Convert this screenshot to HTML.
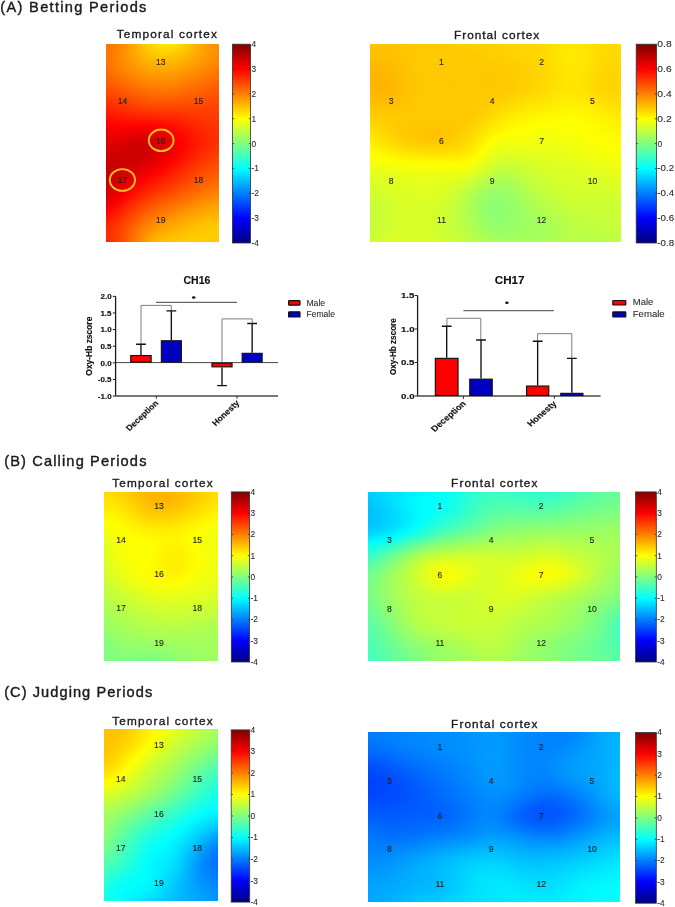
<!DOCTYPE html><html><head><meta charset="utf-8"><style>
*{margin:0;padding:0;box-sizing:border-box}
html,body{width:675px;height:907px;background:#fff;overflow:hidden}
body{position:relative;font-family:"Liberation Sans",sans-serif}
.hm{position:absolute;overflow:hidden}
.hm i{display:block;width:100%}
svg#ov{position:absolute;left:0;top:0;will-change:transform}
</style></head><body><div class="hm" style="left:106px;top:44px;width:113px;height:197.5px"><i style="height:2px;background:linear-gradient(90deg,#ff7300,#ff7600,#ff7d00,#ff8600,#ff9200,#ffa000,#ffae00,#ffbc00,#ffca00,#ffd500,#ffde00,#ffe300,#ffe600,#ffe600,#ffe100,#ffda00,#ffd000,#ffc400,#ffb800,#ffac00,#ffa100,#ff9800,#ff9300,#ff9200)"></i><i style="height:2px;background:linear-gradient(90deg,#ff7400,#ff7800,#ff7f00,#ff8800,#ff9400,#ffa100,#ffae00,#ffbb00,#ffc700,#ffd100,#ffd900,#ffde00,#ffe000,#ffdf00,#ffdc00,#ffd500,#ffcc00,#ffc100,#ffb600,#ffab00,#ffa100,#ff9900,#ff9300,#ff9100)"></i><i style="height:2px;background:linear-gradient(90deg,#ff7500,#ff7900,#ff8000,#ff8a00,#ff9500,#ffa100,#ffad00,#ffb900,#ffc400,#ffcd00,#ffd400,#ffd800,#ffda00,#ffd900,#ffd600,#ffd000,#ffc700,#ffbe00,#ffb400,#ffaa00,#ffa000,#ff9900,#ff9300,#ff9000)"></i><i style="height:2px;background:linear-gradient(90deg,#ff7500,#ff7a00,#ff8100,#ff8b00,#ff9500,#ffa000,#ffac00,#ffb700,#ffc100,#ffc900,#ffcf00,#ffd300,#ffd500,#ffd400,#ffd000,#ffcb00,#ffc300,#ffbb00,#ffb200,#ffa800,#ffa000,#ff9800,#ff9200,#ff8f00)"></i><i style="height:2px;background:linear-gradient(90deg,#ff7500,#ff7a00,#ff8200,#ff8b00,#ff9500,#ffa000,#ffaa00,#ffb400,#ffbd00,#ffc500,#ffca00,#ffce00,#ffcf00,#ffce00,#ffcb00,#ffc600,#ffbf00,#ffb700,#ffaf00,#ffa700,#ff9e00,#ff9700,#ff9100,#ff8d00)"></i><i style="height:2px;background:linear-gradient(90deg,#ff7500,#ff7b00,#ff8200,#ff8b00,#ff9500,#ff9f00,#ffa900,#ffb200,#ffba00,#ffc100,#ffc600,#ffc900,#ffca00,#ffc900,#ffc600,#ffc100,#ffbb00,#ffb400,#ffac00,#ffa500,#ff9d00,#ff9600,#ff9000,#ff8b00)"></i><i style="height:2px;background:linear-gradient(90deg,#ff7400,#ff7a00,#ff8200,#ff8b00,#ff9400,#ff9d00,#ffa700,#ffaf00,#ffb700,#ffbd00,#ffc100,#ffc400,#ffc500,#ffc400,#ffc100,#ffbd00,#ffb700,#ffb000,#ffa900,#ffa200,#ff9b00,#ff9400,#ff8e00,#ff8900)"></i><i style="height:2px;background:linear-gradient(90deg,#ff7400,#ff7a00,#ff8200,#ff8a00,#ff9300,#ff9c00,#ffa400,#ffac00,#ffb300,#ffb900,#ffbd00,#ffbf00,#ffc000,#ffbe00,#ffbc00,#ffb800,#ffb300,#ffad00,#ffa600,#ffa000,#ff9900,#ff9200,#ff8c00,#ff8700)"></i><i style="height:2px;background:linear-gradient(90deg,#ff7300,#ff7900,#ff8100,#ff8900,#ff9100,#ff9a00,#ffa200,#ffa900,#ffb000,#ffb500,#ffb900,#ffba00,#ffbb00,#ffba00,#ffb700,#ffb300,#ffaf00,#ffa900,#ffa300,#ff9d00,#ff9600,#ff9000,#ff8a00,#ff8400)"></i><i style="height:2px;background:linear-gradient(90deg,#ff7100,#ff7800,#ff7f00,#ff8700,#ff8f00,#ff9700,#ff9f00,#ffa600,#ffac00,#ffb100,#ffb400,#ffb600,#ffb600,#ffb500,#ffb200,#ffaf00,#ffaa00,#ffa500,#ffa000,#ff9a00,#ff9300,#ff8d00,#ff8700,#ff8200)"></i><i style="height:2px;background:linear-gradient(90deg,#ff7000,#ff7700,#ff7e00,#ff8500,#ff8d00,#ff9500,#ff9c00,#ffa300,#ffa800,#ffad00,#ffb000,#ffb100,#ffb100,#ffb000,#ffae00,#ffaa00,#ffa600,#ffa100,#ff9c00,#ff9600,#ff9000,#ff8a00,#ff8500,#ff7f00)"></i><i style="height:2px;background:linear-gradient(90deg,#ff6e00,#ff7500,#ff7c00,#ff8300,#ff8b00,#ff9200,#ff9900,#ff9f00,#ffa500,#ffa900,#ffab00,#ffad00,#ffad00,#ffab00,#ffa900,#ffa600,#ffa200,#ff9d00,#ff9800,#ff9300,#ff8d00,#ff8700,#ff8200,#ff7c00)"></i><i style="height:2px;background:linear-gradient(90deg,#ff6d00,#ff7300,#ff7a00,#ff8100,#ff8800,#ff8f00,#ff9600,#ff9c00,#ffa100,#ffa500,#ffa700,#ffa800,#ffa800,#ffa700,#ffa500,#ffa200,#ff9e00,#ff9900,#ff9400,#ff8f00,#ff8a00,#ff8400,#ff7f00,#ff7900)"></i><i style="height:2px;background:linear-gradient(90deg,#ff6b00,#ff7100,#ff7700,#ff7e00,#ff8500,#ff8c00,#ff9200,#ff9800,#ff9d00,#ffa000,#ffa300,#ffa400,#ffa300,#ffa200,#ffa000,#ff9d00,#ff9900,#ff9500,#ff9000,#ff8b00,#ff8600,#ff8100,#ff7b00,#ff7600)"></i><i style="height:2px;background:linear-gradient(90deg,#ff6800,#ff6e00,#ff7400,#ff7b00,#ff8200,#ff8800,#ff8e00,#ff9400,#ff9800,#ff9c00,#ff9e00,#ff9f00,#ff9f00,#ff9e00,#ff9c00,#ff9900,#ff9500,#ff9100,#ff8c00,#ff8800,#ff8200,#ff7d00,#ff7800,#ff7300)"></i><i style="height:2px;background:linear-gradient(90deg,#ff6600,#ff6b00,#ff7100,#ff7800,#ff7e00,#ff8400,#ff8a00,#ff9000,#ff9400,#ff9800,#ff9a00,#ff9b00,#ff9a00,#ff9900,#ff9700,#ff9400,#ff9100,#ff8d00,#ff8800,#ff8400,#ff7f00,#ff7a00,#ff7500,#ff7000)"></i><i style="height:2px;background:linear-gradient(90deg,#ff6300,#ff6800,#ff6e00,#ff7400,#ff7a00,#ff8000,#ff8600,#ff8c00,#ff9000,#ff9300,#ff9500,#ff9600,#ff9600,#ff9500,#ff9300,#ff9000,#ff8c00,#ff8800,#ff8400,#ff7f00,#ff7b00,#ff7600,#ff7100,#ff6d00)"></i><i style="height:2px;background:linear-gradient(90deg,#ff6000,#ff6500,#ff6b00,#ff7000,#ff7600,#ff7c00,#ff8200,#ff8700,#ff8b00,#ff8f00,#ff9100,#ff9200,#ff9100,#ff9000,#ff8e00,#ff8b00,#ff8800,#ff8400,#ff8000,#ff7b00,#ff7700,#ff7200,#ff6e00,#ff6900)"></i><i style="height:2px;background:linear-gradient(90deg,#ff5d00,#ff6200,#ff6700,#ff6d00,#ff7200,#ff7800,#ff7e00,#ff8300,#ff8700,#ff8a00,#ff8c00,#ff8d00,#ff8d00,#ff8c00,#ff8a00,#ff8700,#ff8400,#ff8000,#ff7c00,#ff7700,#ff7300,#ff6e00,#ff6a00,#ff6600)"></i><i style="height:2px;background:linear-gradient(90deg,#ff5a00,#ff5e00,#ff6300,#ff6900,#ff6e00,#ff7400,#ff7900,#ff7e00,#ff8200,#ff8600,#ff8800,#ff8800,#ff8800,#ff8700,#ff8500,#ff8200,#ff7f00,#ff7b00,#ff7700,#ff7300,#ff6f00,#ff6a00,#ff6600,#ff6300)"></i><i style="height:2px;background:linear-gradient(90deg,#ff5700,#ff5a00,#ff5f00,#ff6400,#ff6a00,#ff6f00,#ff7500,#ff7900,#ff7e00,#ff8100,#ff8300,#ff8400,#ff8400,#ff8200,#ff8000,#ff7e00,#ff7b00,#ff7700,#ff7300,#ff6f00,#ff6b00,#ff6700,#ff6300,#ff6000)"></i><i style="height:2px;background:linear-gradient(90deg,#ff5300,#ff5700,#ff5b00,#ff6000,#ff6500,#ff6b00,#ff7000,#ff7500,#ff7900,#ff7c00,#ff7e00,#ff7f00,#ff7f00,#ff7e00,#ff7c00,#ff7900,#ff7600,#ff7200,#ff6f00,#ff6b00,#ff6700,#ff6300,#ff5f00,#ff5c00)"></i><i style="height:2px;background:linear-gradient(90deg,#ff4f00,#ff5300,#ff5700,#ff5c00,#ff6100,#ff6600,#ff6b00,#ff7000,#ff7400,#ff7700,#ff7900,#ff7a00,#ff7a00,#ff7900,#ff7700,#ff7400,#ff7100,#ff6e00,#ff6a00,#ff6700,#ff6300,#ff5f00,#ff5c00,#ff5900)"></i><i style="height:2px;background:linear-gradient(90deg,#ff4b00,#ff4e00,#ff5200,#ff5700,#ff5c00,#ff6100,#ff6600,#ff6b00,#ff6f00,#ff7200,#ff7400,#ff7500,#ff7500,#ff7400,#ff7200,#ff7000,#ff6d00,#ff6a00,#ff6600,#ff6300,#ff5f00,#ff5c00,#ff5900,#ff5600)"></i><i style="height:2px;background:linear-gradient(90deg,#ff4700,#ff4a00,#ff4e00,#ff5300,#ff5700,#ff5c00,#ff6100,#ff6600,#ff6a00,#ff6d00,#ff6f00,#ff7000,#ff7000,#ff6f00,#ff6d00,#ff6b00,#ff6800,#ff6500,#ff6200,#ff5f00,#ff5b00,#ff5800,#ff5600,#ff5400)"></i><i style="height:2px;background:linear-gradient(90deg,#ff4300,#ff4600,#ff4a00,#ff4e00,#ff5300,#ff5800,#ff5c00,#ff6100,#ff6500,#ff6800,#ff6a00,#ff6a00,#ff6a00,#ff6900,#ff6800,#ff6600,#ff6300,#ff6100,#ff5e00,#ff5b00,#ff5800,#ff5500,#ff5300,#ff5100)"></i><i style="height:2px;background:linear-gradient(90deg,#ff3e00,#ff4100,#ff4500,#ff4900,#ff4e00,#ff5300,#ff5700,#ff5c00,#ff5f00,#ff6200,#ff6400,#ff6500,#ff6500,#ff6400,#ff6300,#ff6100,#ff5f00,#ff5c00,#ff5a00,#ff5700,#ff5500,#ff5200,#ff5000,#ff4e00)"></i><i style="height:2px;background:linear-gradient(90deg,#ff3a00,#ff3d00,#ff4000,#ff4500,#ff4900,#ff4e00,#ff5200,#ff5600,#ff5a00,#ff5d00,#ff5e00,#ff5f00,#ff5f00,#ff5e00,#ff5d00,#ff5c00,#ff5a00,#ff5800,#ff5600,#ff5300,#ff5100,#ff4f00,#ff4d00,#ff4c00)"></i><i style="height:2px;background:linear-gradient(90deg,#ff3500,#ff3800,#ff3c00,#ff4000,#ff4400,#ff4900,#ff4d00,#ff5100,#ff5500,#ff5700,#ff5900,#ff5900,#ff5900,#ff5900,#ff5800,#ff5600,#ff5500,#ff5300,#ff5200,#ff5000,#ff4e00,#ff4d00,#ff4b00,#ff4900)"></i><i style="height:2px;background:linear-gradient(90deg,#ff3100,#ff3300,#ff3700,#ff3b00,#ff3f00,#ff4400,#ff4800,#ff4c00,#ff4f00,#ff5100,#ff5300,#ff5300,#ff5300,#ff5300,#ff5200,#ff5100,#ff5000,#ff4f00,#ff4e00,#ff4c00,#ff4b00,#ff4a00,#ff4900,#ff4700)"></i><i style="height:2px;background:linear-gradient(90deg,#ff2c00,#ff2f00,#ff3200,#ff3600,#ff3a00,#ff3f00,#ff4200,#ff4600,#ff4900,#ff4b00,#ff4d00,#ff4d00,#ff4d00,#ff4d00,#ff4c00,#ff4c00,#ff4b00,#ff4b00,#ff4a00,#ff4900,#ff4800,#ff4700,#ff4600,#ff4500)"></i><i style="height:2px;background:linear-gradient(90deg,#ff2700,#ff2a00,#ff2e00,#ff3100,#ff3500,#ff3900,#ff3d00,#ff4000,#ff4300,#ff4500,#ff4600,#ff4700,#ff4700,#ff4700,#ff4700,#ff4700,#ff4600,#ff4600,#ff4600,#ff4600,#ff4500,#ff4500,#ff4400,#ff4300)"></i><i style="height:2px;background:linear-gradient(90deg,#ff2200,#ff2500,#ff2900,#ff2d00,#ff3000,#ff3400,#ff3700,#ff3a00,#ff3d00,#ff3f00,#ff4000,#ff4100,#ff4100,#ff4100,#ff4100,#ff4100,#ff4200,#ff4200,#ff4200,#ff4300,#ff4300,#ff4200,#ff4200,#ff4100)"></i><i style="height:2px;background:linear-gradient(90deg,#ff1d00,#ff2100,#ff2400,#ff2800,#ff2b00,#ff2f00,#ff3200,#ff3400,#ff3700,#ff3800,#ff3900,#ff3a00,#ff3a00,#ff3b00,#ff3b00,#ff3c00,#ff3d00,#ff3e00,#ff3f00,#ff3f00,#ff4000,#ff4000,#ff4000,#ff3f00)"></i><i style="height:2px;background:linear-gradient(90deg,#ff1900,#ff1c00,#ff1f00,#ff2300,#ff2600,#ff2900,#ff2c00,#ff2e00,#ff3000,#ff3200,#ff3300,#ff3300,#ff3400,#ff3500,#ff3500,#ff3600,#ff3800,#ff3900,#ff3b00,#ff3c00,#ff3d00,#ff3e00,#ff3e00,#ff3e00)"></i><i style="height:2px;background:linear-gradient(90deg,#ff1400,#ff1800,#ff1b00,#ff1e00,#ff2100,#ff2300,#ff2600,#ff2800,#ff2900,#ff2b00,#ff2c00,#ff2d00,#ff2d00,#ff2e00,#ff3000,#ff3100,#ff3300,#ff3500,#ff3700,#ff3900,#ff3b00,#ff3c00,#ff3c00,#ff3c00)"></i><i style="height:2px;background:linear-gradient(90deg,#ff1000,#ff1300,#ff1600,#ff1900,#ff1b00,#ff1d00,#ff1f00,#ff2100,#ff2200,#ff2400,#ff2500,#ff2600,#ff2700,#ff2800,#ff2a00,#ff2c00,#ff2e00,#ff3100,#ff3400,#ff3600,#ff3800,#ff3a00,#ff3a00,#ff3a00)"></i><i style="height:2px;background:linear-gradient(90deg,#ff0b00,#ff0f00,#ff1100,#ff1400,#ff1600,#ff1800,#ff1900,#ff1a00,#ff1b00,#ff1c00,#ff1d00,#ff1e00,#ff2000,#ff2200,#ff2400,#ff2700,#ff2a00,#ff2d00,#ff3000,#ff3300,#ff3500,#ff3700,#ff3900,#ff3900)"></i><i style="height:2px;background:linear-gradient(90deg,#ff0700,#ff0a00,#ff0d00,#ff0f00,#ff1000,#ff1100,#ff1200,#ff1300,#ff1400,#ff1500,#ff1600,#ff1700,#ff1900,#ff1b00,#ff1e00,#ff2200,#ff2500,#ff2900,#ff2d00,#ff3000,#ff3300,#ff3500,#ff3700,#ff3700)"></i><i style="height:2px;background:linear-gradient(90deg,#ff0300,#ff0600,#ff0800,#ff0a00,#ff0b00,#ff0b00,#ff0c00,#ff0c00,#ff0c00,#ff0d00,#ff0e00,#ff1000,#ff1200,#ff1500,#ff1900,#ff1c00,#ff2100,#ff2500,#ff2900,#ff2d00,#ff3000,#ff3300,#ff3500,#ff3600)"></i><i style="height:2px;background:linear-gradient(90deg,#fe0000,#ff0200,#ff0400,#ff0500,#ff0500,#ff0500,#ff0500,#ff0500,#ff0500,#ff0500,#ff0700,#ff0900,#ff0c00,#ff0f00,#ff1300,#ff1800,#ff1c00,#ff2100,#ff2600,#ff2a00,#ff2e00,#ff3100,#ff3300,#ff3500)"></i><i style="height:2px;background:linear-gradient(90deg,#fa0000,#fd0000,#fe0000,#ff0000,#ff0000,#fe0000,#fd0000,#fd0000,#fc0000,#fd0000,#fe0000,#ff0200,#ff0500,#ff0900,#ff0e00,#ff1300,#ff1800,#ff1e00,#ff2300,#ff2800,#ff2c00,#ff2f00,#ff3200,#ff3300)"></i><i style="height:2px;background:linear-gradient(90deg,#f60000,#f90000,#fa0000,#fa0000,#f90000,#f80000,#f70000,#f60000,#f50000,#f60000,#f70000,#fa0000,#fe0000,#ff0400,#ff0900,#ff0f00,#ff1500,#ff1a00,#ff2000,#ff2500,#ff2a00,#ff2e00,#ff3100,#ff3300)"></i><i style="height:2px;background:linear-gradient(90deg,#f20000,#f50000,#f60000,#f50000,#f40000,#f20000,#f10000,#ef0000,#ee0000,#ef0000,#f10000,#f40000,#f80000,#fe0000,#ff0500,#ff0b00,#ff1100,#ff1700,#ff1d00,#ff2300,#ff2800,#ff2c00,#ff3000,#ff3200)"></i><i style="height:2px;background:linear-gradient(90deg,#ef0000,#f10000,#f20000,#f10000,#ef0000,#ed0000,#eb0000,#e90000,#e80000,#e80000,#ea0000,#ee0000,#f30000,#f90000,#ff0100,#ff0700,#ff0e00,#ff1500,#ff1b00,#ff2100,#ff2600,#ff2b00,#ff2f00,#ff3100)"></i><i style="height:2px;background:linear-gradient(90deg,#eb0000,#ee0000,#ee0000,#ed0000,#ea0000,#e80000,#e50000,#e30000,#e20000,#e20000,#e50000,#e90000,#ee0000,#f50000,#fc0000,#ff0400,#ff0b00,#ff1200,#ff1900,#ff1f00,#ff2500,#ff2a00,#ff2e00,#ff3100)"></i><i style="height:2px;background:linear-gradient(90deg,#e80000,#ea0000,#ea0000,#e80000,#e60000,#e30000,#e00000,#dd0000,#dc0000,#dd0000,#e00000,#e40000,#ea0000,#f10000,#f90000,#ff0200,#ff0900,#ff1100,#ff1800,#ff1e00,#ff2400,#ff2900,#ff2e00,#ff3100)"></i><i style="height:2px;background:linear-gradient(90deg,#e50000,#e70000,#e60000,#e40000,#e20000,#de0000,#db0000,#d90000,#d80000,#d80000,#db0000,#e00000,#e70000,#ee0000,#f60000,#ff0000,#ff0800,#ff0f00,#ff1700,#ff1e00,#ff2400,#ff2900,#ff2e00,#ff3100)"></i><i style="height:2px;background:linear-gradient(90deg,#e20000,#e30000,#e30000,#e10000,#de0000,#da0000,#d70000,#d50000,#d40000,#d40000,#d80000,#dd0000,#e40000,#ec0000,#f50000,#fd0000,#ff0700,#ff0f00,#ff1600,#ff1d00,#ff2400,#ff2900,#ff2e00,#ff3200)"></i><i style="height:2px;background:linear-gradient(90deg,#df0000,#e00000,#e00000,#dd0000,#da0000,#d70000,#d40000,#d10000,#d00000,#d20000,#d50000,#db0000,#e20000,#eb0000,#f40000,#fd0000,#ff0600,#ff0e00,#ff1600,#ff1d00,#ff2400,#ff2a00,#ff2f00,#ff3300)"></i><i style="height:2px;background:linear-gradient(90deg,#dc0000,#dd0000,#dc0000,#da0000,#d70000,#d40000,#d10000,#cf0000,#ce0000,#d00000,#d40000,#da0000,#e20000,#ea0000,#f40000,#fd0000,#ff0600,#ff0f00,#ff1700,#ff1e00,#ff2500,#ff2b00,#ff3000,#ff3400)"></i><i style="height:2px;background:linear-gradient(90deg,#da0000,#da0000,#d90000,#d70000,#d40000,#d10000,#cf0000,#cd0000,#cd0000,#cf0000,#d30000,#da0000,#e20000,#eb0000,#f40000,#fd0000,#ff0700,#ff1000,#ff1800,#ff1f00,#ff2600,#ff2c00,#ff3100,#ff3600)"></i><i style="height:2px;background:linear-gradient(90deg,#d70000,#d80000,#d70000,#d50000,#d20000,#d00000,#ce0000,#cc0000,#cd0000,#cf0000,#d40000,#da0000,#e30000,#ec0000,#f50000,#fe0000,#ff0900,#ff1100,#ff1900,#ff2100,#ff2800,#ff2e00,#ff3300,#ff3800)"></i><i style="height:2px;background:linear-gradient(90deg,#d50000,#d50000,#d40000,#d30000,#d00000,#ce0000,#cd0000,#cc0000,#cd0000,#d00000,#d50000,#dc0000,#e40000,#ed0000,#f70000,#ff0100,#ff0a00,#ff1300,#ff1b00,#ff2300,#ff2a00,#ff3000,#ff3500,#ff3a00)"></i><i style="height:2px;background:linear-gradient(90deg,#d20000,#d30000,#d20000,#d10000,#cf0000,#ce0000,#cd0000,#cd0000,#ce0000,#d10000,#d70000,#de0000,#e60000,#f00000,#f90000,#ff0400,#ff0d00,#ff1500,#ff1e00,#ff2500,#ff2c00,#ff3300,#ff3800,#ff3c00)"></i><i style="height:2px;background:linear-gradient(90deg,#d00000,#d10000,#d00000,#cf0000,#ce0000,#cd0000,#cd0000,#ce0000,#d00000,#d30000,#d90000,#e00000,#e90000,#f20000,#fc0000,#ff0600,#ff0f00,#ff1800,#ff2000,#ff2800,#ff2f00,#ff3500,#ff3b00,#ff3f00)"></i><i style="height:2px;background:linear-gradient(90deg,#ce0000,#cf0000,#ce0000,#ce0000,#cd0000,#cd0000,#ce0000,#cf0000,#d20000,#d60000,#dc0000,#e40000,#ec0000,#f60000,#ff0000,#ff0900,#ff1300,#ff1b00,#ff2300,#ff2b00,#ff3200,#ff3800,#ff3e00,#ff4200)"></i><i style="height:2px;background:linear-gradient(90deg,#cc0000,#cd0000,#cd0000,#cd0000,#cd0000,#ce0000,#cf0000,#d10000,#d50000,#d90000,#e00000,#e70000,#f00000,#f90000,#ff0400,#ff0d00,#ff1600,#ff1e00,#ff2700,#ff2e00,#ff3500,#ff3b00,#ff4100,#ff4500)"></i><i style="height:2px;background:linear-gradient(90deg,#ca0000,#cb0000,#cc0000,#cc0000,#cd0000,#cf0000,#d10000,#d40000,#d80000,#dd0000,#e30000,#eb0000,#f40000,#fd0000,#ff0700,#ff1100,#ff1900,#ff2200,#ff2a00,#ff3200,#ff3800,#ff3f00,#ff4400,#ff4800)"></i><i style="height:2px;background:linear-gradient(90deg,#c90000,#ca0000,#cb0000,#cc0000,#ce0000,#d00000,#d30000,#d70000,#db0000,#e10000,#e80000,#f00000,#f80000,#ff0200,#ff0b00,#ff1400,#ff1d00,#ff2600,#ff2e00,#ff3500,#ff3c00,#ff4200,#ff4700,#ff4b00)"></i><i style="height:2px;background:linear-gradient(90deg,#c70000,#c90000,#ca0000,#cc0000,#cf0000,#d20000,#d50000,#da0000,#df0000,#e50000,#ec0000,#f40000,#fd0000,#ff0700,#ff1000,#ff1800,#ff2100,#ff2900,#ff3100,#ff3900,#ff3f00,#ff4500,#ff4a00,#ff4f00)"></i><i style="height:2px;background:linear-gradient(90deg,#c60000,#c80000,#ca0000,#cd0000,#d00000,#d40000,#d80000,#dd0000,#e30000,#ea0000,#f10000,#f90000,#ff0200,#ff0b00,#ff1400,#ff1d00,#ff2500,#ff2d00,#ff3500,#ff3c00,#ff4300,#ff4900,#ff4e00,#ff5200)"></i><i style="height:2px;background:linear-gradient(90deg,#c50000,#c70000,#ca0000,#ce0000,#d20000,#d60000,#db0000,#e10000,#e70000,#ee0000,#f60000,#fe0000,#ff0700,#ff0f00,#ff1800,#ff2100,#ff2900,#ff3100,#ff3900,#ff4000,#ff4700,#ff4c00,#ff5100,#ff5500)"></i><i style="height:2px;background:linear-gradient(90deg,#c40000,#c70000,#cb0000,#cf0000,#d40000,#d90000,#df0000,#e50000,#ec0000,#f30000,#fb0000,#ff0300,#ff0c00,#ff1400,#ff1c00,#ff2500,#ff2d00,#ff3500,#ff3d00,#ff4400,#ff4a00,#ff5000,#ff5500,#ff5800)"></i><i style="height:2px;background:linear-gradient(90deg,#c30000,#c70000,#cb0000,#d00000,#d60000,#dc0000,#e20000,#e90000,#f00000,#f80000,#ff0000,#ff0800,#ff1000,#ff1800,#ff2100,#ff2900,#ff3100,#ff3900,#ff4100,#ff4800,#ff4e00,#ff5400,#ff5800,#ff5c00)"></i><i style="height:2px;background:linear-gradient(90deg,#c30000,#c70000,#cc0000,#d20000,#d80000,#df0000,#e60000,#ed0000,#f50000,#fd0000,#ff0500,#ff0d00,#ff1500,#ff1d00,#ff2500,#ff2d00,#ff3500,#ff3d00,#ff4400,#ff4b00,#ff5200,#ff5700,#ff5c00,#ff5f00)"></i><i style="height:2px;background:linear-gradient(90deg,#c20000,#c80000,#ce0000,#d40000,#db0000,#e30000,#ea0000,#f20000,#fa0000,#ff0300,#ff0a00,#ff1200,#ff1a00,#ff2200,#ff2900,#ff3100,#ff3900,#ff4100,#ff4800,#ff4f00,#ff5500,#ff5b00,#ff5f00,#ff6200)"></i><i style="height:2px;background:linear-gradient(90deg,#c20000,#c90000,#cf0000,#d70000,#de0000,#e60000,#ee0000,#f70000,#ff0000,#ff0800,#ff1000,#ff1700,#ff1f00,#ff2600,#ff2e00,#ff3600,#ff3d00,#ff4500,#ff4c00,#ff5300,#ff5900,#ff5f00,#ff6300,#ff6600)"></i><i style="height:2px;background:linear-gradient(90deg,#c30000,#ca0000,#d10000,#d90000,#e20000,#ea0000,#f30000,#fb0000,#ff0500,#ff0d00,#ff1500,#ff1c00,#ff2400,#ff2b00,#ff3200,#ff3a00,#ff4200,#ff4900,#ff5000,#ff5700,#ff5d00,#ff6200,#ff6600,#ff6900)"></i><i style="height:2px;background:linear-gradient(90deg,#c40000,#cb0000,#d40000,#dc0000,#e50000,#ee0000,#f70000,#ff0100,#ff0a00,#ff1200,#ff1a00,#ff2100,#ff2900,#ff3000,#ff3700,#ff3f00,#ff4600,#ff4e00,#ff5500,#ff5b00,#ff6100,#ff6600,#ff6a00,#ff6d00)"></i><i style="height:2px;background:linear-gradient(90deg,#c50000,#cd0000,#d70000,#e00000,#e90000,#f30000,#fc0000,#ff0600,#ff0f00,#ff1800,#ff1f00,#ff2700,#ff2e00,#ff3500,#ff3c00,#ff4300,#ff4b00,#ff5200,#ff5900,#ff5f00,#ff6500,#ff6a00,#ff6e00,#ff7100)"></i><i style="height:2px;background:linear-gradient(90deg,#c60000,#d00000,#da0000,#e40000,#ee0000,#f70000,#ff0200,#ff0c00,#ff1500,#ff1d00,#ff2500,#ff2c00,#ff3300,#ff3a00,#ff4100,#ff4800,#ff4f00,#ff5600,#ff5d00,#ff6400,#ff6a00,#ff6e00,#ff7200,#ff7500)"></i><i style="height:2px;background:linear-gradient(90deg,#c90000,#d30000,#dd0000,#e70000,#f20000,#fc0000,#ff0700,#ff1100,#ff1a00,#ff2200,#ff2a00,#ff3100,#ff3800,#ff3f00,#ff4600,#ff4d00,#ff5400,#ff5b00,#ff6200,#ff6800,#ff6e00,#ff7300,#ff7600,#ff7900)"></i><i style="height:2px;background:linear-gradient(90deg,#cb0000,#d60000,#e10000,#ec0000,#f60000,#ff0200,#ff0c00,#ff1600,#ff1f00,#ff2800,#ff3000,#ff3700,#ff3d00,#ff4400,#ff4b00,#ff5200,#ff5900,#ff6000,#ff6700,#ff6d00,#ff7300,#ff7700,#ff7b00,#ff7d00)"></i><i style="height:2px;background:linear-gradient(90deg,#cf0000,#da0000,#e50000,#f00000,#fb0000,#ff0700,#ff1200,#ff1c00,#ff2500,#ff2e00,#ff3500,#ff3c00,#ff4300,#ff4900,#ff5000,#ff5700,#ff5e00,#ff6500,#ff6c00,#ff7200,#ff7700,#ff7c00,#ff7f00,#ff8100)"></i><i style="height:2px;background:linear-gradient(90deg,#d20000,#de0000,#e90000,#f50000,#ff0100,#ff0c00,#ff1700,#ff2100,#ff2b00,#ff3300,#ff3b00,#ff4200,#ff4900,#ff4f00,#ff5500,#ff5c00,#ff6300,#ff6a00,#ff7100,#ff7700,#ff7c00,#ff8100,#ff8400,#ff8600)"></i><i style="height:2px;background:linear-gradient(90deg,#d70000,#e20000,#ee0000,#fa0000,#ff0600,#ff1200,#ff1c00,#ff2700,#ff3000,#ff3900,#ff4100,#ff4800,#ff4e00,#ff5500,#ff5b00,#ff6200,#ff6900,#ff6f00,#ff7600,#ff7c00,#ff8100,#ff8500,#ff8900,#ff8b00)"></i><i style="height:2px;background:linear-gradient(90deg,#db0000,#e70000,#f30000,#ff0000,#ff0c00,#ff1700,#ff2200,#ff2c00,#ff3600,#ff3f00,#ff4700,#ff4d00,#ff5400,#ff5a00,#ff6100,#ff6700,#ff6e00,#ff7500,#ff7b00,#ff8100,#ff8600,#ff8a00,#ff8e00,#ff8f00)"></i><i style="height:2px;background:linear-gradient(90deg,#e00000,#ec0000,#f80000,#ff0500,#ff1100,#ff1c00,#ff2700,#ff3200,#ff3c00,#ff4400,#ff4c00,#ff5300,#ff5a00,#ff6000,#ff6600,#ff6d00,#ff7400,#ff7a00,#ff8100,#ff8600,#ff8b00,#ff9000,#ff9300,#ff9400)"></i><i style="height:2px;background:linear-gradient(90deg,#e60000,#f10000,#fd0000,#ff0a00,#ff1600,#ff2200,#ff2d00,#ff3700,#ff4100,#ff4a00,#ff5200,#ff5900,#ff6000,#ff6600,#ff6c00,#ff7300,#ff7900,#ff8000,#ff8600,#ff8c00,#ff9100,#ff9500,#ff9800,#ff9900)"></i><i style="height:2px;background:linear-gradient(90deg,#eb0000,#f70000,#ff0400,#ff1000,#ff1b00,#ff2700,#ff3200,#ff3d00,#ff4700,#ff5000,#ff5800,#ff5f00,#ff6500,#ff6c00,#ff7200,#ff7800,#ff7f00,#ff8500,#ff8b00,#ff9100,#ff9600,#ff9a00,#ff9d00,#ff9e00)"></i><i style="height:2px;background:linear-gradient(90deg,#f10000,#fc0000,#ff0900,#ff1500,#ff2100,#ff2c00,#ff3800,#ff4300,#ff4d00,#ff5600,#ff5e00,#ff6500,#ff6b00,#ff7200,#ff7800,#ff7e00,#ff8500,#ff8b00,#ff9100,#ff9600,#ff9b00,#ff9f00,#ffa200,#ffa300)"></i><i style="height:2px;background:linear-gradient(90deg,#f70000,#ff0300,#ff0e00,#ff1a00,#ff2600,#ff3200,#ff3d00,#ff4800,#ff5200,#ff5b00,#ff6300,#ff6b00,#ff7100,#ff7700,#ff7e00,#ff8400,#ff8a00,#ff9000,#ff9600,#ff9b00,#ffa000,#ffa400,#ffa600,#ffa800)"></i><i style="height:2px;background:linear-gradient(90deg,#fc0000,#ff0800,#ff1400,#ff1f00,#ff2b00,#ff3700,#ff4200,#ff4d00,#ff5800,#ff6100,#ff6900,#ff7000,#ff7700,#ff7d00,#ff8300,#ff8a00,#ff9000,#ff9600,#ff9b00,#ffa000,#ffa500,#ffa900,#ffab00,#ffad00)"></i><i style="height:2px;background:linear-gradient(90deg,#ff0300,#ff0e00,#ff1900,#ff2400,#ff3000,#ff3c00,#ff4800,#ff5300,#ff5d00,#ff6700,#ff6f00,#ff7600,#ff7d00,#ff8300,#ff8900,#ff8f00,#ff9500,#ff9b00,#ffa100,#ffa500,#ffaa00,#ffad00,#ffb000,#ffb100)"></i><i style="height:2px;background:linear-gradient(90deg,#ff0900,#ff1300,#ff1e00,#ff2900,#ff3500,#ff4100,#ff4d00,#ff5800,#ff6300,#ff6c00,#ff7500,#ff7c00,#ff8300,#ff8900,#ff8f00,#ff9500,#ff9b00,#ffa000,#ffa600,#ffaa00,#ffae00,#ffb200,#ffb400,#ffb500)"></i><i style="height:2px;background:linear-gradient(90deg,#ff0e00,#ff1800,#ff2200,#ff2e00,#ff3a00,#ff4600,#ff5200,#ff5d00,#ff6800,#ff7200,#ff7a00,#ff8200,#ff8800,#ff8e00,#ff9400,#ff9a00,#ffa000,#ffa500,#ffaa00,#ffaf00,#ffb300,#ffb600,#ffb800,#ffb900)"></i><i style="height:2px;background:linear-gradient(90deg,#ff1300,#ff1c00,#ff2700,#ff3200,#ff3e00,#ff4a00,#ff5600,#ff6200,#ff6d00,#ff7700,#ff8000,#ff8700,#ff8e00,#ff9400,#ff9a00,#ff9f00,#ffa500,#ffaa00,#ffaf00,#ffb300,#ffb700,#ffba00,#ffbc00,#ffbd00)"></i><i style="height:2px;background:linear-gradient(90deg,#ff1800,#ff2100,#ff2b00,#ff3600,#ff4200,#ff4f00,#ff5b00,#ff6700,#ff7200,#ff7c00,#ff8500,#ff8d00,#ff9300,#ff9900,#ff9f00,#ffa400,#ffaa00,#ffaf00,#ffb300,#ffb800,#ffbb00,#ffbe00,#ffbf00,#ffc000)"></i><i style="height:2px;background:linear-gradient(90deg,#ff1d00,#ff2500,#ff2f00,#ff3a00,#ff4600,#ff5300,#ff5f00,#ff6c00,#ff7700,#ff8100,#ff8a00,#ff9200,#ff9800,#ff9e00,#ffa400,#ffa900,#ffae00,#ffb300,#ffb800,#ffbb00,#ffbf00,#ffc100,#ffc300,#ffc300)"></i><i style="height:2px;background:linear-gradient(90deg,#ff2000,#ff2800,#ff3200,#ff3d00,#ff4a00,#ff5700,#ff6300,#ff7000,#ff7c00,#ff8700,#ff9000,#ff9700,#ff9e00,#ffa300,#ffa900,#ffae00,#ffb300,#ffb700,#ffbb00,#ffbf00,#ffc200,#ffc400,#ffc500,#ffc600)"></i><i style="height:2px;background:linear-gradient(90deg,#ff2400,#ff2b00,#ff3500,#ff4000,#ff4d00,#ff5a00,#ff6700,#ff7400,#ff8100,#ff8b00,#ff9500,#ff9c00,#ffa300,#ffa800,#ffad00,#ffb200,#ffb700,#ffbb00,#ffbf00,#ffc200,#ffc500,#ffc700,#ffc800,#ffc800)"></i><i style="height:2px;background:linear-gradient(90deg,#ff2700,#ff2e00,#ff3800,#ff4300,#ff5000,#ff5d00,#ff6b00,#ff7800,#ff8500,#ff9000,#ff9a00,#ffa100,#ffa700,#ffad00,#ffb200,#ffb600,#ffbb00,#ffbf00,#ffc200,#ffc500,#ffc700,#ffc900,#ffca00,#ffca00)"></i><i style="height:2px;background:linear-gradient(90deg,#ff2900,#ff3000,#ff3900,#ff4500,#ff5200,#ff6000,#ff6e00,#ff7c00,#ff8900,#ff9500,#ff9e00,#ffa600,#ffac00,#ffb100,#ffb600,#ffba00,#ffbe00,#ffc200,#ffc500,#ffc700,#ffc900,#ffcb00,#ffcb00,#ffcb00)"></i><i style="height:2px;background:linear-gradient(90deg,#ff2a00,#ff3100,#ff3b00,#ff4600,#ff5400,#ff6300,#ff7100,#ff8000,#ff8d00,#ff9900,#ffa300,#ffaa00,#ffb000,#ffb500,#ffba00,#ffbe00,#ffc100,#ffc400,#ffc700,#ffc900,#ffcb00,#ffcc00,#ffcc00,#ffcb00)"></i><i style="height:2px;background:linear-gradient(90deg,#ff2b00,#ff3100,#ff3b00,#ff4700,#ff5500,#ff6500,#ff7400,#ff8300,#ff9100,#ff9e00,#ffa700,#ffaf00,#ffb500,#ffb900,#ffbd00,#ffc100,#ffc400,#ffc700,#ffc900,#ffcb00,#ffcc00,#ffcc00,#ffcc00,#ffcb00)"></i><i style="height:2px;background:linear-gradient(90deg,#ff2b00,#ff3100,#ff3b00,#ff4800,#ff5600,#ff6600,#ff7600,#ff8600,#ff9500,#ffa200,#ffac00,#ffb300,#ffb900,#ffbd00,#ffc000,#ffc300,#ffc600,#ffc900,#ffcb00,#ffcc00,#ffcd00,#ffcd00,#ffcc00,#ffca00)"></i><i style="height:2px;background:linear-gradient(90deg,#ff2900,#ff3000,#ff3a00,#ff4700,#ff5700,#ff6700,#ff7800,#ff8900,#ff9800,#ffa500,#ffb000,#ffb700,#ffbc00,#ffc000,#ffc300,#ffc600,#ffc800,#ffca00,#ffcb00,#ffcc00,#ffcd00,#ffcc00,#ffcb00,#ffc900)"></i><i style="height:1.5px;background:linear-gradient(90deg,#ff2800,#ff2e00,#ff3800,#ff4600,#ff5600,#ff6800,#ff7a00,#ff8b00,#ff9b00,#ffa900,#ffb300,#ffba00,#ffbf00,#ffc300,#ffc500,#ffc700,#ffc900,#ffcb00,#ffcc00,#ffcc00,#ffcc00,#ffcb00,#ffc900,#ffc700)"></i></div>
<div class="hm" style="left:370px;top:44px;width:250.6px;height:197.5px"><i style="height:2px;background:linear-gradient(90deg,#ffc500,#ffc400,#ffc400,#ffc400,#ffc500,#ffc500,#ffc600,#ffc700,#ffc800,#ffc900,#ffc900,#ffca00,#ffcb00,#ffcb00,#ffcb00,#ffcc00,#ffcc00,#ffcd00,#ffcd00,#ffce00,#ffce00,#ffcf00,#ffcf00,#ffd000,#ffd000,#ffd100,#ffd200,#ffd200,#ffd300,#ffd400,#ffd500,#ffd600,#ffd700,#ffd800,#ffd900,#ffdb00,#ffde00,#ffe000,#ffe300,#ffe500,#ffe600,#ffe600,#ffe500,#ffe300,#ffe100,#ffde00,#ffdc00,#ffda00,#ffd900,#ffda00,#ffdb00)"></i><i style="height:2px;background:linear-gradient(90deg,#ffc400,#ffc300,#ffc300,#ffc400,#ffc400,#ffc500,#ffc600,#ffc700,#ffc800,#ffc900,#ffc900,#ffca00,#ffca00,#ffcb00,#ffcb00,#ffcb00,#ffcc00,#ffcc00,#ffcc00,#ffcd00,#ffcd00,#ffce00,#ffce00,#ffcf00,#ffd000,#ffd000,#ffd100,#ffd200,#ffd300,#ffd400,#ffd500,#ffd600,#ffd600,#ffd800,#ffd900,#ffdb00,#ffde00,#ffe100,#ffe400,#ffe600,#ffe700,#ffe700,#ffe600,#ffe400,#ffe100,#ffdf00,#ffdc00,#ffda00,#ffd900,#ffda00,#ffdc00)"></i><i style="height:2px;background:linear-gradient(90deg,#ffc300,#ffc200,#ffc200,#ffc300,#ffc300,#ffc400,#ffc500,#ffc600,#ffc700,#ffc800,#ffc900,#ffca00,#ffca00,#ffcb00,#ffcb00,#ffcb00,#ffcb00,#ffcb00,#ffcc00,#ffcc00,#ffcc00,#ffcd00,#ffce00,#ffce00,#ffcf00,#ffd000,#ffd100,#ffd200,#ffd300,#ffd400,#ffd500,#ffd500,#ffd600,#ffd700,#ffd900,#ffdb00,#ffde00,#ffe100,#ffe400,#ffe700,#ffe800,#ffe800,#ffe700,#ffe500,#ffe200,#ffdf00,#ffdc00,#ffda00,#ffd900,#ffda00,#ffdc00)"></i><i style="height:2px;background:linear-gradient(90deg,#ffc200,#ffc100,#ffc100,#ffc200,#ffc200,#ffc400,#ffc500,#ffc600,#ffc700,#ffc800,#ffc900,#ffca00,#ffca00,#ffca00,#ffca00,#ffcb00,#ffcb00,#ffcb00,#ffcb00,#ffcb00,#ffcc00,#ffcc00,#ffcd00,#ffce00,#ffce00,#ffcf00,#ffd000,#ffd100,#ffd200,#ffd300,#ffd400,#ffd500,#ffd600,#ffd700,#ffd900,#ffdb00,#ffde00,#ffe100,#ffe500,#ffe700,#ffe900,#ffe900,#ffe700,#ffe500,#ffe200,#ffdf00,#ffdc00,#ffda00,#ffd900,#ffd900,#ffdc00)"></i><i style="height:2px;background:linear-gradient(90deg,#ffc100,#ffc000,#ffc000,#ffc100,#ffc200,#ffc300,#ffc400,#ffc600,#ffc700,#ffc800,#ffc900,#ffca00,#ffca00,#ffca00,#ffca00,#ffca00,#ffca00,#ffca00,#ffca00,#ffcb00,#ffcb00,#ffcc00,#ffcc00,#ffcd00,#ffce00,#ffcf00,#ffd000,#ffd100,#ffd200,#ffd300,#ffd400,#ffd500,#ffd500,#ffd700,#ffd800,#ffdb00,#ffde00,#ffe100,#ffe500,#ffe800,#ffe900,#ffe900,#ffe800,#ffe500,#ffe200,#ffdf00,#ffdc00,#ffda00,#ffd900,#ffd900,#ffdb00)"></i><i style="height:2px;background:linear-gradient(90deg,#ffc000,#ffbf00,#ffbf00,#ffc000,#ffc100,#ffc200,#ffc400,#ffc500,#ffc700,#ffc800,#ffc900,#ffca00,#ffca00,#ffca00,#ffca00,#ffca00,#ffca00,#ffca00,#ffca00,#ffca00,#ffcb00,#ffcb00,#ffcc00,#ffcc00,#ffcd00,#ffce00,#ffcf00,#ffd000,#ffd100,#ffd200,#ffd300,#ffd400,#ffd500,#ffd600,#ffd800,#ffda00,#ffde00,#ffe100,#ffe500,#ffe800,#ffea00,#ffe900,#ffe800,#ffe500,#ffe200,#ffdf00,#ffdc00,#ffda00,#ffd800,#ffd900,#ffdb00)"></i><i style="height:2px;background:linear-gradient(90deg,#ffbf00,#ffbe00,#ffbe00,#ffbf00,#ffc000,#ffc100,#ffc300,#ffc500,#ffc600,#ffc800,#ffc900,#ffca00,#ffca00,#ffca00,#ffca00,#ffca00,#ffc900,#ffc900,#ffca00,#ffca00,#ffca00,#ffca00,#ffcb00,#ffcc00,#ffcc00,#ffcd00,#ffce00,#ffcf00,#ffd000,#ffd200,#ffd300,#ffd300,#ffd400,#ffd600,#ffd700,#ffda00,#ffdd00,#ffe100,#ffe500,#ffe800,#ffea00,#ffea00,#ffe800,#ffe500,#ffe200,#ffdf00,#ffdc00,#ffd900,#ffd800,#ffd800,#ffdb00)"></i><i style="height:2px;background:linear-gradient(90deg,#ffbd00,#ffbd00,#ffbd00,#ffbe00,#ffbf00,#ffc000,#ffc200,#ffc400,#ffc600,#ffc800,#ffc900,#ffc900,#ffca00,#ffca00,#ffc900,#ffc900,#ffc900,#ffc900,#ffc900,#ffc900,#ffca00,#ffca00,#ffca00,#ffcb00,#ffcc00,#ffcd00,#ffce00,#ffcf00,#ffd000,#ffd100,#ffd200,#ffd300,#ffd400,#ffd500,#ffd700,#ffda00,#ffdd00,#ffe100,#ffe500,#ffe800,#ffea00,#ffe900,#ffe800,#ffe500,#ffe200,#ffde00,#ffdb00,#ffd900,#ffd700,#ffd800,#ffdb00)"></i><i style="height:2px;background:linear-gradient(90deg,#ffbc00,#ffbc00,#ffbc00,#ffbd00,#ffbe00,#ffc000,#ffc200,#ffc400,#ffc600,#ffc700,#ffc900,#ffc900,#ffca00,#ffc900,#ffc900,#ffc900,#ffc900,#ffc900,#ffc900,#ffc900,#ffc900,#ffca00,#ffca00,#ffca00,#ffcb00,#ffcc00,#ffcd00,#ffce00,#ffcf00,#ffd000,#ffd100,#ffd200,#ffd300,#ffd500,#ffd700,#ffd900,#ffdd00,#ffe100,#ffe500,#ffe800,#ffe900,#ffe900,#ffe800,#ffe500,#ffe100,#ffde00,#ffdb00,#ffd800,#ffd700,#ffd700,#ffda00)"></i><i style="height:2px;background:linear-gradient(90deg,#ffbb00,#ffba00,#ffbb00,#ffbb00,#ffbd00,#ffbf00,#ffc100,#ffc300,#ffc500,#ffc700,#ffc900,#ffc900,#ffc900,#ffc900,#ffc900,#ffc900,#ffc900,#ffc800,#ffc900,#ffc900,#ffc900,#ffc900,#ffc900,#ffca00,#ffca00,#ffcb00,#ffcc00,#ffcd00,#ffce00,#ffcf00,#ffd000,#ffd200,#ffd300,#ffd400,#ffd600,#ffd900,#ffdd00,#ffe100,#ffe500,#ffe800,#ffe900,#ffe900,#ffe700,#ffe400,#ffe100,#ffdd00,#ffda00,#ffd800,#ffd600,#ffd700,#ffda00)"></i><i style="height:2px;background:linear-gradient(90deg,#ffba00,#ffb900,#ffba00,#ffbb00,#ffbc00,#ffbe00,#ffc100,#ffc300,#ffc500,#ffc700,#ffc800,#ffc900,#ffc900,#ffc900,#ffc900,#ffc900,#ffc800,#ffc800,#ffc800,#ffc800,#ffc900,#ffc900,#ffc900,#ffc900,#ffca00,#ffcb00,#ffcb00,#ffcc00,#ffcd00,#ffcf00,#ffd000,#ffd100,#ffd200,#ffd400,#ffd600,#ffd900,#ffdd00,#ffe100,#ffe400,#ffe700,#ffe900,#ffe900,#ffe700,#ffe400,#ffe000,#ffdd00,#ffd900,#ffd700,#ffd600,#ffd600,#ffd900)"></i><i style="height:2px;background:linear-gradient(90deg,#ffb900,#ffb800,#ffb900,#ffba00,#ffbb00,#ffbd00,#ffc000,#ffc200,#ffc500,#ffc700,#ffc800,#ffc900,#ffc900,#ffc900,#ffc900,#ffc800,#ffc800,#ffc800,#ffc800,#ffc800,#ffc800,#ffc800,#ffc900,#ffc900,#ffc900,#ffca00,#ffcb00,#ffcc00,#ffcd00,#ffce00,#ffcf00,#ffd000,#ffd200,#ffd400,#ffd600,#ffd900,#ffdc00,#ffe000,#ffe400,#ffe700,#ffe800,#ffe800,#ffe600,#ffe300,#ffe000,#ffdc00,#ffd900,#ffd600,#ffd500,#ffd600,#ffd900)"></i><i style="height:2px;background:linear-gradient(90deg,#ffb900,#ffb700,#ffb800,#ffb900,#ffba00,#ffbd00,#ffbf00,#ffc200,#ffc500,#ffc700,#ffc800,#ffc900,#ffc900,#ffc900,#ffc900,#ffc800,#ffc800,#ffc800,#ffc800,#ffc800,#ffc800,#ffc800,#ffc800,#ffc900,#ffc900,#ffc900,#ffca00,#ffcb00,#ffcc00,#ffcd00,#ffce00,#ffd000,#ffd100,#ffd300,#ffd600,#ffd900,#ffdc00,#ffe000,#ffe400,#ffe700,#ffe800,#ffe800,#ffe600,#ffe300,#ffdf00,#ffdb00,#ffd800,#ffd600,#ffd500,#ffd500,#ffd800)"></i><i style="height:2px;background:linear-gradient(90deg,#ffb800,#ffb700,#ffb700,#ffb800,#ffba00,#ffbc00,#ffbf00,#ffc200,#ffc400,#ffc700,#ffc800,#ffc900,#ffc900,#ffc900,#ffc800,#ffc800,#ffc800,#ffc800,#ffc800,#ffc800,#ffc800,#ffc800,#ffc800,#ffc800,#ffc800,#ffc900,#ffc900,#ffca00,#ffcb00,#ffcd00,#ffce00,#ffcf00,#ffd100,#ffd300,#ffd500,#ffd900,#ffdc00,#ffe000,#ffe400,#ffe600,#ffe800,#ffe700,#ffe500,#ffe200,#ffdf00,#ffdb00,#ffd800,#ffd500,#ffd400,#ffd500,#ffd800)"></i><i style="height:2px;background:linear-gradient(90deg,#ffb700,#ffb600,#ffb600,#ffb700,#ffb900,#ffbc00,#ffbe00,#ffc100,#ffc400,#ffc600,#ffc800,#ffc900,#ffc900,#ffc900,#ffc800,#ffc800,#ffc800,#ffc800,#ffc800,#ffc800,#ffc800,#ffc800,#ffc800,#ffc800,#ffc800,#ffc800,#ffc900,#ffca00,#ffcb00,#ffcc00,#ffcd00,#ffcf00,#ffd100,#ffd300,#ffd500,#ffd800,#ffdc00,#ffe000,#ffe300,#ffe600,#ffe700,#ffe700,#ffe500,#ffe200,#ffde00,#ffda00,#ffd700,#ffd500,#ffd400,#ffd400,#ffd700)"></i><i style="height:2px;background:linear-gradient(90deg,#ffb700,#ffb500,#ffb500,#ffb600,#ffb900,#ffbb00,#ffbe00,#ffc100,#ffc400,#ffc600,#ffc800,#ffc900,#ffc900,#ffc900,#ffc800,#ffc800,#ffc800,#ffc800,#ffc800,#ffc800,#ffc800,#ffc800,#ffc800,#ffc800,#ffc800,#ffc800,#ffc900,#ffc900,#ffca00,#ffcc00,#ffcd00,#ffcf00,#ffd100,#ffd300,#ffd500,#ffd900,#ffdc00,#ffe000,#ffe300,#ffe600,#ffe700,#ffe600,#ffe400,#ffe100,#ffde00,#ffda00,#ffd700,#ffd400,#ffd300,#ffd400,#ffd700)"></i><i style="height:2px;background:linear-gradient(90deg,#ffb600,#ffb500,#ffb500,#ffb600,#ffb800,#ffbb00,#ffbe00,#ffc100,#ffc400,#ffc600,#ffc800,#ffc900,#ffc900,#ffc900,#ffc800,#ffc800,#ffc800,#ffc800,#ffc800,#ffc800,#ffc800,#ffc800,#ffc800,#ffc700,#ffc700,#ffc800,#ffc800,#ffc900,#ffca00,#ffcb00,#ffcd00,#ffcf00,#ffd100,#ffd300,#ffd600,#ffd900,#ffdc00,#ffe000,#ffe300,#ffe500,#ffe600,#ffe600,#ffe400,#ffe100,#ffdd00,#ffda00,#ffd700,#ffd400,#ffd300,#ffd400,#ffd700)"></i><i style="height:2px;background:linear-gradient(90deg,#ffb600,#ffb400,#ffb400,#ffb600,#ffb800,#ffba00,#ffbd00,#ffc100,#ffc400,#ffc600,#ffc800,#ffc900,#ffc900,#ffc900,#ffc800,#ffc800,#ffc700,#ffc700,#ffc800,#ffc800,#ffc800,#ffc800,#ffc700,#ffc700,#ffc700,#ffc700,#ffc800,#ffc900,#ffca00,#ffcb00,#ffcd00,#ffcf00,#ffd100,#ffd300,#ffd600,#ffd900,#ffdc00,#ffe000,#ffe300,#ffe500,#ffe600,#ffe500,#ffe300,#ffe000,#ffdd00,#ffd900,#ffd600,#ffd400,#ffd300,#ffd400,#ffd600)"></i><i style="height:2px;background:linear-gradient(90deg,#ffb600,#ffb400,#ffb400,#ffb500,#ffb700,#ffba00,#ffbd00,#ffc000,#ffc400,#ffc600,#ffc800,#ffc900,#ffc900,#ffc900,#ffc800,#ffc800,#ffc700,#ffc700,#ffc800,#ffc800,#ffc800,#ffc800,#ffc700,#ffc700,#ffc700,#ffc700,#ffc800,#ffc900,#ffca00,#ffcb00,#ffcd00,#ffcf00,#ffd100,#ffd300,#ffd600,#ffd900,#ffdd00,#ffe000,#ffe300,#ffe500,#ffe600,#ffe500,#ffe300,#ffe000,#ffdd00,#ffd900,#ffd600,#ffd400,#ffd300,#ffd400,#ffd600)"></i><i style="height:2px;background:linear-gradient(90deg,#ffb600,#ffb400,#ffb400,#ffb500,#ffb700,#ffba00,#ffbd00,#ffc000,#ffc300,#ffc600,#ffc800,#ffc900,#ffc900,#ffc900,#ffc800,#ffc800,#ffc700,#ffc800,#ffc800,#ffc800,#ffc800,#ffc800,#ffc700,#ffc700,#ffc700,#ffc700,#ffc800,#ffc900,#ffca00,#ffcb00,#ffcd00,#ffcf00,#ffd100,#ffd400,#ffd700,#ffda00,#ffdd00,#ffe000,#ffe300,#ffe500,#ffe600,#ffe500,#ffe300,#ffe000,#ffdd00,#ffd900,#ffd600,#ffd400,#ffd300,#ffd400,#ffd600)"></i><i style="height:2px;background:linear-gradient(90deg,#ffb600,#ffb400,#ffb400,#ffb500,#ffb700,#ffba00,#ffbd00,#ffc000,#ffc300,#ffc600,#ffc800,#ffc900,#ffc900,#ffc900,#ffc800,#ffc800,#ffc800,#ffc800,#ffc800,#ffc800,#ffc800,#ffc800,#ffc700,#ffc700,#ffc700,#ffc700,#ffc800,#ffc900,#ffca00,#ffcc00,#ffce00,#ffd000,#ffd200,#ffd500,#ffd700,#ffdb00,#ffde00,#ffe100,#ffe300,#ffe500,#ffe600,#ffe500,#ffe300,#ffe000,#ffdd00,#ffda00,#ffd700,#ffd500,#ffd300,#ffd400,#ffd600)"></i><i style="height:2px;background:linear-gradient(90deg,#ffb600,#ffb400,#ffb400,#ffb500,#ffb700,#ffba00,#ffbd00,#ffc100,#ffc400,#ffc600,#ffc800,#ffc900,#ffc900,#ffc900,#ffc800,#ffc800,#ffc800,#ffc800,#ffc800,#ffc800,#ffc800,#ffc800,#ffc800,#ffc700,#ffc700,#ffc800,#ffc800,#ffc900,#ffcb00,#ffcc00,#ffce00,#ffd100,#ffd300,#ffd600,#ffd800,#ffdb00,#ffde00,#ffe100,#ffe400,#ffe600,#ffe600,#ffe500,#ffe300,#ffe000,#ffdd00,#ffda00,#ffd700,#ffd500,#ffd400,#ffd400,#ffd700)"></i><i style="height:2px;background:linear-gradient(90deg,#ffb700,#ffb500,#ffb500,#ffb600,#ffb800,#ffba00,#ffbe00,#ffc100,#ffc400,#ffc600,#ffc800,#ffc900,#ffc900,#ffc900,#ffc800,#ffc800,#ffc800,#ffc800,#ffc800,#ffc800,#ffc800,#ffc800,#ffc800,#ffc800,#ffc800,#ffc800,#ffc900,#ffca00,#ffcb00,#ffcd00,#ffcf00,#ffd200,#ffd400,#ffd700,#ffd900,#ffdc00,#ffdf00,#ffe200,#ffe400,#ffe600,#ffe600,#ffe600,#ffe400,#ffe100,#ffde00,#ffdb00,#ffd800,#ffd600,#ffd500,#ffd500,#ffd700)"></i><i style="height:2px;background:linear-gradient(90deg,#ffb700,#ffb600,#ffb500,#ffb600,#ffb800,#ffbb00,#ffbe00,#ffc100,#ffc400,#ffc600,#ffc800,#ffc900,#ffc900,#ffc900,#ffc800,#ffc800,#ffc800,#ffc800,#ffc800,#ffc800,#ffc800,#ffc800,#ffc800,#ffc800,#ffc800,#ffc900,#ffca00,#ffcb00,#ffcc00,#ffce00,#ffd100,#ffd300,#ffd500,#ffd800,#ffdb00,#ffdd00,#ffe000,#ffe300,#ffe500,#ffe700,#ffe700,#ffe600,#ffe400,#ffe200,#ffdf00,#ffdb00,#ffd900,#ffd700,#ffd500,#ffd600,#ffd800)"></i><i style="height:2px;background:linear-gradient(90deg,#ffb800,#ffb700,#ffb600,#ffb700,#ffb900,#ffbc00,#ffbe00,#ffc100,#ffc400,#ffc700,#ffc800,#ffc900,#ffc900,#ffc900,#ffc900,#ffc800,#ffc800,#ffc800,#ffc800,#ffc800,#ffc800,#ffc800,#ffc800,#ffc800,#ffc900,#ffc900,#ffca00,#ffcc00,#ffce00,#ffd000,#ffd200,#ffd400,#ffd700,#ffd900,#ffdc00,#ffdf00,#ffe200,#ffe400,#ffe600,#ffe800,#ffe800,#ffe700,#ffe500,#ffe300,#ffe000,#ffdd00,#ffda00,#ffd800,#ffd700,#ffd700,#ffd800)"></i><i style="height:2px;background:linear-gradient(90deg,#ffba00,#ffb800,#ffb700,#ffb800,#ffba00,#ffbc00,#ffbf00,#ffc200,#ffc400,#ffc700,#ffc800,#ffc900,#ffc900,#ffc900,#ffc900,#ffc800,#ffc800,#ffc800,#ffc800,#ffc800,#ffc800,#ffc800,#ffc800,#ffc900,#ffc900,#ffca00,#ffcb00,#ffcd00,#ffcf00,#ffd100,#ffd400,#ffd600,#ffd900,#ffdb00,#ffde00,#ffe000,#ffe300,#ffe500,#ffe700,#ffe900,#ffe900,#ffe800,#ffe600,#ffe400,#ffe100,#ffde00,#ffdb00,#ffd900,#ffd800,#ffd800,#ffd900)"></i><i style="height:2px;background:linear-gradient(90deg,#ffbb00,#ffb900,#ffb900,#ffba00,#ffbb00,#ffbd00,#ffc000,#ffc200,#ffc500,#ffc700,#ffc900,#ffc900,#ffca00,#ffc900,#ffc900,#ffc800,#ffc800,#ffc800,#ffc800,#ffc800,#ffc800,#ffc900,#ffc900,#ffc900,#ffca00,#ffcb00,#ffcd00,#ffcf00,#ffd100,#ffd300,#ffd600,#ffd800,#ffdb00,#ffdd00,#ffdf00,#ffe200,#ffe400,#ffe700,#ffe900,#ffea00,#ffea00,#ffe900,#ffe800,#ffe500,#ffe200,#ffe000,#ffdd00,#ffdb00,#ffd900,#ffd900,#ffda00)"></i><i style="height:2px;background:linear-gradient(90deg,#ffbd00,#ffbb00,#ffba00,#ffbb00,#ffbc00,#ffbe00,#ffc100,#ffc300,#ffc500,#ffc700,#ffc900,#ffca00,#ffca00,#ffca00,#ffc900,#ffc900,#ffc800,#ffc800,#ffc800,#ffc800,#ffc800,#ffc900,#ffc900,#ffca00,#ffcb00,#ffcc00,#ffce00,#ffd100,#ffd300,#ffd600,#ffd800,#ffdb00,#ffdd00,#ffdf00,#ffe200,#ffe400,#ffe600,#ffe800,#ffea00,#ffeb00,#ffec00,#ffeb00,#ffe900,#ffe700,#ffe400,#ffe100,#ffdf00,#ffdd00,#ffdb00,#ffdb00,#ffdc00)"></i><i style="height:2px;background:linear-gradient(90deg,#ffbe00,#ffbd00,#ffbc00,#ffbc00,#ffbe00,#ffbf00,#ffc100,#ffc400,#ffc600,#ffc800,#ffc900,#ffca00,#ffca00,#ffca00,#ffc900,#ffc900,#ffc900,#ffc800,#ffc800,#ffc800,#ffc900,#ffc900,#ffca00,#ffcb00,#ffcc00,#ffce00,#ffd000,#ffd200,#ffd500,#ffd800,#ffdb00,#ffdd00,#ffdf00,#ffe200,#ffe400,#ffe600,#ffe800,#ffea00,#ffec00,#ffed00,#ffed00,#ffed00,#ffeb00,#ffe900,#ffe600,#ffe300,#ffe100,#ffdf00,#ffdd00,#ffdd00,#ffdd00)"></i><i style="height:2px;background:linear-gradient(90deg,#ffc000,#ffbf00,#ffbe00,#ffbe00,#ffbf00,#ffc100,#ffc200,#ffc400,#ffc600,#ffc800,#ffc900,#ffca00,#ffca00,#ffca00,#ffc900,#ffc900,#ffc900,#ffc800,#ffc800,#ffc800,#ffc900,#ffc900,#ffca00,#ffcb00,#ffcd00,#ffcf00,#ffd200,#ffd500,#ffd800,#ffdb00,#ffdd00,#ffe000,#ffe200,#ffe400,#ffe600,#ffe800,#ffea00,#ffec00,#ffee00,#ffef00,#ffef00,#ffee00,#ffed00,#ffeb00,#ffe800,#ffe500,#ffe300,#ffe100,#ffdf00,#ffde00,#ffdf00)"></i><i style="height:2px;background:linear-gradient(90deg,#ffc200,#ffc100,#ffc000,#ffc000,#ffc100,#ffc200,#ffc300,#ffc500,#ffc700,#ffc800,#ffc900,#ffca00,#ffca00,#ffca00,#ffca00,#ffc900,#ffc900,#ffc900,#ffc800,#ffc900,#ffc900,#ffca00,#ffcb00,#ffcc00,#ffce00,#ffd100,#ffd400,#ffd700,#ffda00,#ffdd00,#ffe000,#ffe300,#ffe500,#ffe600,#ffe800,#ffea00,#ffec00,#ffee00,#fff000,#fff100,#fff100,#fff000,#ffef00,#ffed00,#ffea00,#ffe800,#ffe500,#ffe300,#ffe100,#ffe000,#ffe000)"></i><i style="height:2px;background:linear-gradient(90deg,#ffc500,#ffc300,#ffc200,#ffc200,#ffc200,#ffc300,#ffc400,#ffc600,#ffc700,#ffc800,#ffc900,#ffca00,#ffca00,#ffca00,#ffca00,#ffc900,#ffc900,#ffc900,#ffc900,#ffc900,#ffc900,#ffca00,#ffcc00,#ffce00,#ffd000,#ffd300,#ffd600,#ffd900,#ffdd00,#ffe000,#ffe300,#ffe500,#ffe700,#ffe900,#ffeb00,#ffec00,#ffee00,#fff000,#fff100,#fff300,#fff300,#fff200,#fff100,#ffef00,#ffec00,#ffea00,#ffe700,#ffe500,#ffe300,#ffe200,#ffe200)"></i><i style="height:2px;background:linear-gradient(90deg,#ffc700,#ffc500,#ffc400,#ffc400,#ffc400,#ffc400,#ffc500,#ffc600,#ffc800,#ffc900,#ffc900,#ffca00,#ffca00,#ffca00,#ffca00,#ffc900,#ffc900,#ffc900,#ffc900,#ffc900,#ffca00,#ffcb00,#ffcd00,#ffcf00,#ffd100,#ffd500,#ffd800,#ffdc00,#ffdf00,#ffe300,#ffe600,#ffe800,#ffea00,#ffec00,#ffed00,#ffef00,#fff000,#fff200,#fff300,#fff400,#fff500,#fff400,#fff300,#fff100,#ffef00,#ffec00,#ffea00,#ffe700,#ffe600,#ffe400,#ffe400)"></i><i style="height:2px;background:linear-gradient(90deg,#ffc900,#ffc700,#ffc600,#ffc500,#ffc500,#ffc600,#ffc600,#ffc700,#ffc800,#ffc900,#ffc900,#ffca00,#ffca00,#ffca00,#ffc900,#ffc900,#ffc900,#ffc900,#ffc900,#ffc900,#ffca00,#ffcb00,#ffce00,#ffd000,#ffd300,#ffd700,#ffda00,#ffde00,#ffe200,#ffe600,#ffe900,#ffeb00,#ffed00,#ffee00,#fff000,#fff100,#fff200,#fff400,#fff500,#fff600,#fff700,#fff600,#fff500,#fff300,#fff100,#ffee00,#ffec00,#ffea00,#ffe800,#ffe600,#ffe600)"></i><i style="height:2px;background:linear-gradient(90deg,#ffcc00,#ffca00,#ffc800,#ffc700,#ffc700,#ffc700,#ffc700,#ffc800,#ffc800,#ffc900,#ffc900,#ffc900,#ffc900,#ffc900,#ffc900,#ffc900,#ffc900,#ffc900,#ffc900,#ffc900,#ffca00,#ffcc00,#ffcf00,#ffd200,#ffd500,#ffd900,#ffdd00,#ffe100,#ffe500,#ffe900,#ffec00,#ffee00,#ffef00,#fff100,#fff200,#fff300,#fff500,#fff600,#fff700,#fff800,#fff800,#fff800,#fff700,#fff500,#fff300,#fff000,#ffee00,#ffec00,#ffea00,#ffe800,#ffe700)"></i><i style="height:2px;background:linear-gradient(90deg,#ffce00,#ffcc00,#ffca00,#ffc900,#ffc800,#ffc800,#ffc800,#ffc800,#ffc800,#ffc900,#ffc900,#ffc900,#ffc900,#ffc900,#ffc900,#ffc900,#ffc900,#ffc900,#ffc900,#ffca00,#ffcb00,#ffcd00,#ffd000,#ffd300,#ffd700,#ffdb00,#ffe000,#ffe400,#ffe800,#ffeb00,#ffee00,#fff000,#fff200,#fff300,#fff400,#fff500,#fff700,#fff800,#fff900,#fffa00,#fffa00,#fffa00,#fff800,#fff700,#fff500,#fff200,#fff000,#ffee00,#ffec00,#ffea00,#ffe900)"></i><i style="height:2px;background:linear-gradient(90deg,#ffd100,#ffce00,#ffcc00,#ffcb00,#ffca00,#ffc900,#ffc900,#ffc800,#ffc800,#ffc800,#ffc800,#ffc800,#ffc900,#ffc900,#ffc800,#ffc800,#ffc800,#ffc800,#ffc900,#ffca00,#ffcc00,#ffce00,#ffd100,#ffd500,#ffd900,#ffde00,#ffe200,#ffe600,#ffea00,#ffee00,#fff100,#fff300,#fff500,#fff600,#fff700,#fff700,#fff900,#fffa00,#fffb00,#fffc00,#fffc00,#fffb00,#fffa00,#fff800,#fff600,#fff400,#fff200,#fff000,#ffee00,#ffec00,#ffeb00)"></i><i style="height:2px;background:linear-gradient(90deg,#ffd300,#ffd000,#ffce00,#ffcc00,#ffcb00,#ffca00,#ffc900,#ffc900,#ffc800,#ffc800,#ffc800,#ffc800,#ffc800,#ffc800,#ffc800,#ffc800,#ffc800,#ffc800,#ffc900,#ffca00,#ffcc00,#ffcf00,#ffd300,#ffd700,#ffdc00,#ffe000,#ffe500,#ffe900,#ffed00,#fff100,#fff300,#fff500,#fff700,#fff800,#fff900,#fffa00,#fffb00,#fffc00,#fffc00,#fffd00,#fffd00,#fffd00,#fffb00,#fffa00,#fff800,#fff600,#fff400,#fff100,#ffef00,#ffee00,#ffed00)"></i><i style="height:2px;background:linear-gradient(90deg,#ffd600,#ffd300,#ffd000,#ffce00,#ffcc00,#ffcb00,#ffc900,#ffc900,#ffc800,#ffc800,#ffc700,#ffc700,#ffc700,#ffc700,#ffc700,#ffc700,#ffc800,#ffc800,#ffc900,#ffcb00,#ffcd00,#ffd100,#ffd500,#ffd900,#ffde00,#ffe300,#ffe800,#ffec00,#fff000,#fff300,#fff600,#fff800,#fff900,#fffa00,#fffb00,#fffc00,#fffc00,#fffd00,#fffe00,#fffe00,#fffe00,#fffe00,#fffd00,#fffb00,#fff900,#fff700,#fff500,#fff300,#fff100,#fff000,#ffee00)"></i><i style="height:2px;background:linear-gradient(90deg,#ffd800,#ffd500,#ffd200,#ffcf00,#ffcd00,#ffcb00,#ffca00,#ffc900,#ffc800,#ffc700,#ffc700,#ffc600,#ffc600,#ffc600,#ffc600,#ffc700,#ffc700,#ffc800,#ffc900,#ffcb00,#ffce00,#ffd200,#ffd700,#ffdc00,#ffe100,#ffe600,#ffeb00,#ffef00,#fff200,#fff500,#fff800,#fffa00,#fffb00,#fffc00,#fffd00,#fffd00,#fffe00,#ffff00,#ffff00,#feff01,#feff01,#ffff00,#fffe00,#fffc00,#fffa00,#fff800,#fff600,#fff400,#fff300,#fff100,#fff000)"></i><i style="height:2px;background:linear-gradient(90deg,#ffdb00,#ffd700,#ffd300,#ffd000,#ffce00,#ffcc00,#ffca00,#ffc900,#ffc700,#ffc700,#ffc600,#ffc600,#ffc500,#ffc500,#ffc600,#ffc600,#ffc700,#ffc800,#ffca00,#ffcc00,#ffcf00,#ffd400,#ffd900,#ffde00,#ffe400,#ffe900,#ffed00,#fff100,#fff500,#fff800,#fffa00,#fffc00,#fffd00,#fffe00,#ffff00,#ffff00,#feff01,#feff01,#fdff02,#fdff02,#fdff02,#feff01,#ffff00,#fffd00,#fffb00,#fff900,#fff700,#fff600,#fff400,#fff300,#fff100)"></i><i style="height:2px;background:linear-gradient(90deg,#ffdd00,#ffd900,#ffd500,#ffd200,#ffcf00,#ffcc00,#ffca00,#ffc900,#ffc700,#ffc600,#ffc500,#ffc500,#ffc500,#ffc500,#ffc500,#ffc600,#ffc700,#ffc800,#ffca00,#ffcd00,#ffd100,#ffd500,#ffdb00,#ffe100,#ffe700,#ffec00,#fff000,#fff400,#fff700,#fffa00,#fffc00,#fffd00,#ffff00,#feff01,#feff01,#fdff02,#fdff02,#fcff03,#fcff03,#fcff03,#fdff02,#fdff02,#ffff00,#fffe00,#fffc00,#fffa00,#fff900,#fff700,#fff500,#fff400,#fff300)"></i><i style="height:2px;background:linear-gradient(90deg,#ffe000,#ffdb00,#ffd700,#ffd300,#ffd000,#ffcd00,#ffcb00,#ffc900,#ffc700,#ffc600,#ffc500,#ffc400,#ffc400,#ffc400,#ffc500,#ffc500,#ffc600,#ffc800,#ffca00,#ffce00,#ffd200,#ffd700,#ffdd00,#ffe300,#ffea00,#ffef00,#fff300,#fff700,#fffa00,#fffc00,#fffe00,#ffff00,#feff01,#fdff02,#fcff03,#fbff04,#fbff04,#fbff04,#fbff04,#fbff04,#fcff03,#fdff02,#feff01,#ffff00,#fffd00,#fffb00,#fffa00,#fff800,#fff600,#fff500,#fff400)"></i><i style="height:2px;background:linear-gradient(90deg,#ffe200,#ffdd00,#ffd900,#ffd500,#ffd100,#ffce00,#ffcb00,#ffc900,#ffc700,#ffc600,#ffc500,#ffc400,#ffc400,#ffc400,#ffc400,#ffc500,#ffc600,#ffc800,#ffcb00,#ffcf00,#ffd300,#ffd900,#ffe000,#ffe600,#ffed00,#fff200,#fff600,#fffa00,#fffc00,#fffe00,#feff01,#fdff02,#fcff03,#fbff04,#faff05,#faff05,#f9ff06,#f9ff06,#faff05,#faff05,#fbff04,#fcff03,#fdff02,#ffff00,#fffe00,#fffc00,#fffa00,#fff900,#fff800,#fff600,#fff600)"></i><i style="height:2px;background:linear-gradient(90deg,#ffe500,#ffe000,#ffdb00,#ffd600,#ffd200,#ffcf00,#ffcc00,#ffca00,#ffc800,#ffc600,#ffc500,#ffc400,#ffc400,#ffc400,#ffc400,#ffc500,#ffc700,#ffc900,#ffcc00,#ffd000,#ffd500,#ffdb00,#ffe200,#ffe900,#fff000,#fff500,#fffa00,#fffd00,#ffff00,#feff01,#fdff02,#fbff04,#faff05,#f9ff06,#f9ff06,#f8ff07,#f8ff07,#f8ff07,#f8ff07,#f9ff06,#faff05,#fbff04,#fcff03,#feff01,#fffe00,#fffd00,#fffb00,#fffa00,#fff900,#fff800,#fff700)"></i><i style="height:2px;background:linear-gradient(90deg,#ffe800,#ffe200,#ffdd00,#ffd800,#ffd400,#ffd000,#ffcd00,#ffcb00,#ffc900,#ffc700,#ffc500,#ffc500,#ffc400,#ffc400,#ffc500,#ffc600,#ffc700,#ffca00,#ffcd00,#ffd100,#ffd700,#ffdd00,#ffe500,#ffec00,#fff300,#fff900,#fffd00,#ffff00,#fdff02,#fcff03,#fbff04,#faff05,#f9ff06,#f8ff07,#f7ff08,#f6ff09,#f6ff09,#f6ff09,#f7ff08,#f8ff07,#f9ff06,#faff05,#fcff03,#fdff02,#ffff00,#fffe00,#fffc00,#fffb00,#fffa00,#fff900,#fff800)"></i><i style="height:2px;background:linear-gradient(90deg,#ffea00,#ffe400,#ffdf00,#ffda00,#ffd600,#ffd200,#ffcf00,#ffcc00,#ffca00,#ffc800,#ffc600,#ffc500,#ffc500,#ffc500,#ffc500,#ffc700,#ffc800,#ffcb00,#ffce00,#ffd300,#ffd900,#ffe000,#ffe700,#ffef00,#fff600,#fffc00,#feff01,#fcff03,#faff05,#f9ff06,#f9ff06,#f8ff07,#f7ff08,#f6ff09,#f5ff0a,#f5ff0a,#f5ff0a,#f5ff0a,#f6ff09,#f7ff08,#f8ff07,#f9ff06,#fbff04,#fcff03,#feff01,#ffff00,#fffd00,#fffc00,#fffb00,#fffa00,#fff900)"></i><i style="height:2px;background:linear-gradient(90deg,#ffed00,#ffe700,#ffe100,#ffdc00,#ffd800,#ffd400,#ffd000,#ffce00,#ffcb00,#ffc900,#ffc800,#ffc700,#ffc600,#ffc600,#ffc700,#ffc800,#ffca00,#ffcd00,#ffd000,#ffd500,#ffdb00,#ffe200,#ffea00,#fff200,#fff900,#ffff00,#fbff04,#f9ff06,#f7ff08,#f7ff08,#f7ff08,#f6ff09,#f5ff0a,#f4ff0b,#f3ff0c,#f3ff0c,#f3ff0c,#f4ff0b,#f4ff0b,#f6ff09,#f7ff08,#f8ff07,#faff05,#fcff03,#fdff02,#feff01,#fffe00,#fffd00,#fffc00,#fffb00,#fffa00)"></i><i style="height:2px;background:linear-gradient(90deg,#ffef00,#ffe900,#ffe400,#ffdf00,#ffda00,#ffd600,#ffd300,#ffd000,#ffcd00,#ffcb00,#ffca00,#ffc900,#ffc800,#ffc800,#ffc900,#ffca00,#ffcc00,#ffce00,#ffd200,#ffd700,#ffdd00,#ffe500,#ffed00,#fff500,#fffd00,#fcff03,#f8ff07,#f6ff09,#f5ff0a,#f4ff0b,#f4ff0b,#f4ff0b,#f3ff0c,#f2ff0d,#f2ff0d,#f1ff0e,#f1ff0e,#f2ff0d,#f3ff0c,#f4ff0b,#f6ff09,#f7ff08,#f9ff06,#faff05,#fcff03,#fdff02,#ffff00,#fffe00,#fffd00,#fffc00,#fffc00)"></i><i style="height:2px;background:linear-gradient(90deg,#fff200,#ffec00,#ffe600,#ffe100,#ffdd00,#ffd900,#ffd500,#ffd200,#ffd000,#ffce00,#ffcc00,#ffcb00,#ffcb00,#ffcb00,#ffcb00,#ffcc00,#ffce00,#ffd100,#ffd400,#ffd900,#ffe000,#ffe700,#fff000,#fff800,#feff01,#f8ff07,#f4ff0b,#f3ff0c,#f2ff0d,#f2ff0d,#f2ff0d,#f2ff0d,#f1ff0e,#f0ff0f,#f0ff0f,#efff10,#f0ff0f,#f1ff0e,#f2ff0d,#f3ff0c,#f5ff0a,#f6ff09,#f8ff07,#f9ff06,#fbff04,#fcff03,#feff01,#ffff00,#fffe00,#fffd00,#fffd00)"></i><i style="height:2px;background:linear-gradient(90deg,#fff500,#ffef00,#ffe900,#ffe400,#ffe000,#ffdc00,#ffd900,#ffd600,#ffd300,#ffd100,#ffcf00,#ffce00,#ffce00,#ffce00,#ffce00,#ffd000,#ffd100,#ffd400,#ffd700,#ffdc00,#ffe200,#ffea00,#fff300,#fffb00,#fbff04,#f5ff0a,#f1ff0e,#efff10,#efff10,#efff10,#efff10,#efff10,#efff10,#eeff11,#eeff11,#eeff11,#eeff11,#efff10,#f0ff0f,#f1ff0e,#f3ff0c,#f5ff0a,#f6ff09,#f8ff07,#f9ff06,#fbff04,#fcff03,#fdff02,#ffff00,#ffff00,#fffe00)"></i><i style="height:2px;background:linear-gradient(90deg,#fff700,#fff200,#ffec00,#ffe800,#ffe300,#ffe000,#ffdc00,#ffd900,#ffd700,#ffd500,#ffd300,#ffd200,#ffd200,#ffd200,#ffd200,#ffd300,#ffd500,#ffd700,#ffda00,#ffdf00,#ffe500,#ffed00,#fff600,#fffe00,#f8ff07,#f2ff0d,#eeff11,#ecff13,#ecff13,#ecff13,#edff12,#edff12,#ecff13,#ecff13,#ecff13,#ecff13,#ecff13,#edff12,#eeff11,#f0ff0f,#f1ff0e,#f3ff0c,#f5ff0a,#f6ff09,#f8ff07,#f9ff06,#fbff04,#fcff03,#fdff02,#feff01,#ffff00)"></i><i style="height:2px;background:linear-gradient(90deg,#fffa00,#fff500,#fff000,#ffeb00,#ffe700,#ffe300,#ffe000,#ffdd00,#ffdb00,#ffd900,#ffd800,#ffd700,#ffd600,#ffd600,#ffd700,#ffd700,#ffd900,#ffdb00,#ffde00,#ffe200,#ffe800,#fff000,#fff900,#fdff02,#f4ff0b,#eeff11,#eaff15,#e9ff16,#e9ff16,#e9ff16,#eaff15,#eaff15,#eaff15,#eaff15,#eaff15,#eaff15,#eaff15,#ebff14,#edff12,#eeff11,#f0ff0f,#f1ff0e,#f3ff0c,#f4ff0b,#f6ff09,#f8ff07,#f9ff06,#faff05,#fcff03,#fdff02,#feff01)"></i><i style="height:2px;background:linear-gradient(90deg,#fffd00,#fff800,#fff300,#ffef00,#ffeb00,#ffe800,#ffe500,#ffe200,#ffdf00,#ffde00,#ffdc00,#ffdb00,#ffdb00,#ffdb00,#ffdb00,#ffdc00,#ffdd00,#ffdf00,#ffe100,#ffe500,#ffeb00,#fff300,#fffc00,#f9ff06,#f1ff0e,#ebff14,#e7ff18,#e5ff1a,#e5ff1a,#e6ff19,#e7ff18,#e7ff18,#e8ff17,#e8ff17,#e8ff17,#e8ff17,#e9ff16,#eaff15,#ebff14,#ecff13,#eeff11,#efff10,#f1ff0e,#f3ff0c,#f4ff0b,#f6ff09,#f7ff08,#f9ff06,#faff05,#fcff03,#fdff02)"></i><i style="height:2px;background:linear-gradient(90deg,#ffff00,#fffb00,#fff700,#fff300,#ffef00,#ffec00,#ffe900,#ffe600,#ffe400,#ffe200,#ffe100,#ffe000,#ffe000,#ffe000,#ffe000,#ffe100,#ffe200,#ffe300,#ffe500,#ffe900,#ffee00,#fff600,#ffff00,#f6ff09,#eeff11,#e7ff18,#e4ff1b,#e2ff1d,#e2ff1d,#e3ff1c,#e4ff1b,#e4ff1b,#e5ff1a,#e5ff1a,#e6ff19,#e6ff19,#e7ff18,#e8ff17,#e9ff16,#eaff15,#ecff13,#eeff11,#efff10,#f1ff0e,#f2ff0d,#f4ff0b,#f6ff09,#f7ff08,#f9ff06,#faff05,#fcff03)"></i><i style="height:2px;background:linear-gradient(90deg,#fcff03,#fffe00,#fffb00,#fff700,#fff400,#fff100,#ffee00,#ffeb00,#ffe900,#ffe800,#ffe600,#ffe600,#ffe500,#ffe500,#ffe600,#ffe600,#ffe600,#ffe700,#ffe900,#ffed00,#fff200,#fff900,#fcff03,#f3ff0c,#eaff15,#e4ff1b,#e0ff1f,#deff21,#deff21,#dfff20,#e1ff1e,#e2ff1d,#e2ff1d,#e3ff1c,#e3ff1c,#e4ff1b,#e5ff1a,#e6ff19,#e7ff18,#e9ff16,#eaff15,#ecff13,#edff12,#efff10,#f0ff0f,#f2ff0d,#f4ff0b,#f5ff0a,#f7ff08,#f9ff06,#fbff04)"></i><i style="height:2px;background:linear-gradient(90deg,#f9ff06,#fdff02,#fffe00,#fffb00,#fff800,#fff500,#fff300,#fff000,#ffee00,#ffed00,#ffec00,#ffeb00,#ffeb00,#ffeb00,#ffeb00,#ffeb00,#ffeb00,#ffec00,#ffee00,#fff100,#fff600,#fffd00,#f8ff07,#efff10,#e7ff18,#e0ff1f,#dcff23,#dbff24,#dbff24,#dcff23,#ddff22,#dfff20,#e0ff1f,#e0ff1f,#e1ff1e,#e2ff1d,#e3ff1c,#e4ff1b,#e5ff1a,#e7ff18,#e8ff17,#eaff15,#ebff14,#edff12,#eeff11,#f0ff0f,#f2ff0d,#f4ff0b,#f5ff0a,#f8ff07,#faff05)"></i><i style="height:2px;background:linear-gradient(90deg,#f7ff08,#f9ff06,#fcff03,#ffff00,#fffc00,#fffa00,#fff700,#fff500,#fff300,#fff200,#fff100,#fff000,#fff000,#fff000,#fff000,#fff100,#fff000,#fff100,#fff200,#fff500,#fff900,#fdff02,#f5ff0a,#ecff13,#e3ff1c,#ddff22,#d9ff26,#d7ff28,#d7ff28,#d8ff27,#daff25,#dbff24,#ddff22,#deff21,#dfff20,#e0ff1f,#e1ff1e,#e2ff1d,#e4ff1b,#e5ff1a,#e6ff19,#e8ff17,#e9ff16,#ebff14,#ecff13,#eeff11,#f0ff0f,#f2ff0d,#f4ff0b,#f6ff09,#f8ff07)"></i><i style="height:2px;background:linear-gradient(90deg,#f4ff0b,#f6ff09,#f9ff06,#fbff04,#fdff02,#fffe00,#fffc00,#fffa00,#fff800,#fff700,#fff600,#fff600,#fff600,#fff600,#fff600,#fff600,#fff500,#fff600,#fff600,#fff900,#fffe00,#f9ff06,#f1ff0e,#e8ff17,#dfff20,#d9ff26,#d5ff2a,#d4ff2b,#d4ff2b,#d5ff2a,#d7ff28,#d8ff27,#daff25,#dcff23,#ddff22,#deff21,#e0ff1f,#e1ff1e,#e2ff1d,#e3ff1c,#e4ff1b,#e6ff19,#e7ff18,#e9ff16,#eaff15,#ecff13,#eeff11,#f0ff0f,#f2ff0d,#f4ff0b,#f7ff08)"></i><i style="height:2px;background:linear-gradient(90deg,#f1ff0e,#f3ff0c,#f5ff0a,#f7ff08,#f9ff06,#fbff04,#fdff02,#ffff00,#fffd00,#fffc00,#fffb00,#fffb00,#fffb00,#fffb00,#fffb00,#fffb00,#fffa00,#fffa00,#fffb00,#fffd00,#fcff03,#f5ff0a,#edff12,#e4ff1b,#dcff23,#d5ff2a,#d1ff2e,#d0ff2f,#d0ff2f,#d1ff2e,#d3ff2c,#d5ff2a,#d7ff28,#d9ff26,#dbff24,#ddff22,#deff21,#dfff20,#e0ff1f,#e1ff1e,#e3ff1c,#e4ff1b,#e5ff1a,#e7ff18,#e8ff17,#eaff15,#ecff13,#eeff11,#f0ff0f,#f3ff0c,#f6ff09)"></i><i style="height:2px;background:linear-gradient(90deg,#efff10,#f0ff0f,#f2ff0d,#f3ff0c,#f5ff0a,#f7ff08,#f9ff06,#fbff04,#fcff03,#fdff02,#feff01,#feff01,#feff01,#feff01,#feff01,#feff01,#ffff00,#ffff00,#feff01,#fcff03,#f8ff07,#f1ff0e,#e9ff16,#e0ff1f,#d8ff27,#d1ff2e,#cdff32,#ccff33,#ccff33,#ceff31,#d0ff2f,#d2ff2d,#d5ff2a,#d7ff28,#d9ff26,#dbff24,#dcff23,#deff21,#dfff20,#e0ff1f,#e1ff1e,#e2ff1d,#e3ff1c,#e5ff1a,#e6ff19,#e8ff17,#eaff15,#ecff13,#eeff11,#f1ff0e,#f4ff0b)"></i><i style="height:2px;background:linear-gradient(90deg,#ecff13,#edff12,#eeff11,#f0ff0f,#f1ff0e,#f3ff0c,#f5ff0a,#f6ff09,#f8ff07,#f9ff06,#faff05,#faff05,#faff05,#faff05,#f9ff06,#faff05,#faff05,#faff05,#faff05,#f7ff08,#f3ff0c,#ecff13,#e4ff1b,#dbff24,#d3ff2c,#cdff32,#c9ff36,#c8ff37,#c8ff37,#caff35,#cdff32,#cfff30,#d2ff2d,#d5ff2a,#d7ff28,#d9ff26,#dbff24,#dcff23,#ddff22,#deff21,#dfff20,#e0ff1f,#e2ff1d,#e3ff1c,#e4ff1b,#e6ff19,#e8ff17,#eaff15,#ecff13,#efff10,#f2ff0d)"></i><i style="height:2px;background:linear-gradient(90deg,#eaff15,#ebff14,#ebff14,#edff12,#eeff11,#f0ff0f,#f1ff0e,#f3ff0c,#f4ff0b,#f5ff0a,#f6ff09,#f6ff09,#f6ff09,#f5ff0a,#f5ff0a,#f5ff0a,#f6ff09,#f6ff09,#f5ff0a,#f3ff0c,#eeff11,#e8ff17,#dfff20,#d7ff28,#cfff30,#c9ff36,#c5ff3a,#c4ff3b,#c5ff3a,#c7ff38,#c9ff36,#ccff33,#cfff30,#d2ff2d,#d5ff2a,#d7ff28,#d9ff26,#dbff24,#dcff23,#ddff22,#deff21,#dfff20,#e0ff1f,#e1ff1e,#e2ff1d,#e4ff1b,#e6ff19,#e8ff17,#eaff15,#edff12,#f0ff0f)"></i><i style="height:2px;background:linear-gradient(90deg,#e8ff17,#e8ff17,#e9ff16,#eaff15,#ebff14,#ecff13,#eeff11,#efff10,#f0ff0f,#f1ff0e,#f2ff0d,#f2ff0d,#f2ff0d,#f2ff0d,#f2ff0d,#f1ff0e,#f2ff0d,#f1ff0e,#f0ff0f,#eeff11,#e9ff16,#e3ff1c,#daff25,#d2ff2d,#caff35,#c4ff3b,#c1ff3e,#c0ff3f,#c1ff3e,#c3ff3c,#c6ff39,#c9ff36,#cdff32,#d0ff2f,#d3ff2c,#d6ff29,#d8ff27,#daff25,#dbff24,#dcff23,#ddff22,#deff21,#deff21,#dfff20,#e1ff1e,#e2ff1d,#e4ff1b,#e6ff19,#e8ff17,#ebff14,#eeff11)"></i><i style="height:2px;background:linear-gradient(90deg,#e5ff1a,#e5ff1a,#e6ff19,#e7ff18,#e8ff17,#e9ff16,#ebff14,#ecff13,#edff12,#eeff11,#efff10,#efff10,#efff10,#efff10,#eeff11,#eeff11,#eeff11,#edff12,#ecff13,#e9ff16,#e4ff1b,#deff21,#d5ff2a,#cdff32,#c5ff3a,#c0ff3f,#bdff42,#bcff43,#bdff42,#c0ff3f,#c3ff3c,#c7ff38,#caff35,#ceff31,#d1ff2e,#d4ff2b,#d7ff28,#d8ff27,#daff25,#dbff24,#dcff23,#dcff23,#ddff22,#deff21,#dfff20,#e0ff1f,#e2ff1d,#e4ff1b,#e6ff19,#e9ff16,#ecff13)"></i><i style="height:2px;background:linear-gradient(90deg,#e3ff1c,#e3ff1c,#e4ff1b,#e4ff1b,#e6ff19,#e7ff18,#e8ff17,#e9ff16,#ebff14,#ecff13,#ecff13,#ecff13,#ecff13,#ecff13,#ebff14,#ebff14,#eaff15,#e9ff16,#e7ff18,#e4ff1b,#dfff20,#d8ff27,#d0ff2f,#c8ff37,#c1ff3e,#bbff44,#b8ff47,#b8ff47,#b9ff46,#bcff43,#c0ff3f,#c4ff3b,#c8ff37,#ccff33,#d0ff2f,#d3ff2c,#d5ff2a,#d7ff28,#d9ff26,#daff25,#dbff24,#dbff24,#dcff23,#ddff22,#deff21,#dfff20,#e0ff1f,#e2ff1d,#e4ff1b,#e7ff18,#eaff15)"></i><i style="height:2px;background:linear-gradient(90deg,#e1ff1e,#e1ff1e,#e1ff1e,#e2ff1d,#e3ff1c,#e4ff1b,#e6ff19,#e7ff18,#e8ff17,#e9ff16,#eaff15,#eaff15,#eaff15,#e9ff16,#e9ff16,#e8ff17,#e7ff18,#e5ff1a,#e3ff1c,#dfff20,#daff25,#d3ff2c,#cbff34,#c3ff3c,#bcff43,#b7ff48,#b4ff4b,#b4ff4b,#b6ff49,#b9ff46,#bdff42,#c1ff3e,#c6ff39,#caff35,#ceff31,#d1ff2e,#d4ff2b,#d6ff29,#d8ff27,#d9ff26,#daff25,#daff25,#dbff24,#dbff24,#dcff23,#ddff22,#deff21,#e0ff1f,#e2ff1d,#e5ff1a,#e8ff17)"></i><i style="height:2px;background:linear-gradient(90deg,#dfff20,#dfff20,#dfff20,#e0ff1f,#e1ff1e,#e2ff1d,#e4ff1b,#e5ff1a,#e6ff19,#e7ff18,#e8ff17,#e8ff17,#e8ff17,#e7ff18,#e6ff19,#e5ff1a,#e4ff1b,#e2ff1d,#dfff20,#dbff24,#d5ff2a,#ceff31,#c6ff39,#beff41,#b7ff48,#b2ff4d,#b0ff4f,#b0ff4f,#b2ff4d,#b6ff49,#baff45,#bfff40,#c3ff3c,#c8ff37,#ccff33,#d0ff2f,#d3ff2c,#d5ff2a,#d7ff28,#d8ff27,#d9ff26,#d9ff26,#daff25,#daff25,#dbff24,#dbff24,#dcff23,#deff21,#e0ff1f,#e2ff1d,#e6ff19)"></i><i style="height:2px;background:linear-gradient(90deg,#ddff22,#ddff22,#ddff22,#deff21,#dfff20,#e0ff1f,#e2ff1d,#e3ff1c,#e4ff1b,#e5ff1a,#e6ff19,#e6ff19,#e6ff19,#e5ff1a,#e4ff1b,#e3ff1c,#e1ff1e,#deff21,#dbff24,#d6ff29,#d0ff2f,#c9ff36,#c1ff3e,#b9ff46,#b2ff4d,#aeff51,#acff53,#acff53,#afff50,#b2ff4d,#b7ff48,#bcff43,#c1ff3e,#c6ff39,#cbff34,#cfff30,#d2ff2d,#d4ff2b,#d6ff29,#d7ff28,#d8ff27,#d8ff27,#d9ff26,#d9ff26,#d9ff26,#daff25,#dbff24,#dcff23,#deff21,#e0ff1f,#e4ff1b)"></i><i style="height:2px;background:linear-gradient(90deg,#dbff24,#dbff24,#dbff24,#dcff23,#ddff22,#dfff20,#e0ff1f,#e1ff1e,#e3ff1c,#e4ff1b,#e4ff1b,#e4ff1b,#e4ff1b,#e4ff1b,#e2ff1d,#e1ff1e,#deff21,#dbff24,#d7ff28,#d2ff2d,#cbff34,#c4ff3b,#bcff43,#b4ff4b,#aeff51,#a9ff56,#a8ff57,#a9ff56,#abff54,#afff50,#b4ff4b,#baff45,#bfff40,#c4ff3b,#c9ff36,#cdff32,#d0ff2f,#d3ff2c,#d5ff2a,#d6ff29,#d7ff28,#d7ff28,#d8ff27,#d8ff27,#d8ff27,#d8ff27,#d9ff26,#daff25,#dcff23,#deff21,#e1ff1e)"></i><i style="height:2px;background:linear-gradient(90deg,#d9ff26,#d9ff26,#daff25,#dbff24,#dcff23,#ddff22,#dfff20,#e0ff1f,#e1ff1e,#e2ff1d,#e3ff1c,#e3ff1c,#e3ff1c,#e2ff1d,#e1ff1e,#dfff20,#dcff23,#d8ff27,#d3ff2c,#cdff32,#c7ff38,#bfff40,#b7ff48,#b0ff4f,#a9ff56,#a5ff5a,#a4ff5b,#a5ff5a,#a8ff57,#adff52,#b2ff4d,#b7ff48,#bdff42,#c2ff3d,#c7ff38,#ccff33,#cfff30,#d2ff2d,#d4ff2b,#d5ff2a,#d6ff29,#d6ff29,#d7ff28,#d7ff28,#d7ff28,#d7ff28,#d7ff28,#d8ff27,#daff25,#dcff23,#dfff20)"></i><i style="height:2px;background:linear-gradient(90deg,#d7ff28,#d7ff28,#d8ff27,#d9ff26,#daff25,#dcff23,#ddff22,#dfff20,#e0ff1f,#e1ff1e,#e2ff1d,#e2ff1d,#e2ff1d,#e1ff1e,#dfff20,#ddff22,#d9ff26,#d5ff2a,#d0ff2f,#c9ff36,#c2ff3d,#baff45,#b2ff4d,#abff54,#a5ff5a,#a2ff5d,#a1ff5e,#a2ff5d,#a5ff5a,#aaff55,#afff50,#b5ff4a,#bbff44,#c0ff3f,#c5ff3a,#caff35,#ceff31,#d0ff2f,#d3ff2c,#d4ff2b,#d5ff2a,#d6ff29,#d6ff29,#d6ff29,#d6ff29,#d6ff29,#d6ff29,#d7ff28,#d8ff27,#daff25,#ddff22)"></i><i style="height:2px;background:linear-gradient(90deg,#d5ff2a,#d6ff29,#d7ff28,#d8ff27,#d9ff26,#dbff24,#dcff23,#deff21,#dfff20,#e0ff1f,#e1ff1e,#e1ff1e,#e1ff1e,#e0ff1f,#deff21,#dbff24,#d7ff28,#d2ff2d,#ccff33,#c6ff39,#beff41,#b6ff49,#aeff51,#a7ff58,#a1ff5e,#9eff61,#9dff62,#9fff60,#a2ff5d,#a7ff58,#adff52,#b3ff4c,#b9ff46,#beff41,#c4ff3b,#c8ff37,#ccff33,#cfff30,#d1ff2e,#d3ff2c,#d4ff2b,#d5ff2a,#d5ff2a,#d5ff2a,#d4ff2b,#d4ff2b,#d5ff2a,#d5ff2a,#d6ff29,#d8ff27,#dbff24)"></i><i style="height:2px;background:linear-gradient(90deg,#d3ff2c,#d4ff2b,#d5ff2a,#d6ff29,#d8ff27,#d9ff26,#dbff24,#ddff22,#deff21,#dfff20,#e0ff1f,#e0ff1f,#e0ff1f,#dfff20,#ddff22,#d9ff26,#d5ff2a,#d0ff2f,#c9ff36,#c2ff3d,#bbff44,#b2ff4d,#aaff55,#a3ff5c,#9eff61,#9bff64,#9aff65,#9cff63,#a0ff5f,#a5ff5a,#abff54,#b1ff4e,#b7ff48,#bcff43,#c2ff3d,#c6ff39,#caff35,#ceff31,#d0ff2f,#d2ff2d,#d3ff2c,#d4ff2b,#d4ff2b,#d3ff2c,#d3ff2c,#d3ff2c,#d3ff2c,#d4ff2b,#d5ff2a,#d7ff28,#d9ff26)"></i><i style="height:2px;background:linear-gradient(90deg,#d2ff2d,#d3ff2c,#d4ff2b,#d5ff2a,#d7ff28,#d8ff27,#daff25,#dcff23,#ddff22,#deff21,#dfff20,#dfff20,#dfff20,#ddff22,#dbff24,#d8ff27,#d3ff2c,#ceff31,#c7ff38,#bfff40,#b7ff48,#afff50,#a7ff58,#a0ff5f,#9bff64,#98ff67,#97ff68,#9aff65,#9eff61,#a3ff5c,#a9ff56,#afff50,#b5ff4a,#baff45,#c0ff3f,#c5ff3a,#c9ff36,#ccff33,#cfff30,#d1ff2e,#d2ff2d,#d2ff2d,#d3ff2c,#d2ff2d,#d2ff2d,#d2ff2d,#d2ff2d,#d2ff2d,#d3ff2c,#d5ff2a,#d8ff27)"></i><i style="height:2px;background:linear-gradient(90deg,#d0ff2f,#d1ff2e,#d3ff2c,#d4ff2b,#d6ff29,#d8ff27,#d9ff26,#dbff24,#dcff23,#ddff22,#deff21,#deff21,#deff21,#dcff23,#daff25,#d6ff29,#d2ff2d,#cbff34,#c4ff3b,#bdff42,#b4ff4b,#acff53,#a4ff5b,#9dff62,#98ff67,#95ff6a,#95ff6a,#97ff68,#9bff64,#a1ff5e,#a7ff58,#adff52,#b3ff4c,#b8ff47,#beff41,#c3ff3c,#c7ff38,#caff35,#cdff32,#cfff30,#d0ff2f,#d1ff2e,#d1ff2e,#d1ff2e,#d1ff2e,#d1ff2e,#d1ff2e,#d1ff2e,#d2ff2d,#d4ff2b,#d6ff29)"></i><i style="height:2px;background:linear-gradient(90deg,#cfff30,#d0ff2f,#d1ff2e,#d3ff2c,#d5ff2a,#d7ff28,#d8ff27,#daff25,#dcff23,#ddff22,#ddff22,#ddff22,#ddff22,#dbff24,#d9ff26,#d5ff2a,#d0ff2f,#caff35,#c2ff3d,#baff45,#b2ff4d,#aaff55,#a2ff5d,#9bff64,#96ff69,#93ff6c,#93ff6c,#95ff6a,#9aff65,#9fff60,#a5ff5a,#abff54,#b1ff4e,#b6ff49,#bcff43,#c1ff3e,#c5ff3a,#c8ff37,#cbff34,#cdff32,#cfff30,#d0ff2f,#d0ff2f,#d0ff2f,#d0ff2f,#d0ff2f,#cfff30,#d0ff2f,#d1ff2e,#d2ff2d,#d5ff2a)"></i><i style="height:2px;background:linear-gradient(90deg,#cdff32,#cfff30,#d0ff2f,#d2ff2d,#d4ff2b,#d6ff29,#d8ff27,#d9ff26,#dbff24,#dcff23,#ddff22,#ddff22,#dcff23,#daff25,#d8ff27,#d4ff2b,#ceff31,#c8ff37,#c0ff3f,#b8ff47,#b0ff4f,#a8ff57,#a0ff5f,#99ff66,#94ff6b,#91ff6e,#91ff6e,#94ff6b,#98ff67,#9dff62,#a3ff5c,#a9ff56,#afff50,#b4ff4b,#baff45,#beff41,#c3ff3c,#c6ff39,#c9ff36,#ccff33,#ceff31,#ceff31,#cfff30,#cfff30,#cfff30,#ceff31,#ceff31,#cfff30,#cfff30,#d1ff2e,#d3ff2c)"></i><i style="height:2px;background:linear-gradient(90deg,#ccff33,#ceff31,#cfff30,#d1ff2e,#d3ff2c,#d5ff2a,#d7ff28,#d9ff26,#daff25,#dbff24,#dcff23,#dcff23,#dbff24,#d9ff26,#d7ff28,#d2ff2d,#cdff32,#c6ff39,#bfff40,#b7ff48,#aeff51,#a6ff59,#9eff61,#97ff68,#92ff6d,#90ff6f,#90ff6f,#92ff6d,#97ff68,#9cff63,#a2ff5d,#a7ff58,#adff52,#b2ff4d,#b7ff48,#bcff43,#c0ff3f,#c4ff3b,#c7ff38,#caff35,#ccff33,#cdff32,#ceff31,#ceff31,#ceff31,#cdff32,#cdff32,#ceff31,#ceff31,#d0ff2f,#d2ff2d)"></i><i style="height:2px;background:linear-gradient(90deg,#cbff34,#ccff33,#ceff31,#d0ff2f,#d2ff2d,#d5ff2a,#d7ff28,#d8ff27,#daff25,#dbff24,#dbff24,#dbff24,#daff25,#d8ff27,#d5ff2a,#d1ff2e,#ccff33,#c5ff3a,#bdff42,#b5ff4a,#adff52,#a5ff5a,#9dff62,#96ff69,#91ff6e,#8fff70,#8fff70,#91ff6e,#95ff6a,#9bff64,#a0ff5f,#a6ff59,#abff54,#b0ff4f,#b5ff4a,#baff45,#beff41,#c2ff3d,#c5ff3a,#c8ff37,#caff35,#ccff33,#ccff33,#ccff33,#ccff33,#ccff33,#ccff33,#cdff32,#cdff32,#cfff30,#d1ff2e)"></i><i style="height:2px;background:linear-gradient(90deg,#caff35,#ccff33,#cdff32,#d0ff2f,#d2ff2d,#d4ff2b,#d6ff29,#d8ff27,#d9ff26,#daff25,#dbff24,#dbff24,#daff25,#d8ff27,#d4ff2b,#d0ff2f,#cbff34,#c4ff3b,#bcff43,#b4ff4b,#acff53,#a4ff5b,#9cff63,#95ff6a,#90ff6f,#8eff71,#8eff71,#90ff6f,#95ff6a,#9aff65,#9fff60,#a5ff5a,#aaff55,#afff50,#b3ff4c,#b8ff47,#bcff43,#c0ff3f,#c3ff3c,#c6ff39,#c9ff36,#caff35,#cbff34,#cbff34,#cbff34,#cbff34,#cbff34,#ccff33,#cdff32,#ceff31,#d0ff2f)"></i><i style="height:2px;background:linear-gradient(90deg,#c9ff36,#cbff34,#cdff32,#cfff30,#d1ff2e,#d4ff2b,#d6ff29,#d8ff27,#d9ff26,#daff25,#daff25,#daff25,#d9ff26,#d7ff28,#d4ff2b,#cfff30,#caff35,#c3ff3c,#bcff43,#b4ff4b,#abff54,#a3ff5c,#9bff64,#95ff6a,#90ff6f,#8dff72,#8dff72,#90ff6f,#94ff6b,#99ff66,#9eff61,#a3ff5c,#a8ff57,#adff52,#b1ff4e,#b6ff49,#baff45,#beff41,#c1ff3e,#c5ff3a,#c7ff38,#c9ff36,#caff35,#caff35,#caff35,#caff35,#caff35,#cbff34,#ccff33,#cdff32,#cfff30)"></i><i style="height:2px;background:linear-gradient(90deg,#c8ff37,#caff35,#ccff33,#ceff31,#d1ff2e,#d3ff2c,#d5ff2a,#d7ff28,#d9ff26,#daff25,#daff25,#d9ff26,#d8ff27,#d6ff29,#d3ff2c,#ceff31,#c9ff36,#c2ff3d,#bbff44,#b3ff4c,#abff54,#a3ff5c,#9bff64,#95ff6a,#90ff6f,#8dff72,#8dff72,#90ff6f,#93ff6c,#98ff67,#9dff62,#a2ff5d,#a7ff58,#abff54,#afff50,#b3ff4c,#b8ff47,#bcff43,#bfff40,#c3ff3c,#c5ff3a,#c7ff38,#c8ff37,#c9ff36,#c9ff36,#c9ff36,#caff35,#caff35,#cbff34,#ccff33,#cfff30)"></i><i style="height:2px;background:linear-gradient(90deg,#c7ff38,#c9ff36,#ccff33,#ceff31,#d1ff2e,#d3ff2c,#d5ff2a,#d7ff28,#d8ff27,#d9ff26,#daff25,#d9ff26,#d8ff27,#d5ff2a,#d2ff2d,#cdff32,#c8ff37,#c2ff3d,#baff45,#b3ff4c,#abff54,#a3ff5c,#9bff64,#95ff6a,#90ff6f,#8dff72,#8dff72,#8fff70,#93ff6c,#98ff67,#9dff62,#a1ff5e,#a5ff5a,#a9ff56,#adff52,#b1ff4e,#b5ff4a,#baff45,#bdff42,#c1ff3e,#c4ff3b,#c6ff39,#c7ff38,#c8ff37,#c8ff37,#c8ff37,#c9ff36,#c9ff36,#caff35,#ccff33,#ceff31)"></i><i style="height:2px;background:linear-gradient(90deg,#c7ff38,#c9ff36,#cbff34,#ceff31,#d0ff2f,#d3ff2c,#d5ff2a,#d7ff28,#d8ff27,#d9ff26,#d9ff26,#d9ff26,#d7ff28,#d5ff2a,#d1ff2e,#cdff32,#c7ff38,#c1ff3e,#baff45,#b3ff4c,#abff54,#a3ff5c,#9cff63,#95ff6a,#90ff6f,#8dff72,#8dff72,#8fff70,#93ff6c,#97ff68,#9cff63,#a0ff5f,#a4ff5b,#a8ff57,#acff53,#afff50,#b3ff4c,#b8ff47,#bcff43,#bfff40,#c2ff3d,#c4ff3b,#c6ff39,#c6ff39,#c7ff38,#c7ff38,#c8ff37,#c8ff37,#c9ff36,#cbff34,#cdff32)"></i><i style="height:2px;background:linear-gradient(90deg,#c6ff39,#c8ff37,#cbff34,#ceff31,#d0ff2f,#d3ff2c,#d5ff2a,#d7ff28,#d8ff27,#d9ff26,#d9ff26,#d8ff27,#d7ff28,#d4ff2b,#d1ff2e,#ccff33,#c7ff38,#c1ff3e,#baff45,#b3ff4c,#abff54,#a4ff5b,#9cff63,#96ff69,#91ff6e,#8eff71,#8eff71,#90ff6f,#93ff6c,#97ff68,#9cff63,#a0ff5f,#a3ff5c,#a7ff58,#aaff55,#aeff51,#b1ff4e,#b6ff49,#baff45,#bdff42,#c0ff3f,#c3ff3c,#c4ff3b,#c5ff3a,#c6ff39,#c6ff39,#c7ff38,#c8ff37,#c9ff36,#caff35,#ccff33)"></i><i style="height:2px;background:linear-gradient(90deg,#c6ff39,#c8ff37,#cbff34,#cdff32,#d0ff2f,#d3ff2c,#d5ff2a,#d7ff28,#d8ff27,#d9ff26,#d9ff26,#d8ff27,#d6ff29,#d3ff2c,#d0ff2f,#ccff33,#c7ff38,#c1ff3e,#baff45,#b3ff4c,#acff53,#a4ff5b,#9dff62,#97ff68,#92ff6d,#8fff70,#8fff70,#90ff6f,#94ff6b,#97ff68,#9bff64,#9fff60,#a2ff5d,#a5ff5a,#a8ff57,#acff53,#b0ff4f,#b4ff4b,#b8ff47,#bcff43,#bfff40,#c1ff3e,#c3ff3c,#c4ff3b,#c5ff3a,#c5ff3a,#c6ff39,#c7ff38,#c8ff37,#c9ff36,#ccff33)"></i><i style="height:2px;background:linear-gradient(90deg,#c6ff39,#c8ff37,#cbff34,#cdff32,#d0ff2f,#d3ff2c,#d5ff2a,#d7ff28,#d8ff27,#d9ff26,#d9ff26,#d8ff27,#d6ff29,#d3ff2c,#d0ff2f,#cbff34,#c7ff38,#c1ff3e,#bbff44,#b4ff4b,#adff52,#a5ff5a,#9eff61,#98ff67,#93ff6c,#90ff6f,#90ff6f,#91ff6e,#94ff6b,#98ff67,#9bff64,#9fff60,#a1ff5e,#a4ff5b,#a7ff58,#aaff55,#aeff51,#b2ff4d,#b6ff49,#baff45,#beff41,#c0ff3f,#c2ff3d,#c3ff3c,#c4ff3b,#c5ff3a,#c5ff3a,#c6ff39,#c7ff38,#c9ff36,#cbff34)"></i><i style="height:2px;background:linear-gradient(90deg,#c5ff3a,#c8ff37,#cbff34,#ceff31,#d0ff2f,#d3ff2c,#d5ff2a,#d7ff28,#d8ff27,#d9ff26,#d8ff27,#d7ff28,#d5ff2a,#d3ff2c,#cfff30,#cbff34,#c7ff38,#c1ff3e,#bbff44,#b5ff4a,#aeff51,#a7ff58,#a0ff5f,#99ff66,#94ff6b,#91ff6e,#91ff6e,#92ff6d,#95ff6a,#98ff67,#9bff64,#9eff61,#a1ff5e,#a3ff5c,#a6ff59,#a9ff56,#adff52,#b1ff4e,#b5ff4a,#b9ff46,#bcff43,#bfff40,#c1ff3e,#c2ff3d,#c3ff3c,#c4ff3b,#c4ff3b,#c5ff3a,#c6ff39,#c8ff37,#caff35)"></i><i style="height:2px;background:linear-gradient(90deg,#c5ff3a,#c8ff37,#cbff34,#ceff31,#d0ff2f,#d3ff2c,#d5ff2a,#d7ff28,#d8ff27,#d8ff27,#d8ff27,#d7ff28,#d5ff2a,#d3ff2c,#cfff30,#cbff34,#c7ff38,#c2ff3d,#bcff43,#b6ff49,#afff50,#a8ff57,#a1ff5e,#9bff64,#96ff69,#93ff6c,#92ff6d,#93ff6c,#96ff69,#99ff66,#9cff63,#9eff61,#a1ff5e,#a3ff5c,#a5ff5a,#a8ff57,#abff54,#afff50,#b4ff4b,#b8ff47,#bbff44,#beff41,#c0ff3f,#c1ff3e,#c2ff3d,#c3ff3c,#c3ff3c,#c4ff3b,#c5ff3a,#c7ff38,#c9ff36)"></i><i style="height:2px;background:linear-gradient(90deg,#c6ff39,#c8ff37,#cbff34,#ceff31,#d1ff2e,#d3ff2c,#d5ff2a,#d7ff28,#d8ff27,#d8ff27,#d8ff27,#d7ff28,#d5ff2a,#d2ff2d,#cfff30,#cbff34,#c7ff38,#c2ff3d,#bdff42,#b7ff48,#b0ff4f,#aaff55,#a3ff5c,#9dff62,#98ff67,#94ff6b,#94ff6b,#94ff6b,#97ff68,#99ff66,#9cff63,#9eff61,#a0ff5f,#a2ff5d,#a4ff5b,#a7ff58,#aaff55,#aeff51,#b3ff4c,#b7ff48,#baff45,#bdff42,#bfff40,#c0ff3f,#c1ff3e,#c2ff3d,#c2ff3d,#c3ff3c,#c5ff3a,#c6ff39,#c9ff36)"></i><i style="height:2px;background:linear-gradient(90deg,#c6ff39,#c9ff36,#ccff33,#cfff30,#d1ff2e,#d4ff2b,#d6ff29,#d7ff28,#d8ff27,#d8ff27,#d8ff27,#d7ff28,#d5ff2a,#d2ff2d,#cfff30,#ccff33,#c7ff38,#c3ff3c,#beff41,#b8ff47,#b2ff4d,#abff54,#a5ff5a,#9eff61,#99ff66,#96ff69,#95ff6a,#96ff69,#98ff67,#9aff65,#9dff62,#9fff60,#a0ff5f,#a2ff5d,#a4ff5b,#a6ff59,#aaff55,#aeff51,#b2ff4d,#b6ff49,#b9ff46,#bcff43,#beff41,#bfff40,#c0ff3f,#c1ff3e,#c1ff3e,#c2ff3d,#c4ff3b,#c5ff3a,#c8ff37)"></i><i style="height:2px;background:linear-gradient(90deg,#c6ff39,#c9ff36,#ccff33,#cfff30,#d2ff2d,#d4ff2b,#d6ff29,#d7ff28,#d8ff27,#d9ff26,#d8ff27,#d7ff28,#d5ff2a,#d2ff2d,#cfff30,#ccff33,#c8ff37,#c4ff3b,#bfff40,#baff45,#b4ff4b,#adff52,#a7ff58,#a1ff5e,#9cff63,#98ff67,#97ff68,#98ff67,#99ff66,#9bff64,#9dff62,#9fff60,#a1ff5e,#a2ff5d,#a4ff5b,#a6ff59,#a9ff56,#adff52,#b1ff4e,#b5ff4a,#b8ff47,#bbff44,#bdff42,#beff41,#bfff40,#c0ff3f,#c0ff3f,#c1ff3e,#c3ff3c,#c4ff3b,#c7ff38)"></i><i style="height:2px;background:linear-gradient(90deg,#c7ff38,#caff35,#cdff32,#d0ff2f,#d2ff2d,#d5ff2a,#d6ff29,#d8ff27,#d8ff27,#d9ff26,#d8ff27,#d7ff28,#d5ff2a,#d3ff2c,#d0ff2f,#cdff32,#c9ff36,#c5ff3a,#c0ff3f,#bbff44,#b5ff4a,#afff50,#a9ff56,#a3ff5c,#9eff61,#9bff64,#99ff66,#99ff66,#9bff64,#9cff63,#9eff61,#a0ff5f,#a1ff5e,#a2ff5d,#a4ff5b,#a6ff59,#a9ff56,#adff52,#b1ff4e,#b5ff4a,#b8ff47,#baff45,#bcff43,#bdff42,#beff41,#bfff40,#bfff40,#c0ff3f,#c2ff3d,#c3ff3c,#c6ff39)"></i><i style="height:2px;background:linear-gradient(90deg,#c8ff37,#cbff34,#ceff31,#d1ff2e,#d3ff2c,#d5ff2a,#d7ff28,#d8ff27,#d9ff26,#d9ff26,#d8ff27,#d7ff28,#d5ff2a,#d3ff2c,#d0ff2f,#cdff32,#caff35,#c6ff39,#c1ff3e,#bdff42,#b7ff48,#b1ff4e,#abff54,#a5ff5a,#a0ff5f,#9dff62,#9bff64,#9bff64,#9cff63,#9eff61,#9fff60,#a1ff5e,#a2ff5d,#a3ff5c,#a4ff5b,#a6ff59,#a9ff56,#adff52,#b1ff4e,#b4ff4b,#b7ff48,#baff45,#bbff44,#bcff43,#bdff42,#beff41,#beff41,#bfff40,#c0ff3f,#c2ff3d,#c5ff3a)"></i><i style="height:2px;background:linear-gradient(90deg,#c8ff37,#ccff33,#cfff30,#d2ff2d,#d4ff2b,#d6ff29,#d7ff28,#d8ff27,#d9ff26,#d9ff26,#d8ff27,#d7ff28,#d6ff29,#d4ff2b,#d1ff2e,#ceff31,#cbff34,#c7ff38,#c3ff3c,#beff41,#b9ff46,#b3ff4c,#adff52,#a8ff57,#a3ff5c,#9fff60,#9eff61,#9dff62,#9eff61,#9fff60,#a1ff5e,#a2ff5d,#a3ff5c,#a4ff5b,#a5ff5a,#a7ff58,#aaff55,#adff52,#b1ff4e,#b4ff4b,#b7ff48,#b9ff46,#bbff44,#bcff43,#bcff43,#bdff42,#bdff42,#beff41,#bfff40,#c1ff3e,#c4ff3b)"></i><i style="height:2px;background:linear-gradient(90deg,#caff35,#cdff32,#d0ff2f,#d3ff2c,#d5ff2a,#d7ff28,#d8ff27,#d9ff26,#d9ff26,#d9ff26,#d8ff27,#d7ff28,#d6ff29,#d4ff2b,#d2ff2d,#cfff30,#ccff33,#c9ff36,#c5ff3a,#c0ff3f,#bbff44,#b5ff4a,#afff50,#aaff55,#a5ff5a,#a2ff5d,#a0ff5f,#a0ff5f,#a0ff5f,#a1ff5e,#a2ff5d,#a3ff5c,#a4ff5b,#a5ff5a,#a6ff59,#a8ff57,#abff54,#aeff51,#b2ff4d,#b5ff4a,#b8ff47,#b9ff46,#baff45,#bbff44,#bbff44,#bbff44,#bcff43,#bcff43,#beff41,#bfff40,#c2ff3d)"></i><i style="height:2px;background:linear-gradient(90deg,#cbff34,#ceff31,#d2ff2d,#d4ff2b,#d6ff29,#d8ff27,#d9ff26,#d9ff26,#d9ff26,#d9ff26,#d9ff26,#d8ff27,#d6ff29,#d5ff2a,#d3ff2c,#d0ff2f,#ceff31,#caff35,#c6ff39,#c2ff3d,#bdff42,#b7ff48,#b2ff4d,#adff52,#a8ff57,#a5ff5a,#a3ff5c,#a2ff5d,#a2ff5d,#a3ff5c,#a4ff5b,#a4ff5b,#a5ff5a,#a6ff59,#a8ff57,#aaff55,#acff53,#afff50,#b3ff4c,#b6ff49,#b8ff47,#b9ff46,#baff45,#baff45,#baff45,#baff45,#baff45,#bbff44,#bcff43,#beff41,#c1ff3e)"></i><i style="height:1.5px;background:linear-gradient(90deg,#ccff33,#d0ff2f,#d3ff2c,#d5ff2a,#d7ff28,#d8ff27,#d9ff26,#daff25,#daff25,#d9ff26,#d9ff26,#d8ff27,#d7ff28,#d6ff29,#d4ff2b,#d2ff2d,#cfff30,#ccff33,#c8ff37,#c3ff3c,#beff41,#b9ff46,#b4ff4b,#afff50,#abff54,#a7ff58,#a5ff5a,#a4ff5b,#a4ff5b,#a4ff5b,#a5ff5a,#a6ff59,#a7ff58,#a8ff57,#a9ff56,#abff54,#aeff51,#b1ff4e,#b4ff4b,#b6ff49,#b8ff47,#baff45,#baff45,#baff45,#baff45,#b9ff46,#b9ff46,#baff45,#baff45,#bcff43,#bfff40)"></i></div>
<div class="hm" style="left:104px;top:491.5px;width:114px;height:169px"><i style="height:2px;background:linear-gradient(90deg,#ffdf00,#ffdc00,#ffd900,#ffd400,#ffd000,#ffca00,#ffc500,#ffc000,#ffbc00,#ffb900,#ffb600,#ffb500,#ffb500,#ffb600,#ffb900,#ffbc00,#ffc000,#ffc400,#ffc900,#ffce00,#ffd300,#ffd800,#ffdc00,#ffdf00)"></i><i style="height:2px;background:linear-gradient(90deg,#ffe000,#ffde00,#ffdb00,#ffd600,#ffd100,#ffcc00,#ffc600,#ffc100,#ffbc00,#ffb800,#ffb600,#ffb400,#ffb400,#ffb500,#ffb800,#ffbb00,#ffbf00,#ffc400,#ffc900,#ffce00,#ffd300,#ffd800,#ffdc00,#ffdf00)"></i><i style="height:2px;background:linear-gradient(90deg,#ffe100,#ffe000,#ffdd00,#ffd900,#ffd300,#ffce00,#ffc800,#ffc200,#ffbd00,#ffb800,#ffb600,#ffb400,#ffb400,#ffb500,#ffb700,#ffbb00,#ffbf00,#ffc400,#ffc900,#ffce00,#ffd300,#ffd800,#ffdd00,#ffe000)"></i><i style="height:2px;background:linear-gradient(90deg,#ffe200,#ffe200,#ffdf00,#ffdb00,#ffd600,#ffd000,#ffc900,#ffc300,#ffbe00,#ffb900,#ffb600,#ffb500,#ffb500,#ffb600,#ffb800,#ffbc00,#ffc000,#ffc500,#ffca00,#ffcf00,#ffd400,#ffd900,#ffde00,#ffe100)"></i><i style="height:2px;background:linear-gradient(90deg,#ffe400,#ffe400,#ffe100,#ffdd00,#ffd800,#ffd200,#ffcb00,#ffc500,#ffbf00,#ffbb00,#ffb800,#ffb600,#ffb600,#ffb700,#ffb900,#ffbd00,#ffc100,#ffc600,#ffcb00,#ffd100,#ffd600,#ffdb00,#ffdf00,#ffe300)"></i><i style="height:2px;background:linear-gradient(90deg,#ffe600,#ffe600,#ffe400,#ffe000,#ffdb00,#ffd400,#ffce00,#ffc700,#ffc100,#ffbd00,#ffb900,#ffb800,#ffb800,#ffb900,#ffbb00,#ffbf00,#ffc300,#ffc800,#ffcd00,#ffd300,#ffd800,#ffdd00,#ffe100,#ffe500)"></i><i style="height:2px;background:linear-gradient(90deg,#ffe800,#ffe800,#ffe600,#ffe300,#ffdd00,#ffd700,#ffd000,#ffca00,#ffc400,#ffbf00,#ffbc00,#ffba00,#ffba00,#ffbc00,#ffbe00,#ffc100,#ffc600,#ffcb00,#ffd000,#ffd500,#ffda00,#ffdf00,#ffe300,#ffe700)"></i><i style="height:2px;background:linear-gradient(90deg,#ffea00,#ffeb00,#ffe900,#ffe500,#ffe000,#ffda00,#ffd300,#ffcd00,#ffc700,#ffc200,#ffbf00,#ffbd00,#ffbd00,#ffbf00,#ffc100,#ffc400,#ffc900,#ffcd00,#ffd300,#ffd800,#ffdd00,#ffe200,#ffe600,#ffe900)"></i><i style="height:2px;background:linear-gradient(90deg,#ffed00,#ffed00,#ffec00,#ffe800,#ffe300,#ffdd00,#ffd600,#ffd000,#ffca00,#ffc500,#ffc200,#ffc100,#ffc100,#ffc200,#ffc400,#ffc800,#ffcc00,#ffd100,#ffd600,#ffdb00,#ffe000,#ffe400,#ffe900,#ffec00)"></i><i style="height:2px;background:linear-gradient(90deg,#ffef00,#fff000,#ffee00,#ffeb00,#ffe600,#ffe000,#ffd900,#ffd300,#ffcd00,#ffc900,#ffc600,#ffc400,#ffc400,#ffc600,#ffc800,#ffcc00,#ffd000,#ffd400,#ffd900,#ffde00,#ffe300,#ffe700,#ffec00,#ffef00)"></i><i style="height:2px;background:linear-gradient(90deg,#fff200,#fff300,#fff100,#ffed00,#ffe800,#ffe300,#ffdc00,#ffd600,#ffd100,#ffcc00,#ffca00,#ffc800,#ffc800,#ffca00,#ffcc00,#ffd000,#ffd300,#ffd800,#ffdd00,#ffe200,#ffe600,#ffeb00,#ffef00,#fff200)"></i><i style="height:2px;background:linear-gradient(90deg,#fff500,#fff600,#fff400,#fff000,#ffeb00,#ffe600,#ffe000,#ffda00,#ffd400,#ffd000,#ffce00,#ffcd00,#ffcd00,#ffce00,#ffd000,#ffd400,#ffd700,#ffdc00,#ffe000,#ffe500,#ffea00,#ffee00,#fff200,#fff500)"></i><i style="height:2px;background:linear-gradient(90deg,#fff800,#fff800,#fff600,#fff300,#ffee00,#ffe900,#ffe300,#ffdd00,#ffd800,#ffd400,#ffd200,#ffd100,#ffd100,#ffd200,#ffd500,#ffd800,#ffdc00,#ffe000,#ffe400,#ffe900,#ffed00,#fff100,#fff500,#fff800)"></i><i style="height:2px;background:linear-gradient(90deg,#fffb00,#fffb00,#fff900,#fff500,#fff100,#ffeb00,#ffe600,#ffe100,#ffdc00,#ffd900,#ffd600,#ffd500,#ffd600,#ffd700,#ffd900,#ffdc00,#ffe000,#ffe400,#ffe800,#ffec00,#fff000,#fff400,#fff800,#fffb00)"></i><i style="height:2px;background:linear-gradient(90deg,#fffe00,#fffe00,#fffb00,#fff800,#fff300,#ffee00,#ffe900,#ffe400,#ffe000,#ffdd00,#ffdb00,#ffda00,#ffda00,#ffdb00,#ffdd00,#ffe000,#ffe400,#ffe700,#ffec00,#fff000,#fff400,#fff800,#fffb00,#fffe00)"></i><i style="height:2px;background:linear-gradient(90deg,#fcff03,#feff01,#fffe00,#fffa00,#fff600,#fff100,#ffec00,#ffe800,#ffe400,#ffe100,#ffdf00,#ffde00,#ffde00,#ffdf00,#ffe100,#ffe400,#ffe700,#ffeb00,#ffef00,#fff300,#fff700,#fffb00,#fffe00,#feff01)"></i><i style="height:2px;background:linear-gradient(90deg,#f9ff06,#fbff04,#feff01,#fffc00,#fff800,#fff400,#fff000,#ffeb00,#ffe800,#ffe500,#ffe300,#ffe200,#ffe200,#ffe300,#ffe500,#ffe800,#ffeb00,#ffef00,#fff200,#fff600,#fffa00,#fffe00,#fdff02,#fbff04)"></i><i style="height:2px;background:linear-gradient(90deg,#f6ff09,#f9ff06,#fcff03,#fffe00,#fffa00,#fff600,#fff200,#ffef00,#ffec00,#ffe900,#ffe700,#ffe600,#ffe600,#ffe700,#ffe900,#ffeb00,#ffee00,#fff200,#fff600,#fff900,#fffd00,#feff01,#fbff04,#f9ff06)"></i><i style="height:2px;background:linear-gradient(90deg,#f3ff0c,#f7ff08,#faff05,#feff01,#fffc00,#fff900,#fff500,#fff200,#ffef00,#ffed00,#ffeb00,#ffea00,#ffea00,#ffeb00,#ffec00,#ffee00,#fff100,#fff500,#fff800,#fffc00,#ffff00,#fbff04,#f9ff06,#f7ff08)"></i><i style="height:2px;background:linear-gradient(90deg,#f1ff0e,#f5ff0a,#f8ff07,#fcff03,#fffe00,#fffb00,#fff800,#fff500,#fff200,#fff000,#ffef00,#ffee00,#ffed00,#ffee00,#ffef00,#fff100,#fff400,#fff700,#fffb00,#fffe00,#fcff03,#f9ff06,#f7ff08,#f5ff0a)"></i><i style="height:2px;background:linear-gradient(90deg,#eeff11,#f3ff0c,#f7ff08,#fbff04,#feff01,#fffd00,#fffa00,#fff700,#fff500,#fff300,#fff200,#fff100,#fff000,#fff000,#fff100,#fff300,#fff600,#fff900,#fffc00,#feff01,#fbff04,#f7ff08,#f5ff0a,#f3ff0c)"></i><i style="height:2px;background:linear-gradient(90deg,#ecff13,#f1ff0e,#f5ff0a,#f9ff06,#fdff02,#fffe00,#fffc00,#fffa00,#fff800,#fff600,#fff500,#fff300,#fff200,#fff200,#fff300,#fff500,#fff700,#fffa00,#fffe00,#fdff02,#f9ff06,#f6ff09,#f4ff0b,#f2ff0d)"></i><i style="height:2px;background:linear-gradient(90deg,#e9ff16,#efff10,#f4ff0b,#f8ff07,#fcff03,#feff01,#fffd00,#fffc00,#fffa00,#fff800,#fff700,#fff500,#fff400,#fff400,#fff400,#fff600,#fff800,#fffb00,#ffff00,#fcff03,#f8ff07,#f5ff0a,#f3ff0c,#f1ff0e)"></i><i style="height:2px;background:linear-gradient(90deg,#e7ff18,#eeff11,#f3ff0c,#f8ff07,#fbff04,#fdff02,#ffff00,#fffd00,#fffc00,#fffa00,#fff900,#fff700,#fff500,#fff500,#fff500,#fff600,#fff800,#fffb00,#ffff00,#fbff04,#f8ff07,#f5ff0a,#f2ff0d,#f1ff0e)"></i><i style="height:2px;background:linear-gradient(90deg,#e5ff1a,#edff12,#f3ff0c,#f7ff08,#faff05,#fcff03,#feff01,#ffff00,#fffd00,#fffc00,#fffa00,#fff800,#fff600,#fff500,#fff500,#fff600,#fff800,#fffb00,#ffff00,#fbff04,#f8ff07,#f5ff0a,#f2ff0d,#f1ff0e)"></i><i style="height:2px;background:linear-gradient(90deg,#e3ff1c,#ecff13,#f2ff0d,#f7ff08,#faff05,#fcff03,#fdff02,#feff01,#ffff00,#fffd00,#fffb00,#fff900,#fff700,#fff500,#fff500,#fff600,#fff800,#fffb00,#ffff00,#fcff03,#f8ff07,#f5ff0a,#f2ff0d,#f1ff0e)"></i><i style="height:2px;background:linear-gradient(90deg,#e2ff1d,#ebff14,#f1ff0e,#f6ff09,#f9ff06,#fbff04,#fcff03,#fdff02,#feff01,#fffe00,#fffc00,#fff900,#fff700,#fff500,#fff400,#fff500,#fff700,#fffa00,#fffe00,#fcff03,#f8ff07,#f5ff0a,#f2ff0d,#f1ff0e)"></i><i style="height:2px;background:linear-gradient(90deg,#e0ff1f,#eaff15,#f1ff0e,#f6ff09,#f9ff06,#fbff04,#fcff03,#fdff02,#feff01,#ffff00,#fffd00,#fffa00,#fff700,#fff400,#fff300,#fff400,#fff600,#fff900,#fffd00,#fdff02,#f9ff06,#f5ff0a,#f3ff0c,#f1ff0e)"></i><i style="height:2px;background:linear-gradient(90deg,#deff21,#e9ff16,#f0ff0f,#f5ff0a,#f9ff06,#faff05,#fbff04,#fcff03,#fdff02,#ffff00,#fffd00,#fffa00,#fff600,#fff400,#fff300,#fff300,#fff500,#fff800,#fffc00,#fdff02,#f9ff06,#f6ff09,#f3ff0c,#f1ff0e)"></i><i style="height:2px;background:linear-gradient(90deg,#ddff22,#e8ff17,#f0ff0f,#f5ff0a,#f8ff07,#faff05,#fbff04,#fcff03,#fdff02,#feff01,#fffd00,#fff900,#fff600,#fff300,#fff200,#fff200,#fff400,#fff800,#fffc00,#feff01,#faff05,#f6ff09,#f3ff0c,#f2ff0d)"></i><i style="height:2px;background:linear-gradient(90deg,#dcff23,#e7ff18,#efff10,#f4ff0b,#f8ff07,#faff05,#fbff04,#fcff03,#fdff02,#feff01,#fffd00,#fff900,#fff500,#fff200,#fff100,#fff100,#fff300,#fff700,#fffb00,#ffff00,#faff05,#f6ff09,#f3ff0c,#f2ff0d)"></i><i style="height:2px;background:linear-gradient(90deg,#daff25,#e6ff19,#eeff11,#f4ff0b,#f7ff08,#faff05,#fbff04,#fcff03,#fdff02,#feff01,#fffc00,#fff800,#fff400,#fff100,#fff000,#fff000,#fff300,#fff600,#fffa00,#ffff00,#faff05,#f6ff09,#f4ff0b,#f2ff0d)"></i><i style="height:2px;background:linear-gradient(90deg,#d9ff26,#e5ff1a,#edff12,#f3ff0c,#f7ff08,#f9ff06,#fbff04,#fcff03,#fdff02,#ffff00,#fffc00,#fff800,#fff400,#fff100,#ffef00,#fff000,#fff200,#fff600,#fffa00,#ffff00,#faff05,#f6ff09,#f4ff0b,#f2ff0d)"></i><i style="height:2px;background:linear-gradient(90deg,#d8ff27,#e4ff1b,#ecff13,#f2ff0d,#f6ff09,#f9ff06,#faff05,#fcff03,#fdff02,#ffff00,#fffb00,#fff700,#fff300,#fff000,#ffee00,#ffef00,#fff200,#fff500,#fffa00,#ffff00,#faff05,#f6ff09,#f3ff0c,#f2ff0d)"></i><i style="height:2px;background:linear-gradient(90deg,#d7ff28,#e2ff1d,#ebff14,#f1ff0e,#f5ff0a,#f8ff07,#faff05,#fcff03,#fdff02,#fffe00,#fffb00,#fff700,#fff300,#ffef00,#ffee00,#ffef00,#fff200,#fff600,#fffa00,#ffff00,#faff05,#f6ff09,#f3ff0c,#f2ff0d)"></i><i style="height:2px;background:linear-gradient(90deg,#d6ff29,#e1ff1e,#eaff15,#f0ff0f,#f4ff0b,#f8ff07,#faff05,#fcff03,#feff01,#fffe00,#fffa00,#fff600,#fff200,#ffef00,#ffee00,#ffef00,#fff200,#fff600,#fffb00,#feff01,#f9ff06,#f5ff0a,#f3ff0c,#f2ff0d)"></i><i style="height:2px;background:linear-gradient(90deg,#d4ff2b,#e0ff1f,#e8ff17,#efff10,#f3ff0c,#f7ff08,#f9ff06,#fcff03,#feff01,#fffd00,#fffa00,#fff600,#fff200,#ffef00,#ffee00,#ffef00,#fff200,#fff600,#fffb00,#fdff02,#f9ff06,#f5ff0a,#f2ff0d,#f1ff0e)"></i><i style="height:2px;background:linear-gradient(90deg,#d3ff2c,#deff21,#e7ff18,#edff12,#f2ff0d,#f6ff09,#f9ff06,#fbff04,#feff01,#fffd00,#fff900,#fff500,#fff200,#ffef00,#ffef00,#fff000,#fff300,#fff700,#fffc00,#fdff02,#f8ff07,#f4ff0b,#f1ff0e,#f0ff0f)"></i><i style="height:2px;background:linear-gradient(90deg,#d2ff2d,#dcff23,#e5ff1a,#ebff14,#f1ff0e,#f5ff0a,#f8ff07,#fbff04,#feff01,#fffd00,#fff900,#fff500,#fff200,#fff000,#ffef00,#fff100,#fff400,#fff800,#fffd00,#fcff03,#f7ff08,#f3ff0c,#f0ff0f,#f0ff0f)"></i><i style="height:2px;background:linear-gradient(90deg,#d1ff2e,#dbff24,#e3ff1c,#e9ff16,#efff10,#f3ff0c,#f7ff08,#faff05,#fdff02,#fffd00,#fffa00,#fff600,#fff300,#fff100,#fff000,#fff200,#fff500,#fffa00,#ffff00,#faff05,#f6ff09,#f2ff0d,#efff10,#efff10)"></i><i style="height:2px;background:linear-gradient(90deg,#cfff30,#d9ff26,#e1ff1e,#e7ff18,#edff12,#f2ff0d,#f6ff09,#f9ff06,#fdff02,#fffe00,#fffa00,#fff600,#fff400,#fff200,#fff200,#fff300,#fff700,#fffb00,#feff01,#f9ff06,#f4ff0b,#f1ff0e,#eeff11,#eeff11)"></i><i style="height:2px;background:linear-gradient(90deg,#ceff31,#d7ff28,#dfff20,#e5ff1a,#ebff14,#f0ff0f,#f4ff0b,#f8ff07,#fcff03,#ffff00,#fffb00,#fff800,#fff500,#fff300,#fff300,#fff500,#fff900,#fffd00,#fcff03,#f7ff08,#f3ff0c,#efff10,#edff12,#edff12)"></i><i style="height:2px;background:linear-gradient(90deg,#cdff32,#d5ff2a,#dcff23,#e3ff1c,#e8ff17,#eeff11,#f2ff0d,#f6ff09,#faff05,#feff01,#fffc00,#fff900,#fff700,#fff500,#fff600,#fff700,#fffb00,#ffff00,#faff05,#f6ff09,#f1ff0e,#eeff11,#ecff13,#ebff14)"></i><i style="height:2px;background:linear-gradient(90deg,#cbff34,#d3ff2c,#daff25,#e0ff1f,#e6ff19,#ebff14,#f0ff0f,#f4ff0b,#f8ff07,#fcff03,#fffe00,#fffb00,#fff900,#fff800,#fff800,#fffa00,#fffd00,#fdff02,#f8ff07,#f4ff0b,#f0ff0f,#edff12,#ebff14,#eaff15)"></i><i style="height:2px;background:linear-gradient(90deg,#c9ff36,#d1ff2e,#d7ff28,#ddff22,#e3ff1c,#e8ff17,#edff12,#f2ff0d,#f6ff09,#faff05,#fdff02,#fffe00,#fffc00,#fffb00,#fffb00,#fffd00,#feff01,#faff05,#f6ff09,#f2ff0d,#eeff11,#ebff14,#e9ff16,#e9ff16)"></i><i style="height:2px;background:linear-gradient(90deg,#c8ff37,#ceff31,#d5ff2a,#daff25,#e0ff1f,#e5ff1a,#eaff15,#efff10,#f3ff0c,#f7ff08,#fbff04,#fdff02,#ffff00,#fffe00,#fffe00,#feff01,#fbff04,#f8ff07,#f4ff0b,#f0ff0f,#ecff13,#eaff15,#e8ff17,#e8ff17)"></i><i style="height:2px;background:linear-gradient(90deg,#c6ff39,#ccff33,#d2ff2d,#d8ff27,#ddff22,#e2ff1d,#e7ff18,#ecff13,#f0ff0f,#f4ff0b,#f8ff07,#faff05,#fcff03,#fdff02,#fdff02,#fbff04,#f8ff07,#f5ff0a,#f1ff0e,#eeff11,#ebff14,#e8ff17,#e6ff19,#e6ff19)"></i><i style="height:2px;background:linear-gradient(90deg,#c4ff3b,#c9ff36,#cfff30,#d5ff2a,#daff25,#dfff20,#e4ff1b,#e9ff16,#edff12,#f1ff0e,#f4ff0b,#f7ff08,#f9ff06,#f9ff06,#f9ff06,#f8ff07,#f5ff0a,#f2ff0d,#efff10,#ecff13,#e9ff16,#e6ff19,#e5ff1a,#e4ff1b)"></i><i style="height:2px;background:linear-gradient(90deg,#c2ff3d,#c7ff38,#ccff33,#d1ff2e,#d7ff28,#dcff23,#e1ff1e,#e6ff19,#eaff15,#eeff11,#f1ff0e,#f3ff0c,#f5ff0a,#f6ff09,#f5ff0a,#f4ff0b,#f2ff0d,#efff10,#ecff13,#e9ff16,#e7ff18,#e4ff1b,#e3ff1c,#e2ff1d)"></i><i style="height:2px;background:linear-gradient(90deg,#c0ff3f,#c5ff3a,#c9ff36,#ceff31,#d4ff2b,#d9ff26,#deff21,#e2ff1d,#e7ff18,#eaff15,#edff12,#f0ff0f,#f1ff0e,#f2ff0d,#f2ff0d,#f0ff0f,#efff10,#ecff13,#eaff15,#e7ff18,#e4ff1b,#e2ff1d,#e1ff1e,#e1ff1e)"></i><i style="height:2px;background:linear-gradient(90deg,#beff41,#c2ff3d,#c7ff38,#cbff34,#d0ff2f,#d5ff2a,#daff25,#dfff20,#e3ff1c,#e7ff18,#eaff15,#ecff13,#edff12,#eeff11,#eeff11,#edff12,#ebff14,#e9ff16,#e7ff18,#e4ff1b,#e2ff1d,#e0ff1f,#dfff20,#deff21)"></i><i style="height:2px;background:linear-gradient(90deg,#bcff43,#c0ff3f,#c4ff3b,#c9ff36,#cdff32,#d2ff2d,#d7ff28,#dbff24,#e0ff1f,#e3ff1c,#e6ff19,#e8ff17,#eaff15,#eaff15,#eaff15,#e9ff16,#e8ff17,#e6ff19,#e4ff1b,#e2ff1d,#e0ff1f,#deff21,#ddff22,#dcff23)"></i><i style="height:2px;background:linear-gradient(90deg,#baff45,#bdff42,#c1ff3e,#c6ff39,#caff35,#cfff30,#d4ff2b,#d8ff27,#dcff23,#e0ff1f,#e2ff1d,#e5ff1a,#e6ff19,#e7ff18,#e7ff18,#e6ff19,#e5ff1a,#e3ff1c,#e1ff1e,#dfff20,#ddff22,#dbff24,#daff25,#daff25)"></i><i style="height:2px;background:linear-gradient(90deg,#b8ff47,#bbff44,#bfff40,#c3ff3c,#c8ff37,#ccff33,#d1ff2e,#d5ff2a,#d9ff26,#dcff23,#dfff20,#e1ff1e,#e2ff1d,#e3ff1c,#e3ff1c,#e2ff1d,#e1ff1e,#e0ff1f,#deff21,#dcff23,#daff25,#d9ff26,#d8ff27,#d7ff28)"></i><i style="height:2px;background:linear-gradient(90deg,#b5ff4a,#b9ff46,#bcff43,#c1ff3e,#c5ff3a,#c9ff36,#ceff31,#d2ff2d,#d6ff29,#d9ff26,#dcff23,#deff21,#dfff20,#e0ff1f,#e0ff1f,#dfff20,#deff21,#ddff22,#dbff24,#d9ff26,#d7ff28,#d6ff29,#d5ff2a,#d4ff2b)"></i><i style="height:2px;background:linear-gradient(90deg,#b3ff4c,#b6ff49,#baff45,#beff41,#c2ff3d,#c7ff38,#cbff34,#cfff30,#d3ff2c,#d6ff29,#d8ff27,#daff25,#dcff23,#dcff23,#ddff22,#dcff23,#dbff24,#daff25,#d8ff27,#d6ff29,#d5ff2a,#d3ff2c,#d2ff2d,#d1ff2e)"></i><i style="height:2px;background:linear-gradient(90deg,#b1ff4e,#b4ff4b,#b8ff47,#bcff43,#c0ff3f,#c4ff3b,#c8ff37,#ccff33,#d0ff2f,#d3ff2c,#d5ff2a,#d7ff28,#d9ff26,#d9ff26,#d9ff26,#d9ff26,#d8ff27,#d6ff29,#d5ff2a,#d3ff2c,#d1ff2e,#d0ff2f,#cfff30,#ceff31)"></i><i style="height:2px;background:linear-gradient(90deg,#aeff51,#b2ff4d,#b6ff49,#baff45,#beff41,#c2ff3d,#c6ff39,#c9ff36,#cdff32,#d0ff2f,#d2ff2d,#d4ff2b,#d6ff29,#d6ff29,#d6ff29,#d6ff29,#d5ff2a,#d3ff2c,#d2ff2d,#d0ff2f,#ceff31,#cdff32,#ccff33,#cbff34)"></i><i style="height:2px;background:linear-gradient(90deg,#acff53,#b0ff4f,#b3ff4c,#b7ff48,#bbff44,#bfff40,#c3ff3c,#c7ff38,#caff35,#cdff32,#cfff30,#d1ff2e,#d3ff2c,#d3ff2c,#d3ff2c,#d3ff2c,#d2ff2d,#d0ff2f,#cfff30,#cdff32,#cbff34,#caff35,#c8ff37,#c8ff37)"></i><i style="height:2px;background:linear-gradient(90deg,#aaff55,#adff52,#b1ff4e,#b5ff4a,#b9ff46,#bdff42,#c1ff3e,#c4ff3b,#c7ff38,#caff35,#ccff33,#ceff31,#d0ff2f,#d0ff2f,#d1ff2e,#d0ff2f,#cfff30,#cdff32,#ccff33,#caff35,#c8ff37,#c6ff39,#c5ff3a,#c4ff3b)"></i><i style="height:2px;background:linear-gradient(90deg,#a7ff58,#abff54,#afff50,#b3ff4c,#b7ff48,#bbff44,#beff41,#c1ff3e,#c4ff3b,#c7ff38,#c9ff36,#cbff34,#cdff32,#ceff31,#ceff31,#cdff32,#ccff33,#caff35,#c9ff36,#c7ff38,#c5ff3a,#c3ff3c,#c2ff3d,#c1ff3e)"></i><i style="height:2px;background:linear-gradient(90deg,#a5ff5a,#a9ff56,#adff52,#b1ff4e,#b5ff4a,#b8ff47,#bcff43,#bfff40,#c2ff3d,#c4ff3b,#c6ff39,#c8ff37,#caff35,#cbff34,#cbff34,#caff35,#c9ff36,#c8ff37,#c6ff39,#c4ff3b,#c2ff3d,#c0ff3f,#bfff40,#beff41)"></i><i style="height:2px;background:linear-gradient(90deg,#a2ff5d,#a7ff58,#abff54,#afff50,#b3ff4c,#b6ff49,#b9ff46,#bcff43,#bfff40,#c1ff3e,#c4ff3b,#c6ff39,#c7ff38,#c8ff37,#c8ff37,#c8ff37,#c6ff39,#c5ff3a,#c3ff3c,#c1ff3e,#bfff40,#bdff42,#bcff43,#bbff44)"></i><i style="height:2px;background:linear-gradient(90deg,#a0ff5f,#a4ff5b,#a9ff56,#adff52,#b0ff4f,#b4ff4b,#b7ff48,#baff45,#bcff43,#beff41,#c1ff3e,#c3ff3c,#c4ff3b,#c5ff3a,#c5ff3a,#c5ff3a,#c3ff3c,#c2ff3d,#c0ff3f,#beff41,#bcff43,#baff45,#b9ff46,#b9ff46)"></i><i style="height:2px;background:linear-gradient(90deg,#9dff62,#a2ff5d,#a7ff58,#abff54,#aeff51,#b1ff4e,#b4ff4b,#b7ff48,#b9ff46,#bcff43,#beff41,#c0ff3f,#c1ff3e,#c2ff3d,#c2ff3d,#c2ff3d,#c1ff3e,#bfff40,#bdff42,#bbff44,#b9ff46,#b8ff47,#b6ff49,#b6ff49)"></i><i style="height:2px;background:linear-gradient(90deg,#9aff65,#a0ff5f,#a4ff5b,#a8ff57,#acff53,#afff50,#b2ff4d,#b4ff4b,#b7ff48,#b9ff46,#bbff44,#bdff42,#beff41,#bfff40,#bfff40,#bfff40,#beff41,#bcff43,#baff45,#b8ff47,#b6ff49,#b5ff4a,#b4ff4b,#b4ff4b)"></i><i style="height:2px;background:linear-gradient(90deg,#98ff67,#9dff62,#a2ff5d,#a6ff59,#aaff55,#adff52,#afff50,#b2ff4d,#b4ff4b,#b6ff49,#b8ff47,#baff45,#bbff44,#bcff43,#bcff43,#bcff43,#bbff44,#b9ff46,#b8ff47,#b6ff49,#b4ff4b,#b2ff4d,#b2ff4d,#b1ff4e)"></i><i style="height:2px;background:linear-gradient(90deg,#95ff6a,#9bff64,#a0ff5f,#a4ff5b,#a7ff58,#aaff55,#adff52,#afff50,#b1ff4e,#b3ff4c,#b5ff4a,#b7ff48,#b8ff47,#b9ff46,#b9ff46,#b9ff46,#b8ff47,#b7ff48,#b5ff4a,#b3ff4c,#b2ff4d,#b0ff4f,#afff50,#afff50)"></i><i style="height:2px;background:linear-gradient(90deg,#93ff6c,#99ff66,#9dff62,#a1ff5e,#a5ff5a,#a8ff57,#aaff55,#acff53,#aeff51,#b0ff4f,#b2ff4d,#b4ff4b,#b5ff4a,#b6ff49,#b6ff49,#b6ff49,#b5ff4a,#b4ff4b,#b2ff4d,#b1ff4e,#afff50,#aeff51,#adff52,#adff52)"></i><i style="height:2px;background:linear-gradient(90deg,#91ff6e,#96ff69,#9bff64,#9fff60,#a2ff5d,#a5ff5a,#a7ff58,#a9ff56,#abff54,#adff52,#afff50,#b0ff4f,#b2ff4d,#b3ff4c,#b3ff4c,#b3ff4c,#b2ff4d,#b1ff4e,#b0ff4f,#aeff51,#adff52,#acff53,#acff53,#acff53)"></i><i style="height:2px;background:linear-gradient(90deg,#8eff71,#94ff6b,#99ff66,#9dff62,#a0ff5f,#a3ff5c,#a5ff5a,#a7ff58,#a8ff57,#aaff55,#acff53,#adff52,#afff50,#b0ff4f,#b0ff4f,#b0ff4f,#b0ff4f,#afff50,#adff52,#acff53,#abff54,#aaff55,#aaff55,#aaff55)"></i><i style="height:2px;background:linear-gradient(90deg,#8cff73,#92ff6d,#97ff68,#9bff64,#9eff61,#a0ff5f,#a2ff5d,#a4ff5b,#a5ff5a,#a7ff58,#a8ff57,#aaff55,#acff53,#adff52,#adff52,#adff52,#adff52,#acff53,#abff54,#aaff55,#a9ff56,#a9ff56,#a8ff57,#a9ff56)"></i><i style="height:2px;background:linear-gradient(90deg,#8aff75,#90ff6f,#94ff6b,#98ff67,#9bff64,#9eff61,#9fff60,#a1ff5e,#a2ff5d,#a4ff5b,#a5ff5a,#a7ff58,#a8ff57,#aaff55,#aaff55,#aaff55,#aaff55,#aaff55,#a9ff56,#a8ff57,#a7ff58,#a7ff58,#a7ff58,#a7ff58)"></i><i style="height:2px;background:linear-gradient(90deg,#87ff78,#8dff72,#92ff6d,#96ff69,#99ff66,#9bff64,#9dff62,#9eff61,#9fff60,#a1ff5e,#a2ff5d,#a4ff5b,#a5ff5a,#a6ff59,#a7ff58,#a8ff57,#a8ff57,#a7ff58,#a7ff58,#a6ff59,#a6ff59,#a6ff59,#a6ff59,#a6ff59)"></i><i style="height:2px;background:linear-gradient(90deg,#85ff7a,#8bff74,#90ff6f,#94ff6b,#96ff69,#98ff67,#9aff65,#9bff64,#9cff63,#9dff62,#9fff60,#a0ff5f,#a2ff5d,#a3ff5c,#a4ff5b,#a5ff5a,#a5ff5a,#a5ff5a,#a5ff5a,#a5ff5a,#a4ff5b,#a4ff5b,#a5ff5a,#a5ff5a)"></i><i style="height:2px;background:linear-gradient(90deg,#84ff7b,#89ff76,#8eff71,#92ff6d,#94ff6b,#96ff69,#97ff68,#98ff67,#99ff66,#9aff65,#9bff64,#9dff62,#9eff61,#a0ff5f,#a1ff5e,#a2ff5d,#a2ff5d,#a3ff5c,#a3ff5c,#a3ff5c,#a3ff5c,#a3ff5c,#a4ff5b,#a4ff5b)"></i><i style="height:2px;background:linear-gradient(90deg,#82ff7d,#88ff77,#8cff73,#8fff70,#92ff6d,#93ff6c,#94ff6b,#95ff6a,#96ff69,#97ff68,#98ff67,#99ff66,#9bff64,#9dff62,#9eff61,#9fff60,#a0ff5f,#a1ff5e,#a1ff5e,#a2ff5d,#a2ff5d,#a2ff5d,#a3ff5c,#a3ff5c)"></i><i style="height:2px;background:linear-gradient(90deg,#80ff7f,#86ff79,#8aff75,#8dff72,#8fff70,#91ff6e,#91ff6e,#92ff6d,#93ff6c,#93ff6c,#94ff6b,#96ff69,#98ff67,#99ff66,#9bff64,#9cff63,#9eff61,#9fff60,#9fff60,#a0ff5f,#a1ff5e,#a1ff5e,#a2ff5d,#a3ff5c)"></i><i style="height:2px;background:linear-gradient(90deg,#7fff80,#84ff7b,#88ff77,#8bff74,#8dff72,#8eff71,#8fff70,#8fff70,#8fff70,#90ff6f,#91ff6e,#92ff6d,#94ff6b,#96ff69,#98ff67,#9aff65,#9bff64,#9dff62,#9eff61,#9fff60,#a0ff5f,#a1ff5e,#a1ff5e,#a2ff5d)"></i><i style="height:2px;background:linear-gradient(90deg,#7dff82,#83ff7c,#87ff78,#89ff76,#8bff74,#8cff73,#8cff73,#8cff73,#8cff73,#8cff73,#8dff72,#8fff70,#91ff6e,#93ff6c,#95ff6a,#97ff68,#99ff66,#9bff64,#9cff63,#9eff61,#9fff60,#a0ff5f,#a1ff5e,#a1ff5e)"></i><i style="height:2px;background:linear-gradient(90deg,#7cff83,#82ff7d,#85ff7a,#87ff78,#89ff76,#89ff76,#89ff76,#88ff77,#88ff77,#89ff76,#89ff76,#8bff74,#8dff72,#90ff6f,#92ff6d,#95ff6a,#97ff68,#99ff66,#9bff64,#9dff62,#9eff61,#a0ff5f,#a0ff5f,#a1ff5e)"></i><i style="height:2px;background:linear-gradient(90deg,#7bff84,#80ff7f,#84ff7b,#86ff79,#86ff79,#86ff79,#86ff79,#85ff7a,#85ff7a,#85ff7a,#86ff79,#87ff78,#8aff75,#8cff73,#8fff70,#92ff6d,#95ff6a,#98ff67,#9aff65,#9cff63,#9eff61,#9fff60,#a0ff5f,#a0ff5f)"></i><i style="height:2px;background:linear-gradient(90deg,#7bff84,#7fff80,#83ff7c,#84ff7b,#84ff7b,#84ff7b,#83ff7c,#82ff7d,#81ff7e,#81ff7e,#82ff7d,#84ff7b,#86ff79,#89ff76,#8cff73,#90ff6f,#93ff6c,#96ff69,#99ff66,#9cff63,#9eff61,#9fff60,#a0ff5f,#a0ff5f)"></i><i style="height:2px;background:linear-gradient(90deg,#7aff85,#7fff80,#81ff7e,#82ff7d,#82ff7d,#81ff7e,#80ff7f,#7eff81,#7dff82,#7dff82,#7eff81,#80ff7f,#82ff7d,#86ff79,#89ff76,#8dff72,#91ff6e,#95ff6a,#98ff67,#9bff64,#9dff62,#9fff60,#a0ff5f,#a0ff5f)"></i><i style="height:1px;background:linear-gradient(90deg,#7aff85,#7eff81,#81ff7e,#81ff7e,#81ff7e,#7fff80,#7eff81,#7cff83,#7bff84,#7aff85,#7bff84,#7dff82,#80ff7f,#83ff7c,#87ff78,#8cff73,#90ff6f,#94ff6b,#98ff67,#9bff64,#9dff62,#9fff60,#a0ff5f,#a0ff5f)"></i></div>
<div class="hm" style="left:368px;top:491.5px;width:252px;height:169px"><i style="height:2px;background:linear-gradient(90deg,#00ccff,#00cfff,#00d3ff,#00d8ff,#00dcff,#00e0ff,#00e5ff,#00e9ff,#00edff,#00f1ff,#00f4ff,#00f7ff,#00faff,#00fdff,#02fffd,#07fff8,#0cfff3,#13ffec,#19ffe6,#20ffdf,#27ffd8,#2dffd2,#32ffcd,#36ffc9,#39ffc6,#3bffc4,#3bffc4,#3affc5,#39ffc6,#37ffc8,#35ffca,#32ffcd,#30ffcf,#2effd1,#2effd1,#2effd1,#30ffcf,#33ffcc,#37ffc8,#3cffc3,#41ffbe,#46ffb9,#4cffb3,#51ffae,#55ffaa,#5affa5,#5effa1,#61ff9e,#64ff9b,#66ff99,#66ff99)"></i><i style="height:2px;background:linear-gradient(90deg,#00cbff,#00ceff,#00d3ff,#00d7ff,#00dcff,#00e1ff,#00e6ff,#00ebff,#00f0ff,#00f3ff,#00f7ff,#00f9ff,#00fcff,#00feff,#02fffd,#06fff9,#0cfff3,#12ffed,#19ffe6,#21ffde,#28ffd7,#2effd1,#33ffcc,#38ffc7,#3bffc4,#3dffc2,#3effc1,#3dffc2,#3cffc3,#3affc5,#38ffc7,#35ffca,#33ffcc,#32ffcd,#31ffce,#32ffcd,#34ffcb,#37ffc8,#3bffc4,#40ffbf,#45ffba,#4affb5,#4fffb0,#54ffab,#58ffa7,#5cffa3,#60ff9f,#63ff9c,#65ff9a,#67ff98,#68ff97)"></i><i style="height:2px;background:linear-gradient(90deg,#00c9ff,#00cdff,#00d2ff,#00d7ff,#00dcff,#00e2ff,#00e7ff,#00ecff,#00f1ff,#00f5ff,#00f9ff,#00fbff,#00fdff,#00ffff,#03fffc,#07fff8,#0cfff3,#13ffec,#1affe5,#21ffde,#29ffd6,#2fffd0,#35ffca,#3affc5,#3effc1,#40ffbf,#41ffbe,#41ffbe,#3fffc0,#3dffc2,#3bffc4,#39ffc6,#37ffc8,#36ffc9,#35ffca,#36ffc9,#38ffc7,#3bffc4,#3fffc0,#44ffbb,#48ffb7,#4dffb2,#52ffad,#57ffa8,#5bffa4,#5fffa0,#62ff9d,#65ff9a,#67ff98,#69ff96,#69ff96)"></i><i style="height:2px;background:linear-gradient(90deg,#00c8ff,#00ccff,#00d0ff,#00d6ff,#00dcff,#00e1ff,#00e7ff,#00edff,#00f2ff,#00f6ff,#00faff,#00fcff,#00feff,#01fffe,#03fffc,#07fff8,#0cfff3,#13ffec,#1bffe4,#22ffdd,#2affd5,#31ffce,#37ffc8,#3cffc3,#40ffbf,#43ffbc,#44ffbb,#44ffbb,#43ffbc,#41ffbe,#3fffc0,#3dffc2,#3bffc4,#3affc5,#3affc5,#3affc5,#3cffc3,#3fffc0,#43ffbc,#48ffb7,#4cffb3,#51ffae,#55ffaa,#5affa5,#5effa1,#62ff9d,#65ff9a,#67ff98,#69ff96,#6bff94,#6bff94)"></i><i style="height:2px;background:linear-gradient(90deg,#00c6ff,#00caff,#00cfff,#00d5ff,#00dbff,#00e1ff,#00e7ff,#00edff,#00f2ff,#00f7ff,#00faff,#00fdff,#00ffff,#02fffd,#04fffb,#08fff7,#0dfff2,#14ffeb,#1cffe3,#24ffdb,#2bffd4,#33ffcc,#39ffc6,#3fffc0,#43ffbc,#46ffb9,#47ffb8,#47ffb8,#46ffb9,#45ffba,#43ffbc,#41ffbe,#40ffbf,#3fffc0,#3effc1,#3fffc0,#41ffbe,#44ffbb,#48ffb7,#4cffb3,#50ffaf,#55ffaa,#59ffa6,#5dffa2,#61ff9e,#64ff9b,#67ff98,#6aff95,#6cff93,#6dff92,#6dff92)"></i><i style="height:2px;background:linear-gradient(90deg,#00c5ff,#00c9ff,#00ceff,#00d3ff,#00d9ff,#00e0ff,#00e6ff,#00ecff,#00f2ff,#00f7ff,#00fbff,#00fdff,#00ffff,#02fffd,#05fffa,#09fff6,#0efff1,#15ffea,#1dffe2,#25ffda,#2dffd2,#35ffca,#3bffc4,#41ffbe,#45ffba,#49ffb6,#4affb5,#4bffb4,#4affb5,#49ffb6,#47ffb8,#46ffb9,#44ffbb,#43ffbc,#43ffbc,#44ffbb,#46ffb9,#49ffb6,#4cffb3,#50ffaf,#55ffaa,#59ffa6,#5dffa2,#61ff9e,#64ff9b,#67ff98,#6aff95,#6dff92,#6eff91,#6fff90,#70ff8f)"></i><i style="height:2px;background:linear-gradient(90deg,#00c3ff,#00c7ff,#00ccff,#00d2ff,#00d8ff,#00dfff,#00e5ff,#00ebff,#00f1ff,#00f6ff,#00faff,#00fdff,#01fffe,#03fffc,#06fff9,#0afff5,#10ffef,#17ffe8,#1fffe0,#27ffd8,#2fffd0,#37ffc8,#3dffc2,#43ffbc,#48ffb7,#4cffb3,#4effb1,#4effb1,#4effb1,#4dffb2,#4cffb3,#4affb5,#49ffb6,#48ffb7,#48ffb7,#49ffb6,#4bffb4,#4effb1,#51ffae,#55ffaa,#59ffa6,#5dffa2,#61ff9e,#64ff9b,#68ff97,#6bff94,#6dff92,#6fff90,#71ff8e,#72ff8d,#73ff8c)"></i><i style="height:2px;background:linear-gradient(90deg,#00c2ff,#00c6ff,#00cbff,#00d0ff,#00d7ff,#00ddff,#00e4ff,#00eaff,#00f0ff,#00f6ff,#00faff,#00fdff,#01fffe,#04fffb,#07fff8,#0cfff3,#12ffed,#19ffe6,#21ffde,#29ffd6,#31ffce,#39ffc6,#40ffbf,#46ffb9,#4bffb4,#4fffb0,#51ffae,#52ffad,#52ffad,#51ffae,#50ffaf,#4fffb0,#4effb1,#4effb1,#4dffb2,#4effb1,#50ffaf,#53ffac,#56ffa9,#5affa5,#5effa1,#61ff9e,#65ff9a,#68ff97,#6bff94,#6eff91,#70ff8f,#72ff8d,#74ff8b,#75ff8a,#76ff89)"></i><i style="height:2px;background:linear-gradient(90deg,#00c1ff,#00c5ff,#00c9ff,#00cfff,#00d5ff,#00dcff,#00e2ff,#00e9ff,#00efff,#00f5ff,#00faff,#00feff,#02fffd,#05fffa,#09fff6,#0efff1,#14ffeb,#1bffe4,#23ffdc,#2bffd4,#34ffcb,#3bffc4,#43ffbc,#49ffb6,#4effb1,#52ffad,#55ffaa,#56ffa9,#56ffa9,#56ffa9,#55ffaa,#54ffab,#53ffac,#53ffac,#53ffac,#54ffab,#56ffa9,#58ffa7,#5bffa4,#5fffa0,#62ff9d,#66ff99,#69ff96,#6cff93,#6fff90,#72ff8d,#74ff8b,#76ff89,#77ff88,#78ff87,#79ff86)"></i><i style="height:2px;background:linear-gradient(90deg,#00c0ff,#00c4ff,#00c8ff,#00ceff,#00d4ff,#00daff,#00e1ff,#00e8ff,#00eeff,#00f4ff,#00f9ff,#00feff,#03fffc,#07fff8,#0bfff4,#10ffef,#17ffe8,#1effe1,#26ffd9,#2effd1,#36ffc9,#3effc1,#45ffba,#4cffb3,#51ffae,#55ffaa,#58ffa7,#5affa5,#5bffa4,#5bffa4,#5affa5,#5affa5,#59ffa6,#59ffa6,#59ffa6,#59ffa6,#5bffa4,#5effa1,#60ff9f,#64ff9b,#67ff98,#6aff95,#6dff92,#70ff8f,#73ff8c,#75ff8a,#77ff88,#79ff86,#7aff85,#7bff84,#7cff83)"></i><i style="height:2px;background:linear-gradient(90deg,#00c0ff,#00c3ff,#00c8ff,#00cdff,#00d3ff,#00d9ff,#00e0ff,#00e7ff,#00edff,#00f3ff,#00f9ff,#00feff,#04fffb,#08fff7,#0dfff2,#13ffec,#1affe5,#21ffde,#29ffd6,#31ffce,#39ffc6,#41ffbe,#48ffb7,#4fffb0,#55ffaa,#59ffa6,#5cffa3,#5effa1,#5fffa0,#5fffa0,#5fffa0,#5fffa0,#5effa1,#5effa1,#5effa1,#5fffa0,#61ff9e,#63ff9c,#66ff99,#69ff96,#6cff93,#6fff90,#72ff8d,#74ff8b,#77ff88,#79ff86,#7bff84,#7cff83,#7eff81,#7fff80,#7fff80)"></i><i style="height:2px;background:linear-gradient(90deg,#00bfff,#00c3ff,#00c7ff,#00ccff,#00d2ff,#00d8ff,#00dfff,#00e6ff,#00ecff,#00f3ff,#00f9ff,#00ffff,#05fffa,#0bfff4,#10ffef,#17ffe8,#1dffe2,#25ffda,#2dffd2,#35ffca,#3dffc2,#44ffbb,#4cffb3,#52ffad,#58ffa7,#5dffa2,#60ff9f,#62ff9d,#64ff9b,#64ff9b,#65ff9a,#64ff9b,#64ff9b,#64ff9b,#64ff9b,#65ff9a,#67ff98,#69ff96,#6bff94,#6eff91,#71ff8e,#73ff8c,#76ff89,#78ff87,#7aff85,#7cff83,#7eff81,#80ff7f,#81ff7e,#82ff7d,#83ff7c)"></i><i style="height:2px;background:linear-gradient(90deg,#00bfff,#00c3ff,#00c7ff,#00ccff,#00d2ff,#00d8ff,#00deff,#00e5ff,#00ecff,#00f3ff,#00f9ff,#01fffe,#07fff8,#0dfff2,#14ffeb,#1affe5,#22ffdd,#29ffd6,#31ffce,#39ffc6,#40ffbf,#48ffb7,#4fffb0,#56ffa9,#5cffa3,#61ff9e,#64ff9b,#67ff98,#68ff97,#69ff96,#6aff95,#6aff95,#6aff95,#6aff95,#6aff95,#6bff94,#6cff93,#6eff91,#71ff8e,#73ff8c,#76ff89,#78ff87,#7aff85,#7cff83,#7eff81,#80ff7f,#82ff7d,#83ff7c,#84ff7b,#85ff7a,#86ff79)"></i><i style="height:2px;background:linear-gradient(90deg,#00c0ff,#00c3ff,#00c8ff,#00ccff,#00d2ff,#00d8ff,#00deff,#00e5ff,#00ecff,#00f3ff,#00faff,#02fffd,#09fff6,#10ffef,#17ffe8,#1fffe0,#26ffd9,#2effd1,#35ffca,#3dffc2,#45ffba,#4cffb3,#53ffac,#5affa5,#60ff9f,#65ff9a,#69ff96,#6bff94,#6dff92,#6fff90,#6fff90,#70ff8f,#70ff8f,#70ff8f,#70ff8f,#71ff8e,#72ff8d,#74ff8b,#76ff89,#78ff87,#7bff84,#7dff82,#7fff80,#81ff7e,#82ff7d,#84ff7b,#85ff7a,#87ff78,#88ff77,#89ff76,#89ff76)"></i><i style="height:2px;background:linear-gradient(90deg,#00c1ff,#00c4ff,#00c8ff,#00cdff,#00d3ff,#00d9ff,#00dfff,#00e6ff,#00edff,#00f4ff,#00fcff,#05fffa,#0cfff3,#14ffeb,#1cffe3,#23ffdc,#2bffd4,#33ffcc,#3affc5,#42ffbd,#49ffb6,#51ffae,#58ffa7,#5effa1,#64ff9b,#69ff96,#6dff92,#70ff8f,#72ff8d,#74ff8b,#75ff8a,#75ff8a,#76ff89,#76ff89,#77ff88,#77ff88,#78ff87,#7aff85,#7cff83,#7eff81,#80ff7f,#81ff7e,#83ff7c,#85ff7a,#86ff79,#88ff77,#89ff76,#8aff75,#8bff74,#8cff73,#8dff72)"></i><i style="height:2px;background:linear-gradient(90deg,#00c3ff,#00c6ff,#00caff,#00cfff,#00d4ff,#00daff,#00e0ff,#00e7ff,#00efff,#00f6ff,#00feff,#08fff7,#10ffef,#18ffe7,#21ffde,#29ffd6,#31ffce,#38ffc7,#40ffbf,#47ffb8,#4effb1,#55ffaa,#5cffa3,#63ff9c,#69ff96,#6eff91,#72ff8d,#75ff8a,#77ff88,#79ff86,#7aff85,#7bff84,#7cff83,#7cff83,#7dff82,#7dff82,#7eff81,#80ff7f,#81ff7e,#83ff7c,#85ff7a,#86ff79,#88ff77,#89ff76,#8aff75,#8bff74,#8dff72,#8eff71,#8eff71,#8fff70,#90ff6f)"></i><i style="height:2px;background:linear-gradient(90deg,#00c5ff,#00c8ff,#00ccff,#00d1ff,#00d6ff,#00dcff,#00e2ff,#00e9ff,#00f1ff,#00f9ff,#03fffc,#0bfff4,#14ffeb,#1effe1,#26ffd9,#2fffd0,#37ffc8,#3effc1,#46ffb9,#4dffb2,#54ffab,#5affa5,#61ff9e,#68ff97,#6dff92,#72ff8d,#77ff88,#7aff85,#7cff83,#7eff81,#80ff7f,#81ff7e,#82ff7d,#82ff7d,#83ff7c,#84ff7b,#84ff7b,#86ff79,#87ff78,#88ff77,#89ff76,#8bff74,#8cff73,#8dff72,#8eff71,#8fff70,#90ff6f,#91ff6e,#92ff6d,#93ff6c,#93ff6c)"></i><i style="height:2px;background:linear-gradient(90deg,#00c8ff,#00cbff,#00cfff,#00d4ff,#00d9ff,#00dfff,#00e5ff,#00edff,#00f4ff,#00fdff,#07fff8,#10ffef,#1affe5,#23ffdc,#2dffd2,#36ffc9,#3effc1,#45ffba,#4cffb3,#53ffac,#59ffa6,#60ff9f,#67ff98,#6dff92,#73ff8c,#78ff87,#7cff83,#7fff80,#82ff7d,#84ff7b,#85ff7a,#87ff78,#87ff78,#88ff77,#89ff76,#8aff75,#8aff75,#8bff74,#8cff73,#8dff72,#8eff71,#8fff70,#90ff6f,#91ff6e,#92ff6d,#93ff6c,#94ff6b,#94ff6b,#95ff6a,#96ff69,#96ff69)"></i><i style="height:2px;background:linear-gradient(90deg,#00ccff,#00cfff,#00d3ff,#00d7ff,#00ddff,#00e3ff,#00eaff,#00f1ff,#00f9ff,#03fffc,#0cfff3,#16ffe9,#20ffdf,#2affd5,#34ffcb,#3dffc2,#45ffba,#4cffb3,#53ffac,#59ffa6,#60ff9f,#66ff99,#6cff93,#72ff8d,#78ff87,#7dff82,#81ff7e,#84ff7b,#87ff78,#89ff76,#8bff74,#8cff73,#8dff72,#8eff71,#8fff70,#90ff6f,#90ff6f,#91ff6e,#92ff6d,#92ff6d,#93ff6c,#94ff6b,#94ff6b,#95ff6a,#96ff69,#96ff69,#97ff68,#98ff67,#98ff67,#99ff66,#99ff66)"></i><i style="height:2px;background:linear-gradient(90deg,#00d0ff,#00d3ff,#00d7ff,#00dcff,#00e2ff,#00e8ff,#00efff,#00f7ff,#00ffff,#09fff6,#13ffec,#1dffe2,#27ffd8,#32ffcd,#3cffc3,#45ffba,#4dffb2,#54ffab,#5affa5,#61ff9e,#67ff98,#6dff92,#73ff8c,#78ff87,#7eff81,#82ff7d,#86ff79,#8aff75,#8cff73,#8eff71,#90ff6f,#92ff6d,#93ff6c,#94ff6b,#95ff6a,#96ff69,#96ff69,#97ff68,#97ff68,#98ff67,#98ff67,#98ff67,#99ff66,#99ff66,#99ff66,#9aff65,#9aff65,#9bff64,#9bff64,#9bff64,#9cff63)"></i><i style="height:2px;background:linear-gradient(90deg,#00d5ff,#00d9ff,#00ddff,#00e2ff,#00e8ff,#00eeff,#00f6ff,#00feff,#07fff8,#11ffee,#1bffe4,#25ffda,#30ffcf,#3affc5,#44ffbb,#4dffb2,#55ffaa,#5cffa3,#62ff9d,#68ff97,#6eff91,#74ff8b,#79ff86,#7fff80,#84ff7b,#88ff77,#8cff73,#8fff70,#92ff6d,#94ff6b,#96ff69,#97ff68,#99ff66,#9aff65,#9bff64,#9cff63,#9cff63,#9cff63,#9dff62,#9dff62,#9dff62,#9dff62,#9dff62,#9dff62,#9dff62,#9dff62,#9eff61,#9eff61,#9eff61,#9eff61,#9eff61)"></i><i style="height:2px;background:linear-gradient(90deg,#00dbff,#00dfff,#00e3ff,#00e9ff,#00efff,#00f6ff,#00feff,#07fff8,#10ffef,#1affe5,#24ffdb,#2fffd0,#3affc5,#44ffbb,#4effb1,#57ffa8,#5effa1,#65ff9a,#6bff94,#71ff8e,#76ff89,#7bff84,#81ff7e,#86ff79,#8aff75,#8fff70,#92ff6d,#95ff6a,#97ff68,#99ff66,#9bff64,#9dff62,#9eff61,#a0ff5f,#a1ff5e,#a2ff5d,#a2ff5d,#a2ff5d,#a2ff5d,#a1ff5e,#a1ff5e,#a1ff5e,#a1ff5e,#a1ff5e,#a1ff5e,#a1ff5e,#a1ff5e,#a1ff5e,#a0ff5f,#a0ff5f,#a0ff5f)"></i><i style="height:2px;background:linear-gradient(90deg,#00e2ff,#00e6ff,#00ebff,#00f0ff,#00f7ff,#00ffff,#08fff7,#11ffee,#1bffe4,#25ffda,#2fffd0,#3affc5,#44ffbb,#4fffb0,#58ffa7,#61ff9e,#68ff97,#6fff90,#74ff8b,#79ff86,#7eff81,#83ff7c,#88ff77,#8dff72,#91ff6e,#95ff6a,#98ff67,#9bff64,#9dff62,#9eff61,#a0ff5f,#a2ff5d,#a4ff5b,#a5ff5a,#a6ff59,#a7ff58,#a8ff57,#a7ff58,#a7ff58,#a6ff59,#a5ff5a,#a5ff5a,#a5ff5a,#a4ff5b,#a4ff5b,#a4ff5b,#a3ff5c,#a3ff5c,#a3ff5c,#a2ff5d,#a2ff5d)"></i><i style="height:2px;background:linear-gradient(90deg,#00eaff,#00eeff,#00f3ff,#00f9ff,#02fffd,#0afff5,#13ffec,#1cffe3,#26ffd9,#31ffce,#3bffc4,#46ffb9,#50ffaf,#5affa5,#63ff9c,#6bff94,#72ff8d,#78ff87,#7eff81,#82ff7d,#87ff78,#8cff73,#90ff6f,#95ff6a,#99ff66,#9cff63,#9eff61,#a0ff5f,#a2ff5d,#a4ff5b,#a5ff5a,#a7ff58,#a9ff56,#abff54,#acff53,#adff52,#adff52,#adff52,#acff53,#abff54,#aaff55,#a9ff56,#a8ff57,#a8ff57,#a7ff58,#a7ff58,#a6ff59,#a6ff59,#a5ff5a,#a4ff5b,#a3ff5c)"></i><i style="height:2px;background:linear-gradient(90deg,#00f2ff,#00f6ff,#00fcff,#04fffb,#0cfff3,#15ffea,#1effe1,#28ffd7,#33ffcc,#3effc1,#48ffb7,#53ffac,#5dffa2,#66ff99,#6fff90,#77ff88,#7dff82,#83ff7c,#87ff78,#8cff73,#90ff6f,#94ff6b,#98ff67,#9cff63,#a0ff5f,#a3ff5c,#a5ff5a,#a6ff59,#a8ff57,#a9ff56,#aaff55,#acff53,#aeff51,#b0ff4f,#b1ff4e,#b2ff4d,#b2ff4d,#b2ff4d,#b1ff4e,#afff50,#aeff51,#adff52,#acff53,#abff54,#aaff55,#aaff55,#a9ff56,#a8ff57,#a7ff58,#a6ff59,#a5ff5a)"></i><i style="height:2px;background:linear-gradient(90deg,#00fbff,#00ffff,#06fff9,#0efff1,#16ffe9,#20ffdf,#2affd5,#35ffca,#40ffbf,#4bffb4,#56ffa9,#60ff9f,#6aff95,#73ff8c,#7bff84,#82ff7d,#88ff77,#8dff72,#91ff6e,#95ff6a,#99ff66,#9dff62,#a1ff5e,#a4ff5b,#a7ff58,#a9ff56,#abff54,#acff53,#adff52,#aeff51,#afff50,#b1ff4e,#b3ff4c,#b5ff4a,#b7ff48,#b8ff47,#b8ff47,#b7ff48,#b6ff49,#b4ff4b,#b2ff4d,#b1ff4e,#afff50,#aeff51,#adff52,#acff53,#abff54,#aaff55,#a9ff56,#a7ff58,#a6ff59)"></i><i style="height:2px;background:linear-gradient(90deg,#05fffa,#0afff5,#10ffef,#18ffe7,#22ffdd,#2cffd3,#37ffc8,#42ffbd,#4effb1,#59ffa6,#64ff9b,#6eff91,#77ff88,#7fff80,#87ff78,#8dff72,#93ff6c,#97ff68,#9bff64,#9fff60,#a2ff5d,#a6ff59,#a9ff56,#acff53,#aeff51,#b0ff4f,#b1ff4e,#b2ff4d,#b2ff4d,#b3ff4c,#b4ff4b,#b6ff49,#b8ff47,#baff45,#bcff43,#bdff42,#bdff42,#bcff43,#baff45,#b8ff47,#b6ff49,#b5ff4a,#b3ff4c,#b2ff4d,#b0ff4f,#afff50,#adff52,#acff53,#aaff55,#a8ff57,#a6ff59)"></i><i style="height:2px;background:linear-gradient(90deg,#0efff1,#13ffec,#1affe5,#23ffdc,#2dffd2,#38ffc7,#44ffbb,#50ffaf,#5bffa4,#67ff98,#72ff8d,#7cff83,#84ff7b,#8cff73,#93ff6c,#99ff66,#9eff61,#a2ff5d,#a5ff5a,#a8ff57,#abff54,#aeff51,#b1ff4e,#b3ff4c,#b5ff4a,#b6ff49,#b7ff48,#b7ff48,#b7ff48,#b8ff47,#b9ff46,#bbff44,#bdff42,#bfff40,#c1ff3e,#c3ff3c,#c2ff3d,#c1ff3e,#bfff40,#bdff42,#bbff44,#b8ff47,#b6ff49,#b5ff4a,#b3ff4c,#b1ff4e,#afff50,#aeff51,#acff53,#a9ff56,#a7ff58)"></i><i style="height:2px;background:linear-gradient(90deg,#17ffe8,#1dffe2,#24ffdb,#2effd1,#38ffc7,#44ffbb,#50ffaf,#5dffa2,#69ff96,#75ff8a,#80ff7f,#89ff76,#91ff6e,#99ff66,#9fff60,#a4ff5b,#a8ff57,#acff53,#afff50,#b1ff4e,#b4ff4b,#b6ff49,#b8ff47,#baff45,#bcff43,#bcff43,#bdff42,#bcff43,#bcff43,#bdff42,#bdff42,#bfff40,#c2ff3d,#c5ff3a,#c7ff38,#c8ff37,#c8ff37,#c6ff39,#c4ff3b,#c1ff3e,#bfff40,#bcff43,#baff45,#b8ff47,#b5ff4a,#b3ff4c,#b1ff4e,#afff50,#adff52,#aaff55,#a7ff58)"></i><i style="height:2px;background:linear-gradient(90deg,#21ffde,#26ffd9,#2effd1,#38ffc7,#43ffbc,#50ffaf,#5cffa3,#69ff96,#76ff89,#82ff7d,#8dff72,#96ff69,#9eff61,#a5ff5a,#abff54,#afff50,#b3ff4c,#b6ff49,#b8ff47,#baff45,#bcff43,#beff41,#bfff40,#c1ff3e,#c2ff3d,#c2ff3d,#c2ff3d,#c1ff3e,#c1ff3e,#c1ff3e,#c2ff3d,#c4ff3b,#c7ff38,#caff35,#ccff33,#cdff32,#cdff32,#cbff34,#c9ff36,#c6ff39,#c3ff3c,#c0ff3f,#bdff42,#bbff44,#b8ff47,#b5ff4a,#b3ff4c,#b0ff4f,#adff52,#aaff55,#a7ff58)"></i><i style="height:2px;background:linear-gradient(90deg,#29ffd6,#30ffcf,#38ffc7,#42ffbd,#4effb1,#5bffa4,#68ff97,#75ff8a,#82ff7d,#8eff71,#99ff66,#a2ff5d,#aaff55,#b1ff4e,#b6ff49,#baff45,#bdff42,#bfff40,#c1ff3e,#c3ff3c,#c4ff3b,#c5ff3a,#c6ff39,#c7ff38,#c7ff38,#c7ff38,#c6ff39,#c6ff39,#c5ff3a,#c6ff39,#c7ff38,#c9ff36,#ccff33,#cfff30,#d1ff2e,#d2ff2d,#d2ff2d,#d1ff2e,#ceff31,#cbff34,#c7ff38,#c4ff3b,#c1ff3e,#bdff42,#baff45,#b7ff48,#b4ff4b,#b1ff4e,#aeff51,#aaff55,#a7ff58)"></i><i style="height:2px;background:linear-gradient(90deg,#32ffcd,#39ffc6,#41ffbe,#4cffb3,#58ffa7,#65ff9a,#73ff8c,#80ff7f,#8dff72,#99ff66,#a4ff5b,#aeff51,#b5ff4a,#bbff44,#c0ff3f,#c4ff3b,#c7ff38,#c8ff37,#caff35,#caff35,#cbff34,#cbff34,#ccff33,#ccff33,#ccff33,#cbff34,#cbff34,#caff35,#caff35,#caff35,#cbff34,#ceff31,#d1ff2e,#d4ff2b,#d6ff29,#d8ff27,#d7ff28,#d6ff29,#d3ff2c,#cfff30,#cbff34,#c8ff37,#c4ff3b,#c0ff3f,#bdff42,#b9ff46,#b5ff4a,#b2ff4d,#aeff51,#aaff55,#a6ff59)"></i><i style="height:2px;background:linear-gradient(90deg,#3affc5,#41ffbe,#4affb5,#55ffaa,#62ff9d,#6fff90,#7cff83,#8aff75,#97ff68,#a3ff5c,#aeff51,#b8ff47,#bfff40,#c5ff3a,#caff35,#cdff32,#d0ff2f,#d1ff2e,#d1ff2e,#d1ff2e,#d1ff2e,#d1ff2e,#d0ff2f,#d0ff2f,#cfff30,#cfff30,#ceff31,#ceff31,#cdff32,#ceff31,#d0ff2f,#d2ff2d,#d6ff29,#d9ff26,#dcff23,#ddff22,#ddff22,#dbff24,#d8ff27,#d4ff2b,#d0ff2f,#cbff34,#c7ff38,#c3ff3c,#bfff40,#baff45,#b6ff49,#b2ff4d,#aeff51,#aaff55,#a6ff59)"></i><i style="height:2px;background:linear-gradient(90deg,#42ffbd,#49ffb6,#52ffad,#5effa1,#6aff95,#77ff88,#85ff7a,#92ff6d,#a0ff5f,#acff53,#b7ff48,#c0ff3f,#c8ff37,#ceff31,#d3ff2c,#d6ff29,#d8ff27,#d8ff27,#d8ff27,#d7ff28,#d6ff29,#d5ff2a,#d4ff2b,#d3ff2c,#d3ff2c,#d2ff2d,#d1ff2e,#d1ff2e,#d1ff2e,#d2ff2d,#d4ff2b,#d7ff28,#daff25,#deff21,#e1ff1e,#e2ff1d,#e2ff1d,#e0ff1f,#ddff22,#d9ff26,#d4ff2b,#cfff30,#caff35,#c5ff3a,#c1ff3e,#bcff43,#b7ff48,#b2ff4d,#adff52,#a9ff56,#a5ff5a)"></i><i style="height:2px;background:linear-gradient(90deg,#49ffb6,#50ffaf,#5affa5,#65ff9a,#72ff8d,#7fff80,#8cff73,#9aff65,#a7ff58,#b3ff4c,#beff41,#c8ff37,#d0ff2f,#d6ff29,#dbff24,#deff21,#dfff20,#dfff20,#deff21,#ddff22,#dbff24,#d9ff26,#d7ff28,#d6ff29,#d5ff2a,#d4ff2b,#d4ff2b,#d4ff2b,#d4ff2b,#d6ff29,#d8ff27,#dbff24,#dfff20,#e3ff1c,#e6ff19,#e7ff18,#e7ff18,#e5ff1a,#e2ff1d,#ddff22,#d8ff27,#d3ff2c,#ceff31,#c8ff37,#c2ff3d,#bdff42,#b7ff48,#b2ff4d,#adff52,#a8ff57,#a4ff5b)"></i><i style="height:2px;background:linear-gradient(90deg,#4fffb0,#57ffa8,#61ff9e,#6cff93,#79ff86,#86ff79,#93ff6c,#a0ff5f,#adff52,#b9ff46,#c4ff3b,#ceff31,#d6ff29,#ddff22,#e2ff1d,#e5ff1a,#e6ff19,#e5ff1a,#e4ff1b,#e1ff1e,#dfff20,#dcff23,#daff25,#d8ff27,#d7ff28,#d6ff29,#d5ff2a,#d6ff29,#d7ff28,#d9ff26,#dcff23,#e0ff1f,#e4ff1b,#e7ff18,#eaff15,#ecff13,#ecff13,#eaff15,#e6ff19,#e2ff1d,#dcff23,#d6ff29,#d0ff2f,#caff35,#c4ff3b,#bdff42,#b7ff48,#b1ff4e,#acff53,#a7ff58,#a3ff5c)"></i><i style="height:2px;background:linear-gradient(90deg,#55ffaa,#5effa1,#68ff97,#73ff8c,#7fff80,#8cff73,#98ff67,#a5ff5a,#b2ff4d,#beff41,#c9ff36,#d3ff2c,#dcff23,#e3ff1c,#e8ff17,#ebff14,#ecff13,#ebff14,#e8ff17,#e5ff1a,#e2ff1d,#dfff20,#dcff23,#d9ff26,#d8ff27,#d7ff28,#d7ff28,#d8ff27,#daff25,#dcff23,#e0ff1f,#e3ff1c,#e8ff17,#ecff13,#efff10,#f0ff0f,#f0ff0f,#eeff11,#eaff15,#e5ff1a,#e0ff1f,#daff25,#d3ff2c,#ccff33,#c5ff3a,#beff41,#b7ff48,#b1ff4e,#abff54,#a6ff59,#a2ff5d)"></i><i style="height:2px;background:linear-gradient(90deg,#5affa5,#64ff9b,#6eff91,#79ff86,#84ff7b,#91ff6e,#9dff62,#aaff55,#b6ff49,#c2ff3d,#cdff32,#d7ff28,#e0ff1f,#e8ff17,#edff12,#f0ff0f,#f1ff0e,#efff10,#ecff13,#e8ff17,#e4ff1b,#e0ff1f,#ddff22,#daff25,#d8ff27,#d8ff27,#d8ff27,#daff25,#dcff23,#dfff20,#e3ff1c,#e7ff18,#ebff14,#efff10,#f2ff0d,#f4ff0b,#f3ff0c,#f1ff0e,#eeff11,#e9ff16,#e3ff1c,#dcff23,#d5ff2a,#cdff32,#c6ff39,#beff41,#b6ff49,#b0ff4f,#a9ff56,#a4ff5b,#a0ff5f)"></i><i style="height:2px;background:linear-gradient(90deg,#5fffa0,#69ff96,#73ff8c,#7eff81,#89ff76,#95ff6a,#a1ff5e,#adff52,#b9ff46,#c5ff3a,#d0ff2f,#daff25,#e4ff1b,#ebff14,#f1ff0e,#f4ff0b,#f4ff0b,#f2ff0d,#efff10,#eaff15,#e6ff19,#e1ff1e,#deff21,#dbff24,#d9ff26,#d8ff27,#d9ff26,#dbff24,#deff21,#e1ff1e,#e6ff19,#eaff15,#efff10,#f2ff0d,#f5ff0a,#f6ff09,#f6ff09,#f4ff0b,#f0ff0f,#ebff14,#e5ff1a,#deff21,#d6ff29,#ceff31,#c6ff39,#beff41,#b6ff49,#afff50,#a8ff57,#a3ff5c,#9fff60)"></i><i style="height:2px;background:linear-gradient(90deg,#64ff9b,#6eff91,#78ff87,#83ff7c,#8eff71,#99ff66,#a4ff5b,#b0ff4f,#bbff44,#c7ff38,#d2ff2d,#dcff23,#e6ff19,#eeff11,#f4ff0b,#f7ff08,#f7ff08,#f5ff0a,#f1ff0e,#ecff13,#e6ff19,#e2ff1d,#deff21,#dbff24,#d9ff26,#d9ff26,#daff25,#dcff23,#dfff20,#e4ff1b,#e8ff17,#edff12,#f1ff0e,#f5ff0a,#f7ff08,#f9ff06,#f8ff07,#f6ff09,#f2ff0d,#edff12,#e7ff18,#dfff20,#d7ff28,#cfff30,#c6ff39,#bdff42,#b5ff4a,#adff52,#a7ff58,#a1ff5e,#9dff62)"></i><i style="height:2px;background:linear-gradient(90deg,#68ff97,#72ff8d,#7cff83,#87ff78,#91ff6e,#9cff63,#a7ff58,#b2ff4d,#bdff42,#c8ff37,#d3ff2c,#ddff22,#e7ff18,#efff10,#f6ff09,#f9ff06,#f9ff06,#f6ff09,#f2ff0d,#ecff13,#e7ff18,#e2ff1d,#deff21,#dbff24,#d9ff26,#d9ff26,#daff25,#ddff22,#e1ff1e,#e5ff1a,#eaff15,#efff10,#f3ff0c,#f6ff09,#f9ff06,#faff05,#f9ff06,#f7ff08,#f3ff0c,#eeff11,#e7ff18,#e0ff1f,#d7ff28,#ceff31,#c5ff3a,#bcff43,#b4ff4b,#acff53,#a5ff5a,#a0ff5f,#9cff63)"></i><i style="height:2px;background:linear-gradient(90deg,#6bff94,#75ff8a,#80ff7f,#8aff75,#94ff6b,#9fff60,#a9ff56,#b3ff4c,#beff41,#c9ff36,#d3ff2c,#deff21,#e7ff18,#f0ff0f,#f6ff09,#f9ff06,#f9ff06,#f6ff09,#f2ff0d,#ecff13,#e6ff19,#e1ff1e,#ddff22,#daff25,#d9ff26,#d9ff26,#daff25,#deff21,#e2ff1d,#e6ff19,#ebff14,#f0ff0f,#f4ff0b,#f7ff08,#f9ff06,#f9ff06,#f9ff06,#f6ff09,#f3ff0c,#edff12,#e7ff18,#dfff20,#d7ff28,#ceff31,#c4ff3b,#bbff44,#b2ff4d,#aaff55,#a3ff5c,#9eff61,#9aff65)"></i><i style="height:2px;background:linear-gradient(90deg,#6eff91,#78ff87,#83ff7c,#8dff72,#97ff68,#a1ff5e,#abff54,#b4ff4b,#beff41,#c9ff36,#d3ff2c,#ddff22,#e7ff18,#efff10,#f5ff0a,#f8ff07,#f8ff07,#f5ff0a,#f0ff0f,#ebff14,#e5ff1a,#e0ff1f,#dcff23,#daff25,#d8ff27,#d9ff26,#dbff24,#deff21,#e3ff1c,#e7ff18,#ecff13,#f0ff0f,#f4ff0b,#f6ff09,#f8ff07,#f8ff07,#f7ff08,#f5ff0a,#f1ff0e,#ecff13,#e5ff1a,#deff21,#d5ff2a,#ccff33,#c2ff3d,#b9ff46,#b0ff4f,#a8ff57,#a1ff5e,#9cff63,#99ff66)"></i><i style="height:2px;background:linear-gradient(90deg,#71ff8e,#7bff84,#85ff7a,#8fff70,#99ff66,#a2ff5d,#acff53,#b5ff4a,#bfff40,#c8ff37,#d2ff2d,#dcff23,#e5ff1a,#edff12,#f3ff0c,#f6ff09,#f6ff09,#f3ff0c,#eeff11,#e9ff16,#e3ff1c,#dfff20,#dbff24,#d9ff26,#d8ff27,#d9ff26,#dbff24,#dfff20,#e3ff1c,#e8ff17,#ecff13,#f0ff0f,#f3ff0c,#f5ff0a,#f6ff09,#f6ff09,#f4ff0b,#f2ff0d,#eeff11,#e9ff16,#e3ff1c,#dbff24,#d3ff2c,#caff35,#c0ff3f,#b7ff48,#aeff51,#a6ff59,#a0ff5f,#9bff64,#97ff68)"></i><i style="height:2px;background:linear-gradient(90deg,#72ff8d,#7dff82,#87ff78,#91ff6e,#9aff65,#a3ff5c,#acff53,#b5ff4a,#beff41,#c7ff38,#d1ff2e,#daff25,#e3ff1c,#eaff15,#f0ff0f,#f3ff0c,#f3ff0c,#f0ff0f,#ebff14,#e6ff19,#e1ff1e,#ddff22,#daff25,#d8ff27,#d8ff27,#d9ff26,#dcff23,#dfff20,#e3ff1c,#e7ff18,#ebff14,#eeff11,#f1ff0e,#f2ff0d,#f3ff0c,#f2ff0d,#f0ff0f,#eeff11,#eaff15,#e5ff1a,#dfff20,#d8ff27,#cfff30,#c6ff39,#bdff42,#b4ff4b,#acff53,#a4ff5b,#9eff61,#99ff66,#96ff69)"></i><i style="height:2px;background:linear-gradient(90deg,#74ff8b,#7fff80,#89ff76,#92ff6d,#9bff64,#a4ff5b,#adff52,#b5ff4a,#beff41,#c6ff39,#cfff30,#d8ff27,#e0ff1f,#e7ff18,#ecff13,#efff10,#efff10,#ecff13,#e8ff17,#e3ff1c,#dfff20,#dbff24,#d9ff26,#d8ff27,#d8ff27,#d9ff26,#dcff23,#dfff20,#e3ff1c,#e7ff18,#eaff15,#edff12,#eeff11,#efff10,#efff10,#eeff11,#ecff13,#e9ff16,#e5ff1a,#e0ff1f,#daff25,#d3ff2c,#cbff34,#c3ff3c,#baff45,#b2ff4d,#a9ff56,#a2ff5d,#9cff63,#97ff68,#94ff6b)"></i><i style="height:2px;background:linear-gradient(90deg,#75ff8a,#80ff7f,#89ff76,#93ff6c,#9cff63,#a4ff5b,#adff52,#b5ff4a,#bdff42,#c5ff3a,#cdff32,#d5ff2a,#ddff22,#e3ff1c,#e8ff17,#eaff15,#eaff15,#e7ff18,#e4ff1b,#e0ff1f,#dcff23,#d9ff26,#d8ff27,#d7ff28,#d8ff27,#d9ff26,#dcff23,#dfff20,#e3ff1c,#e6ff19,#e9ff16,#eaff15,#ebff14,#ebff14,#eaff15,#e8ff17,#e6ff19,#e3ff1c,#dfff20,#dbff24,#d5ff2a,#ceff31,#c7ff38,#bfff40,#b7ff48,#afff50,#a7ff58,#a0ff5f,#9aff65,#95ff6a,#92ff6d)"></i><i style="height:2px;background:linear-gradient(90deg,#76ff89,#80ff7f,#8aff75,#93ff6c,#9cff63,#a4ff5b,#acff53,#b4ff4b,#bcff43,#c3ff3c,#caff35,#d2ff2d,#d9ff26,#dfff20,#e3ff1c,#e5ff1a,#e5ff1a,#e3ff1c,#dfff20,#dcff23,#d9ff26,#d7ff28,#d6ff29,#d7ff28,#d8ff27,#daff25,#dcff23,#dfff20,#e2ff1d,#e5ff1a,#e7ff18,#e8ff17,#e7ff18,#e7ff18,#e5ff1a,#e3ff1c,#e0ff1f,#ddff22,#d9ff26,#d5ff2a,#d0ff2f,#c9ff36,#c2ff3d,#bbff44,#b3ff4c,#abff54,#a4ff5b,#9dff62,#98ff67,#93ff6c,#90ff6f)"></i><i style="height:2px;background:linear-gradient(90deg,#76ff89,#80ff7f,#8aff75,#93ff6c,#9cff63,#a4ff5b,#acff53,#b3ff4c,#baff45,#c1ff3e,#c8ff37,#cfff30,#d5ff2a,#daff25,#deff21,#e0ff1f,#e0ff1f,#deff21,#dbff24,#d8ff27,#d6ff29,#d5ff2a,#d5ff2a,#d6ff29,#d8ff27,#daff25,#dcff23,#dfff20,#e1ff1e,#e3ff1c,#e4ff1b,#e4ff1b,#e4ff1b,#e2ff1d,#e0ff1f,#ddff22,#daff25,#d7ff28,#d3ff2c,#cfff30,#caff35,#c4ff3b,#bdff42,#b6ff49,#afff50,#a8ff57,#a1ff5e,#9bff64,#95ff6a,#91ff6e,#8eff71)"></i><i style="height:2px;background:linear-gradient(90deg,#76ff89,#80ff7f,#8aff75,#93ff6c,#9bff64,#a3ff5c,#abff54,#b2ff4d,#b9ff46,#c0ff3f,#c6ff39,#ccff33,#d1ff2e,#d6ff29,#d9ff26,#dbff24,#daff25,#d9ff26,#d7ff28,#d5ff2a,#d3ff2c,#d3ff2c,#d4ff2b,#d5ff2a,#d7ff28,#daff25,#dcff23,#deff21,#e0ff1f,#e2ff1d,#e2ff1d,#e1ff1e,#dfff20,#ddff22,#daff25,#d7ff28,#d4ff2b,#d0ff2f,#cdff32,#c9ff36,#c4ff3b,#beff41,#b8ff47,#b2ff4d,#abff54,#a4ff5b,#9eff61,#98ff67,#93ff6c,#8fff70,#8bff74)"></i><i style="height:2px;background:linear-gradient(90deg,#76ff89,#80ff7f,#89ff76,#92ff6d,#9bff64,#a3ff5c,#aaff55,#b1ff4e,#b8ff47,#beff41,#c4ff3b,#c9ff36,#ceff31,#d1ff2e,#d4ff2b,#d5ff2a,#d5ff2a,#d4ff2b,#d3ff2c,#d1ff2e,#d1ff2e,#d1ff2e,#d2ff2d,#d5ff2a,#d7ff28,#daff25,#dcff23,#deff21,#dfff20,#e0ff1f,#dfff20,#deff21,#dbff24,#d8ff27,#d5ff2a,#d1ff2e,#ceff31,#caff35,#c7ff38,#c3ff3c,#beff41,#b9ff46,#b3ff4c,#adff52,#a7ff58,#a1ff5e,#9bff64,#95ff6a,#90ff6f,#8cff73,#88ff77)"></i><i style="height:2px;background:linear-gradient(90deg,#75ff8a,#7fff80,#88ff77,#91ff6e,#9aff65,#a2ff5d,#a9ff56,#b0ff4f,#b6ff49,#bcff43,#c2ff3d,#c6ff39,#caff35,#ceff31,#d0ff2f,#d1ff2e,#d1ff2e,#d0ff2f,#cfff30,#ceff31,#ceff31,#cfff30,#d1ff2e,#d4ff2b,#d7ff28,#d9ff26,#dbff24,#ddff22,#deff21,#deff21,#dcff23,#daff25,#d7ff28,#d4ff2b,#d0ff2f,#ccff33,#c8ff37,#c5ff3a,#c1ff3e,#bdff42,#b9ff46,#b4ff4b,#afff50,#a9ff56,#a3ff5c,#9eff61,#98ff67,#93ff6c,#8dff72,#89ff76,#85ff7a)"></i><i style="height:2px;background:linear-gradient(90deg,#74ff8b,#7eff81,#87ff78,#90ff6f,#98ff67,#a0ff5f,#a8ff57,#afff50,#b5ff4a,#bbff44,#c0ff3f,#c4ff3b,#c8ff37,#caff35,#ccff33,#cdff32,#cdff32,#cdff32,#ccff33,#ccff33,#ccff33,#ceff31,#d1ff2e,#d3ff2c,#d6ff29,#d9ff26,#dbff24,#dcff23,#dcff23,#dbff24,#daff25,#d7ff28,#d3ff2c,#cfff30,#cbff34,#c7ff38,#c3ff3c,#c0ff3f,#bcff43,#b8ff47,#b4ff4b,#b0ff4f,#abff54,#a5ff5a,#a0ff5f,#9aff65,#95ff6a,#90ff6f,#8aff75,#86ff79,#81ff7e)"></i><i style="height:2px;background:linear-gradient(90deg,#73ff8c,#7cff83,#85ff7a,#8eff71,#97ff68,#9fff60,#a7ff58,#aeff51,#b4ff4b,#baff45,#bfff40,#c3ff3c,#c6ff39,#c8ff37,#c9ff36,#caff35,#caff35,#caff35,#caff35,#caff35,#cbff34,#cdff32,#d0ff2f,#d3ff2c,#d6ff29,#d8ff27,#daff25,#dbff24,#daff25,#d9ff26,#d7ff28,#d4ff2b,#d0ff2f,#ccff33,#c7ff38,#c3ff3c,#bfff40,#bbff44,#b8ff47,#b4ff4b,#b0ff4f,#acff53,#a7ff58,#a2ff5d,#9dff62,#97ff68,#92ff6d,#8cff73,#87ff78,#82ff7d,#7dff82)"></i><i style="height:2px;background:linear-gradient(90deg,#72ff8d,#7bff84,#84ff7b,#8dff72,#95ff6a,#9eff61,#a6ff59,#adff52,#b3ff4c,#b9ff46,#beff41,#c1ff3e,#c4ff3b,#c6ff39,#c7ff38,#c8ff37,#c8ff37,#c8ff37,#c8ff37,#c9ff36,#caff35,#cdff32,#cfff30,#d3ff2c,#d5ff2a,#d7ff28,#d9ff26,#d9ff26,#d8ff27,#d7ff28,#d4ff2b,#d1ff2e,#cdff32,#c9ff36,#c4ff3b,#c0ff3f,#bcff43,#b8ff47,#b4ff4b,#b1ff4e,#adff52,#a9ff56,#a4ff5b,#9fff60,#9aff65,#94ff6b,#8fff70,#89ff76,#84ff7b,#7eff81,#78ff87)"></i><i style="height:2px;background:linear-gradient(90deg,#70ff8f,#79ff86,#82ff7d,#8bff74,#94ff6b,#9cff63,#a4ff5b,#acff53,#b3ff4c,#b8ff47,#bdff42,#c1ff3e,#c3ff3c,#c5ff3a,#c6ff39,#c7ff38,#c7ff38,#c7ff38,#c8ff37,#c9ff36,#caff35,#ccff33,#cfff30,#d2ff2d,#d5ff2a,#d7ff28,#d7ff28,#d7ff28,#d6ff29,#d4ff2b,#d2ff2d,#ceff31,#caff35,#c6ff39,#c1ff3e,#bdff42,#b9ff46,#b6ff49,#b2ff4d,#aeff51,#aaff55,#a6ff59,#a1ff5e,#9cff63,#97ff68,#92ff6d,#8cff73,#86ff79,#80ff7f,#7aff85,#73ff8c)"></i><i style="height:2px;background:linear-gradient(90deg,#6eff91,#77ff88,#80ff7f,#89ff76,#92ff6d,#9bff64,#a3ff5c,#abff54,#b2ff4d,#b8ff47,#bdff42,#c0ff3f,#c3ff3c,#c4ff3b,#c5ff3a,#c6ff39,#c6ff39,#c7ff38,#c7ff38,#c9ff36,#caff35,#ccff33,#cfff30,#d2ff2d,#d4ff2b,#d5ff2a,#d6ff29,#d5ff2a,#d4ff2b,#d2ff2d,#cfff30,#ccff33,#c8ff37,#c4ff3b,#bfff40,#bbff44,#b7ff48,#b4ff4b,#b0ff4f,#acff53,#a8ff57,#a4ff5b,#9fff60,#9aff65,#95ff6a,#8fff70,#89ff76,#83ff7c,#7cff83,#75ff8a,#6eff91)"></i><i style="height:2px;background:linear-gradient(90deg,#6cff93,#75ff8a,#7dff82,#87ff78,#90ff6f,#99ff66,#a2ff5d,#aaff55,#b1ff4e,#b8ff47,#bdff42,#c0ff3f,#c3ff3c,#c4ff3b,#c5ff3a,#c6ff39,#c6ff39,#c7ff38,#c8ff37,#c9ff36,#caff35,#cdff32,#cfff30,#d1ff2e,#d3ff2c,#d4ff2b,#d4ff2b,#d4ff2b,#d2ff2d,#d0ff2f,#cdff32,#c9ff36,#c5ff3a,#c1ff3e,#bdff42,#baff45,#b6ff49,#b2ff4d,#aeff51,#abff54,#a7ff58,#a2ff5d,#9dff62,#98ff67,#93ff6c,#8dff72,#86ff79,#80ff7f,#79ff86,#71ff8e,#69ff96)"></i><i style="height:2px;background:linear-gradient(90deg,#6aff95,#72ff8d,#7bff84,#84ff7b,#8eff71,#97ff68,#a0ff5f,#a9ff56,#b1ff4e,#b7ff48,#bcff43,#c0ff3f,#c3ff3c,#c4ff3b,#c5ff3a,#c6ff39,#c6ff39,#c7ff38,#c8ff37,#c9ff36,#cbff34,#cdff32,#cfff30,#d1ff2e,#d2ff2d,#d3ff2c,#d3ff2c,#d2ff2d,#d0ff2f,#cdff32,#caff35,#c7ff38,#c3ff3c,#c0ff3f,#bcff43,#b8ff47,#b5ff4a,#b1ff4e,#adff52,#a9ff56,#a5ff5a,#a1ff5e,#9cff63,#97ff68,#91ff6e,#8bff74,#84ff7b,#7dff82,#75ff8a,#6dff92,#64ff9b)"></i><i style="height:2px;background:linear-gradient(90deg,#68ff97,#70ff8f,#79ff86,#82ff7d,#8cff73,#95ff6a,#9fff60,#a8ff57,#b0ff4f,#b7ff48,#bcff43,#c0ff3f,#c3ff3c,#c4ff3b,#c5ff3a,#c6ff39,#c7ff38,#c8ff37,#c9ff36,#caff35,#cbff34,#cdff32,#cfff30,#d0ff2f,#d1ff2e,#d2ff2d,#d1ff2e,#cfff30,#cdff32,#cbff34,#c8ff37,#c5ff3a,#c1ff3e,#beff41,#bbff44,#b7ff48,#b4ff4b,#b0ff4f,#acff53,#a8ff57,#a4ff5b,#a0ff5f,#9aff65,#95ff6a,#8fff70,#88ff77,#81ff7e,#79ff86,#71ff8e,#68ff97,#5effa1)"></i><i style="height:2px;background:linear-gradient(90deg,#66ff99,#6eff91,#76ff89,#7fff80,#89ff76,#93ff6c,#9dff62,#a6ff59,#afff50,#b6ff49,#bcff43,#c0ff3f,#c3ff3c,#c4ff3b,#c5ff3a,#c6ff39,#c7ff38,#c8ff37,#c9ff36,#caff35,#ccff33,#cdff32,#cfff30,#d0ff2f,#d0ff2f,#d0ff2f,#cfff30,#cdff32,#cbff34,#c8ff37,#c6ff39,#c3ff3c,#c0ff3f,#bcff43,#b9ff46,#b6ff49,#b3ff4c,#afff50,#abff54,#a7ff58,#a3ff5c,#9eff61,#99ff66,#93ff6c,#8dff72,#86ff79,#7fff80,#76ff89,#6eff91,#64ff9b,#5affa5)"></i><i style="height:2px;background:linear-gradient(90deg,#64ff9b,#6bff94,#74ff8b,#7dff82,#87ff78,#91ff6e,#9bff64,#a5ff5a,#aeff51,#b5ff4a,#bbff44,#c0ff3f,#c2ff3d,#c4ff3b,#c5ff3a,#c6ff39,#c7ff38,#c8ff37,#caff35,#cbff34,#ccff33,#cdff32,#ceff31,#cfff30,#cfff30,#cfff30,#cdff32,#cbff34,#c9ff36,#c6ff39,#c3ff3c,#c1ff3e,#beff41,#bbff44,#b8ff47,#b5ff4a,#b2ff4d,#aeff51,#abff54,#a7ff58,#a2ff5d,#9dff62,#98ff67,#92ff6d,#8bff74,#84ff7b,#7cff83,#74ff8b,#6aff95,#60ff9f,#55ffaa)"></i><i style="height:2px;background:linear-gradient(90deg,#62ff9d,#69ff96,#71ff8e,#7bff84,#85ff7a,#8fff70,#99ff66,#a3ff5c,#acff53,#b4ff4b,#baff45,#bfff40,#c2ff3d,#c4ff3b,#c5ff3a,#c6ff39,#c7ff38,#c8ff37,#caff35,#cbff34,#ccff33,#cdff32,#ceff31,#ceff31,#ceff31,#cdff32,#ccff33,#c9ff36,#c7ff38,#c4ff3b,#c1ff3e,#beff41,#bcff43,#b9ff46,#b7ff48,#b4ff4b,#b1ff4e,#adff52,#aaff55,#a5ff5a,#a1ff5e,#9cff63,#96ff69,#90ff6f,#89ff76,#82ff7d,#7aff85,#71ff8e,#67ff98,#5cffa3,#51ffae)"></i><i style="height:2px;background:linear-gradient(90deg,#60ff9f,#67ff98,#6fff90,#78ff87,#82ff7d,#8dff72,#97ff68,#a1ff5e,#abff54,#b3ff4c,#b9ff46,#beff41,#c1ff3e,#c3ff3c,#c4ff3b,#c6ff39,#c7ff38,#c8ff37,#caff35,#cbff34,#ccff33,#cdff32,#cdff32,#cdff32,#cdff32,#ccff33,#caff35,#c8ff37,#c5ff3a,#c2ff3d,#bfff40,#bcff43,#baff45,#b8ff47,#b5ff4a,#b2ff4d,#afff50,#acff53,#a8ff57,#a4ff5b,#9fff60,#9aff65,#95ff6a,#8eff71,#87ff78,#80ff7f,#78ff87,#6eff91,#64ff9b,#59ffa6,#4dffb2)"></i><i style="height:2px;background:linear-gradient(90deg,#5effa1,#64ff9b,#6dff92,#76ff89,#80ff7f,#8bff74,#95ff6a,#9fff60,#a8ff57,#b1ff4e,#b7ff48,#bcff43,#bfff40,#c2ff3d,#c3ff3c,#c5ff3a,#c6ff39,#c7ff38,#c9ff36,#caff35,#cbff34,#ccff33,#cdff32,#ccff33,#ccff33,#caff35,#c8ff37,#c6ff39,#c3ff3c,#c0ff3f,#bdff42,#baff45,#b8ff47,#b6ff49,#b3ff4c,#b1ff4e,#aeff51,#aaff55,#a7ff58,#a2ff5d,#9eff61,#99ff66,#93ff6c,#8dff72,#86ff79,#7eff81,#75ff8a,#6cff93,#62ff9d,#57ffa8,#4affb5)"></i><i style="height:2px;background:linear-gradient(90deg,#5cffa3,#62ff9d,#6aff95,#74ff8b,#7eff81,#88ff77,#93ff6c,#9dff62,#a6ff59,#aeff51,#b5ff4a,#baff45,#beff41,#c0ff3f,#c2ff3d,#c3ff3c,#c5ff3a,#c6ff39,#c8ff37,#c9ff36,#caff35,#cbff34,#ccff33,#cbff34,#cbff34,#c9ff36,#c7ff38,#c4ff3b,#c1ff3e,#beff41,#bbff44,#b8ff47,#b6ff49,#b4ff4b,#b1ff4e,#afff50,#acff53,#a8ff57,#a5ff5a,#a0ff5f,#9cff63,#97ff68,#91ff6e,#8aff75,#83ff7c,#7cff83,#73ff8c,#6aff95,#60ff9f,#54ffab,#48ffb7)"></i><i style="height:2px;background:linear-gradient(90deg,#5affa5,#60ff9f,#68ff97,#71ff8e,#7bff84,#86ff79,#90ff6f,#9aff65,#a4ff5b,#acff53,#b3ff4c,#b8ff47,#bbff44,#beff41,#c0ff3f,#c1ff3e,#c3ff3c,#c5ff3a,#c6ff39,#c8ff37,#c9ff36,#caff35,#caff35,#caff35,#c9ff36,#c8ff37,#c6ff39,#c3ff3c,#bfff40,#bcff43,#b9ff46,#b6ff49,#b4ff4b,#b1ff4e,#afff50,#acff53,#a9ff56,#a6ff59,#a2ff5d,#9eff61,#99ff66,#94ff6b,#8fff70,#88ff77,#81ff7e,#7aff85,#71ff8e,#68ff97,#5effa1,#53ffac,#46ffb9)"></i><i style="height:2px;background:linear-gradient(90deg,#58ffa7,#5effa1,#66ff99,#6fff90,#79ff86,#83ff7c,#8eff71,#98ff67,#a1ff5e,#a9ff56,#b0ff4f,#b5ff4a,#b9ff46,#bbff44,#bdff42,#bfff40,#c1ff3e,#c3ff3c,#c5ff3a,#c6ff39,#c7ff38,#c8ff37,#c9ff36,#c9ff36,#c8ff37,#c7ff38,#c4ff3b,#c1ff3e,#beff41,#baff45,#b7ff48,#b4ff4b,#b2ff4d,#afff50,#adff52,#aaff55,#a7ff58,#a4ff5b,#a0ff5f,#9cff63,#97ff68,#92ff6d,#8cff73,#86ff79,#7fff80,#78ff87,#6fff90,#66ff99,#5cffa3,#51ffae,#45ffba)"></i><i style="height:2px;background:linear-gradient(90deg,#56ffa9,#5cffa3,#64ff9b,#6dff92,#77ff88,#81ff7e,#8bff74,#95ff6a,#9eff61,#a6ff59,#adff52,#b2ff4d,#b6ff49,#b8ff47,#bbff44,#bdff42,#bfff40,#c1ff3e,#c2ff3d,#c4ff3b,#c6ff39,#c7ff38,#c7ff38,#c8ff37,#c7ff38,#c5ff3a,#c3ff3c,#c0ff3f,#bcff43,#b9ff46,#b5ff4a,#b2ff4d,#afff50,#adff52,#aaff55,#a7ff58,#a4ff5b,#a1ff5e,#9dff62,#99ff66,#94ff6b,#8fff70,#8aff75,#84ff7b,#7dff82,#76ff89,#6eff91,#65ff9a,#5bffa4,#50ffaf,#44ffbb)"></i><i style="height:2px;background:linear-gradient(90deg,#54ffab,#5bffa4,#62ff9d,#6bff94,#74ff8b,#7eff81,#88ff77,#92ff6d,#9bff64,#a3ff5c,#a9ff56,#afff50,#b2ff4d,#b5ff4a,#b8ff47,#baff45,#bcff43,#beff41,#c0ff3f,#c2ff3d,#c4ff3b,#c5ff3a,#c6ff39,#c6ff39,#c6ff39,#c4ff3b,#c2ff3d,#bfff40,#bbff44,#b7ff48,#b3ff4c,#b0ff4f,#adff52,#aaff55,#a8ff57,#a5ff5a,#a2ff5d,#9eff61,#9aff65,#96ff69,#92ff6d,#8dff72,#87ff78,#82ff7d,#7bff84,#74ff8b,#6cff93,#63ff9c,#5affa5,#4fffb0,#44ffbb)"></i><i style="height:2px;background:linear-gradient(90deg,#53ffac,#59ffa6,#60ff9f,#69ff96,#72ff8d,#7cff83,#85ff7a,#8fff70,#97ff68,#9fff60,#a6ff59,#abff54,#afff50,#b2ff4d,#b5ff4a,#b7ff48,#b9ff46,#bbff44,#bdff42,#bfff40,#c1ff3e,#c3ff3c,#c4ff3b,#c5ff3a,#c4ff3b,#c3ff3c,#c1ff3e,#bdff42,#baff45,#b6ff49,#b2ff4d,#aeff51,#abff54,#a8ff57,#a5ff5a,#a2ff5d,#9fff60,#9bff64,#98ff67,#94ff6b,#8fff70,#8aff75,#85ff7a,#7fff80,#79ff86,#72ff8d,#6aff95,#62ff9d,#59ffa6,#4fffb0,#44ffbb)"></i><i style="height:2px;background:linear-gradient(90deg,#51ffae,#57ffa8,#5fffa0,#67ff98,#70ff8f,#79ff86,#83ff7c,#8cff73,#94ff6b,#9cff63,#a2ff5d,#a7ff58,#acff53,#afff50,#b1ff4e,#b4ff4b,#b6ff49,#b9ff46,#bbff44,#bdff42,#bfff40,#c1ff3e,#c2ff3d,#c3ff3c,#c3ff3c,#c2ff3d,#c0ff3f,#bcff43,#b8ff47,#b4ff4b,#b0ff4f,#acff53,#a9ff56,#a6ff59,#a3ff5c,#9fff60,#9cff63,#99ff66,#95ff6a,#91ff6e,#8cff73,#88ff77,#83ff7c,#7dff82,#77ff88,#70ff8f,#69ff96,#61ff9e,#58ffa7,#4fffb0,#45ffba)"></i><i style="height:2px;background:linear-gradient(90deg,#4fffb0,#56ffa9,#5dffa2,#65ff9a,#6eff91,#77ff88,#80ff7f,#89ff76,#91ff6e,#98ff67,#9fff60,#a4ff5b,#a8ff57,#abff54,#aeff51,#b1ff4e,#b3ff4c,#b6ff49,#b8ff47,#baff45,#bdff42,#bfff40,#c0ff3f,#c2ff3d,#c2ff3d,#c1ff3e,#bfff40,#bbff44,#b7ff48,#b3ff4c,#aeff51,#aaff55,#a7ff58,#a3ff5c,#a0ff5f,#9dff62,#99ff66,#96ff69,#92ff6d,#8eff71,#8aff75,#85ff7a,#80ff7f,#7bff84,#75ff8a,#6fff90,#68ff97,#60ff9f,#58ffa7,#4fffb0,#45ffba)"></i><i style="height:2px;background:linear-gradient(90deg,#4effb1,#54ffab,#5bffa4,#63ff9c,#6cff93,#74ff8b,#7dff82,#86ff79,#8dff72,#95ff6a,#9bff64,#a0ff5f,#a4ff5b,#a8ff57,#abff54,#aeff51,#b0ff4f,#b3ff4c,#b5ff4a,#b8ff47,#baff45,#bcff43,#bfff40,#c0ff3f,#c0ff3f,#c0ff3f,#beff41,#baff45,#b6ff49,#b1ff4e,#adff52,#a9ff56,#a5ff5a,#a1ff5e,#9eff61,#9aff65,#97ff68,#93ff6c,#8fff70,#8bff74,#87ff78,#83ff7c,#7eff81,#79ff86,#73ff8c,#6dff92,#67ff98,#60ff9f,#58ffa7,#50ffaf,#46ffb9)"></i><i style="height:2px;background:linear-gradient(90deg,#4cffb3,#53ffac,#5affa5,#62ff9d,#6aff95,#72ff8d,#7aff85,#83ff7c,#8aff75,#91ff6e,#97ff68,#9cff63,#a1ff5e,#a4ff5b,#a8ff57,#aaff55,#adff52,#b0ff4f,#b2ff4d,#b5ff4a,#b8ff47,#baff45,#bdff42,#beff41,#bfff40,#bfff40,#bcff43,#b9ff46,#b5ff4a,#b0ff4f,#abff54,#a7ff58,#a3ff5c,#9fff60,#9bff64,#98ff67,#94ff6b,#91ff6e,#8dff72,#89ff76,#85ff7a,#81ff7e,#7cff83,#77ff88,#72ff8d,#6cff93,#66ff99,#5fffa0,#58ffa7,#50ffaf,#48ffb7)"></i><i style="height:2px;background:linear-gradient(90deg,#4bffb4,#51ffae,#58ffa7,#60ff9f,#68ff97,#70ff8f,#78ff87,#80ff7f,#87ff78,#8eff71,#94ff6b,#99ff66,#9dff62,#a1ff5e,#a4ff5b,#a7ff58,#aaff55,#adff52,#b0ff4f,#b2ff4d,#b5ff4a,#b8ff47,#bbff44,#bdff42,#beff41,#beff41,#bbff44,#b8ff47,#b4ff4b,#afff50,#aaff55,#a5ff5a,#a1ff5e,#9dff62,#99ff66,#96ff69,#92ff6d,#8eff71,#8aff75,#87ff78,#83ff7c,#7eff81,#7aff85,#75ff8a,#70ff8f,#6bff94,#65ff9a,#5fffa0,#58ffa7,#51ffae,#49ffb6)"></i><i style="height:2px;background:linear-gradient(90deg,#49ffb6,#50ffaf,#57ffa8,#5effa1,#66ff99,#6eff91,#75ff8a,#7dff82,#84ff7b,#8aff75,#90ff6f,#96ff69,#9aff65,#9eff61,#a1ff5e,#a5ff5a,#a7ff58,#aaff55,#adff52,#b0ff4f,#b3ff4c,#b6ff49,#b9ff46,#bbff44,#bdff42,#bcff43,#baff45,#b7ff48,#b3ff4c,#aeff51,#a9ff56,#a4ff5b,#9fff60,#9bff64,#97ff68,#94ff6b,#90ff6f,#8cff73,#88ff77,#85ff7a,#81ff7e,#7dff82,#78ff87,#74ff8b,#6fff90,#6aff95,#65ff9a,#5fffa0,#59ffa6,#52ffad,#4bffb4)"></i><i style="height:2px;background:linear-gradient(90deg,#48ffb7,#4fffb0,#55ffaa,#5dffa2,#64ff9b,#6bff94,#73ff8c,#7aff85,#81ff7e,#87ff78,#8dff72,#92ff6d,#97ff68,#9bff64,#9fff60,#a2ff5d,#a5ff5a,#a8ff57,#aaff55,#adff52,#b0ff4f,#b4ff4b,#b7ff48,#baff45,#bbff44,#bbff44,#b9ff46,#b6ff49,#b1ff4e,#acff53,#a7ff58,#a2ff5d,#9eff61,#9aff65,#96ff69,#92ff6d,#8eff71,#8aff75,#87ff78,#83ff7c,#7fff80,#7bff84,#77ff88,#73ff8c,#6eff91,#6aff95,#65ff9a,#5fffa0,#5affa5,#53ffac,#4dffb2)"></i><i style="height:2px;background:linear-gradient(90deg,#47ffb8,#4dffb2,#54ffab,#5bffa4,#62ff9d,#69ff96,#71ff8e,#77ff88,#7eff81,#84ff7b,#8aff75,#8fff70,#94ff6b,#98ff67,#9cff63,#9fff60,#a2ff5d,#a5ff5a,#a8ff57,#abff54,#aeff51,#b2ff4d,#b5ff4a,#b8ff47,#baff45,#baff45,#b8ff47,#b5ff4a,#b0ff4f,#abff54,#a6ff59,#a1ff5e,#9dff62,#98ff67,#95ff6a,#91ff6e,#8dff72,#89ff76,#85ff7a,#82ff7d,#7eff81,#7aff85,#76ff89,#72ff8d,#6eff91,#69ff96,#65ff9a,#60ff9f,#5affa5,#55ffaa,#4fffb0)"></i><i style="height:2px;background:linear-gradient(90deg,#46ffb9,#4cffb3,#53ffac,#5affa5,#61ff9e,#68ff97,#6eff91,#75ff8a,#7cff83,#82ff7d,#87ff78,#8dff72,#92ff6d,#96ff69,#9aff65,#9dff62,#a0ff5f,#a3ff5c,#a6ff59,#a9ff56,#acff53,#b0ff4f,#b3ff4c,#b7ff48,#b9ff46,#b9ff46,#b7ff48,#b4ff4b,#afff50,#aaff55,#a5ff5a,#a0ff5f,#9cff63,#97ff68,#94ff6b,#90ff6f,#8cff73,#88ff77,#84ff7b,#81ff7e,#7dff82,#79ff86,#75ff8a,#71ff8e,#6dff92,#69ff96,#65ff9a,#60ff9f,#5bffa4,#56ffa9,#51ffae)"></i><i style="height:2px;background:linear-gradient(90deg,#44ffbb,#4bffb4,#52ffad,#58ffa7,#5fffa0,#66ff99,#6cff93,#73ff8c,#79ff86,#7fff80,#85ff7a,#8aff75,#8fff70,#94ff6b,#98ff67,#9cff63,#9fff60,#a1ff5e,#a4ff5b,#a7ff58,#aaff55,#aeff51,#b2ff4d,#b5ff4a,#b7ff48,#b8ff47,#b6ff49,#b3ff4c,#aeff51,#a9ff56,#a4ff5b,#9fff60,#9bff64,#97ff68,#93ff6c,#8fff70,#8cff73,#88ff77,#84ff7b,#80ff7f,#7cff83,#79ff86,#75ff8a,#71ff8e,#6dff92,#69ff96,#65ff9a,#61ff9e,#5cffa3,#58ffa7,#53ffac)"></i><i style="height:2px;background:linear-gradient(90deg,#43ffbc,#4affb5,#50ffaf,#57ffa8,#5effa1,#64ff9b,#6bff94,#71ff8e,#77ff88,#7dff82,#83ff7c,#89ff76,#8eff71,#92ff6d,#97ff68,#9aff65,#9dff62,#a0ff5f,#a3ff5c,#a5ff5a,#a9ff56,#acff53,#b0ff4f,#b4ff4b,#b6ff49,#b6ff49,#b5ff4a,#b1ff4e,#adff52,#a8ff57,#a2ff5d,#9eff61,#9aff65,#96ff69,#93ff6c,#8fff70,#8cff73,#88ff77,#84ff7b,#80ff7f,#7cff83,#79ff86,#75ff8a,#71ff8e,#6dff92,#6aff95,#66ff99,#62ff9d,#5effa1,#59ffa6,#55ffaa)"></i><i style="height:2px;background:linear-gradient(90deg,#42ffbd,#49ffb6,#4fffb0,#56ffa9,#5cffa3,#63ff9c,#69ff96,#6fff90,#76ff89,#7cff83,#81ff7e,#87ff78,#8cff73,#91ff6e,#96ff69,#99ff66,#9cff63,#9fff60,#a1ff5e,#a4ff5b,#a7ff58,#abff54,#afff50,#b2ff4d,#b5ff4a,#b5ff4a,#b3ff4c,#b0ff4f,#abff54,#a6ff59,#a1ff5e,#9dff62,#99ff66,#96ff69,#93ff6c,#90ff6f,#8cff73,#89ff76,#85ff7a,#81ff7e,#7dff82,#79ff86,#75ff8a,#72ff8d,#6eff91,#6aff95,#67ff98,#63ff9c,#5fffa0,#5bffa4,#56ffa9)"></i><i style="height:2px;background:linear-gradient(90deg,#41ffbe,#48ffb7,#4effb1,#54ffab,#5bffa4,#61ff9e,#68ff97,#6eff91,#74ff8b,#7aff85,#80ff7f,#86ff79,#8cff73,#91ff6e,#95ff6a,#99ff66,#9cff63,#9eff61,#a1ff5e,#a3ff5c,#a6ff59,#aaff55,#aeff51,#b1ff4e,#b3ff4c,#b4ff4b,#b2ff4d,#afff50,#aaff55,#a5ff5a,#a0ff5f,#9dff62,#99ff66,#97ff68,#94ff6b,#91ff6e,#8eff71,#8aff75,#86ff79,#82ff7d,#7eff81,#7aff85,#76ff89,#73ff8c,#6fff90,#6bff94,#68ff97,#64ff9b,#60ff9f,#5cffa3,#58ffa7)"></i><i style="height:1px;background:linear-gradient(90deg,#41ffbe,#47ffb8,#4dffb2,#54ffab,#5affa5,#60ff9f,#67ff98,#6dff92,#74ff8b,#7aff85,#80ff7f,#86ff79,#8cff73,#91ff6e,#95ff6a,#99ff66,#9cff63,#9eff61,#a1ff5e,#a3ff5c,#a6ff59,#a9ff56,#adff52,#b0ff4f,#b2ff4d,#b3ff4c,#b1ff4e,#adff52,#a9ff56,#a4ff5b,#a0ff5f,#9cff63,#99ff66,#97ff68,#95ff6a,#92ff6d,#8fff70,#8bff74,#88ff77,#83ff7c,#7fff80,#7bff84,#77ff88,#74ff8b,#70ff8f,#6cff93,#69ff96,#65ff9a,#61ff9e,#5dffa2,#59ffa6)"></i></div>
<div class="hm" style="left:104px;top:729.2px;width:114px;height:172.1px"><i style="height:2px;background:linear-gradient(90deg,#ffc500,#ffc200,#ffc200,#ffc400,#ffc900,#ffcf00,#ffd700,#ffe000,#ffe800,#fff100,#fff900,#feff01,#f7ff08,#f0ff0f,#e9ff16,#e1ff1e,#d9ff26,#d1ff2e,#c8ff37,#c0ff3f,#b9ff46,#b1ff4e,#abff54,#a5ff5a)"></i><i style="height:2px;background:linear-gradient(90deg,#ffc500,#ffc200,#ffc300,#ffc500,#ffca00,#ffd000,#ffd800,#ffe000,#ffe900,#fff100,#fffa00,#fcff03,#f5ff0a,#edff12,#e5ff1a,#ddff22,#d5ff2a,#ceff31,#c6ff39,#beff41,#b7ff48,#b0ff4f,#a9ff56,#a3ff5c)"></i><i style="height:2px;background:linear-gradient(90deg,#ffc400,#ffc300,#ffc400,#ffc600,#ffcb00,#ffd100,#ffd900,#ffe100,#ffe900,#fff200,#fffb00,#faff05,#f2ff0d,#eaff15,#e1ff1e,#daff25,#d2ff2d,#caff35,#c3ff3c,#bcff43,#b5ff4a,#aeff51,#a7ff58,#a0ff5f)"></i><i style="height:2px;background:linear-gradient(90deg,#ffc400,#ffc300,#ffc400,#ffc800,#ffcc00,#ffd300,#ffda00,#ffe200,#ffeb00,#fff400,#fffd00,#f8ff07,#efff10,#e6ff19,#deff21,#d6ff29,#ceff31,#c7ff38,#c0ff3f,#b9ff46,#b2ff4d,#abff54,#a4ff5b,#9dff62)"></i><i style="height:2px;background:linear-gradient(90deg,#ffc400,#ffc400,#ffc500,#ffc900,#ffce00,#ffd400,#ffdb00,#ffe400,#ffec00,#fff600,#ffff00,#f5ff0a,#ecff13,#e3ff1c,#daff25,#d2ff2d,#cbff34,#c3ff3c,#bcff43,#b6ff49,#afff50,#a8ff57,#a1ff5e,#9aff65)"></i><i style="height:2px;background:linear-gradient(90deg,#ffc400,#ffc400,#ffc600,#ffca00,#ffcf00,#ffd600,#ffdd00,#ffe600,#ffef00,#fff800,#fcff03,#f2ff0d,#e9ff16,#dfff20,#d7ff28,#cfff30,#c7ff38,#c0ff3f,#b9ff46,#b2ff4d,#abff54,#a5ff5a,#9eff61,#97ff68)"></i><i style="height:2px;background:linear-gradient(90deg,#ffc400,#ffc500,#ffc800,#ffcc00,#ffd100,#ffd800,#ffe000,#ffe800,#fff100,#fffb00,#f9ff06,#efff10,#e6ff19,#dcff23,#d3ff2c,#cbff34,#c3ff3c,#bcff43,#b5ff4a,#aeff51,#a8ff57,#a1ff5e,#9aff65,#93ff6c)"></i><i style="height:2px;background:linear-gradient(90deg,#ffc400,#ffc600,#ffc900,#ffcd00,#ffd300,#ffda00,#ffe200,#ffeb00,#fff400,#fffe00,#f6ff09,#ecff13,#e2ff1d,#d9ff26,#d0ff2f,#c7ff38,#bfff40,#b8ff47,#b1ff4e,#aaff55,#a3ff5c,#9dff62,#96ff69,#8fff70)"></i><i style="height:2px;background:linear-gradient(90deg,#ffc500,#ffc600,#ffca00,#ffcf00,#ffd500,#ffdd00,#ffe500,#ffee00,#fff800,#fdff02,#f3ff0c,#e9ff16,#dfff20,#d5ff2a,#ccff33,#c4ff3b,#bcff43,#b4ff4b,#adff52,#a6ff59,#9fff60,#98ff67,#91ff6e,#8aff75)"></i><i style="height:2px;background:linear-gradient(90deg,#ffc500,#ffc700,#ffcb00,#ffd100,#ffd800,#ffdf00,#ffe800,#fff100,#fffb00,#f9ff06,#efff10,#e5ff1a,#dbff24,#d2ff2d,#c8ff37,#c0ff3f,#b8ff47,#b0ff4f,#a8ff57,#a1ff5e,#9aff65,#93ff6c,#8dff72,#86ff79)"></i><i style="height:2px;background:linear-gradient(90deg,#ffc600,#ffc800,#ffcd00,#ffd300,#ffda00,#ffe200,#ffeb00,#fff500,#ffff00,#f5ff0a,#ebff14,#e1ff1e,#d7ff28,#ceff31,#c5ff3a,#bcff43,#b4ff4b,#acff53,#a4ff5b,#9dff62,#95ff6a,#8fff70,#88ff77,#81ff7e)"></i><i style="height:2px;background:linear-gradient(90deg,#ffc600,#ffca00,#ffcf00,#ffd500,#ffdd00,#ffe500,#ffef00,#fff900,#fbff04,#f1ff0e,#e7ff18,#ddff22,#d4ff2b,#caff35,#c1ff3e,#b9ff46,#b0ff4f,#a8ff57,#9fff60,#98ff67,#90ff6f,#89ff76,#83ff7c,#7dff82)"></i><i style="height:2px;background:linear-gradient(90deg,#ffc800,#ffcb00,#ffd100,#ffd700,#ffe000,#ffe900,#fff200,#fffd00,#f7ff08,#edff12,#e3ff1c,#d9ff26,#d0ff2f,#c7ff38,#beff41,#b5ff4a,#acff53,#a3ff5c,#9bff64,#93ff6c,#8bff74,#84ff7b,#7dff82,#78ff87)"></i><i style="height:2px;background:linear-gradient(90deg,#ffc900,#ffcd00,#ffd300,#ffda00,#ffe200,#ffec00,#fff600,#fdff02,#f3ff0c,#e9ff16,#dfff20,#d5ff2a,#ccff33,#c3ff3c,#baff45,#b1ff4e,#a8ff57,#9fff60,#96ff69,#8eff71,#86ff79,#7fff80,#78ff87,#72ff8d)"></i><i style="height:2px;background:linear-gradient(90deg,#ffcb00,#ffcf00,#ffd500,#ffdd00,#ffe600,#ffef00,#fffa00,#f9ff06,#efff10,#e4ff1b,#daff25,#d1ff2e,#c8ff37,#c0ff3f,#b7ff48,#adff52,#a4ff5b,#9bff64,#92ff6d,#89ff76,#81ff7e,#79ff86,#73ff8c,#6dff92)"></i><i style="height:2px;background:linear-gradient(90deg,#ffcc00,#ffd100,#ffd700,#ffdf00,#ffe900,#fff300,#fffe00,#f5ff0a,#eaff15,#e0ff1f,#d6ff29,#cdff32,#c5ff3a,#bcff43,#b3ff4c,#aaff55,#a0ff5f,#96ff69,#8dff72,#84ff7b,#7bff84,#73ff8c,#6dff92,#68ff97)"></i><i style="height:2px;background:linear-gradient(90deg,#ffcf00,#ffd300,#ffda00,#ffe200,#ffec00,#fff700,#fcff03,#f1ff0e,#e6ff19,#dbff24,#d2ff2d,#c9ff36,#c1ff3e,#b8ff47,#b0ff4f,#a6ff59,#9cff63,#92ff6d,#88ff77,#7fff80,#76ff89,#6eff91,#67ff98,#62ff9d)"></i><i style="height:2px;background:linear-gradient(90deg,#ffd100,#ffd600,#ffdd00,#ffe600,#fff000,#fffb00,#f8ff07,#edff12,#e2ff1d,#d7ff28,#ceff31,#c5ff3a,#bdff42,#b5ff4a,#acff53,#a2ff5d,#98ff67,#8eff71,#83ff7c,#7aff85,#70ff8f,#68ff97,#62ff9d,#5dffa2)"></i><i style="height:2px;background:linear-gradient(90deg,#ffd400,#ffd900,#ffe000,#ffe900,#fff300,#fffe00,#f4ff0b,#e8ff17,#ddff22,#d3ff2c,#caff35,#c1ff3e,#b9ff46,#b1ff4e,#a9ff56,#9fff60,#94ff6b,#8aff75,#7fff80,#75ff8a,#6bff94,#63ff9c,#5cffa3,#57ffa8)"></i><i style="height:2px;background:linear-gradient(90deg,#ffd800,#ffdd00,#ffe400,#ffed00,#fff700,#fcff03,#f0ff0f,#e4ff1b,#d9ff26,#cfff30,#c6ff39,#beff41,#b6ff49,#aeff51,#a5ff5a,#9bff64,#90ff6f,#85ff7a,#7aff85,#70ff8f,#66ff99,#5effa1,#57ffa8,#52ffad)"></i><i style="height:2px;background:linear-gradient(90deg,#ffdb00,#ffe100,#ffe800,#fff100,#fffb00,#f8ff07,#ecff13,#e0ff1f,#d5ff2a,#cbff34,#c2ff3d,#baff45,#b2ff4d,#aaff55,#a1ff5e,#97ff68,#8cff73,#81ff7e,#76ff89,#6bff94,#61ff9e,#58ffa7,#51ffae,#4cffb3)"></i><i style="height:2px;background:linear-gradient(90deg,#ffdf00,#ffe500,#ffec00,#fff500,#ffff00,#f3ff0c,#e8ff17,#ddff22,#d1ff2e,#c7ff38,#beff41,#b6ff49,#afff50,#a7ff58,#9eff61,#94ff6b,#89ff76,#7dff82,#72ff8d,#67ff98,#5cffa3,#53ffac,#4cffb3,#47ffb8)"></i><i style="height:2px;background:linear-gradient(90deg,#ffe400,#ffe900,#fff100,#fffa00,#faff05,#efff10,#e4ff1b,#d9ff26,#ceff31,#c4ff3b,#bbff44,#b3ff4c,#abff54,#a3ff5c,#9aff65,#90ff6f,#85ff7a,#79ff86,#6dff92,#62ff9d,#58ffa7,#4effb1,#47ffb8,#41ffbe)"></i><i style="height:2px;background:linear-gradient(90deg,#ffe900,#ffee00,#fff600,#fffe00,#f6ff09,#ebff14,#e0ff1f,#d5ff2a,#cbff34,#c1ff3e,#b8ff47,#b0ff4f,#a8ff57,#a0ff5f,#96ff69,#8cff73,#81ff7e,#75ff8a,#69ff96,#5effa1,#53ffac,#4affb5,#42ffbd,#3cffc3)"></i><i style="height:2px;background:linear-gradient(90deg,#ffef00,#fff400,#fffb00,#fbff04,#f1ff0e,#e7ff18,#dcff23,#d2ff2d,#c7ff38,#beff41,#b5ff4a,#adff52,#a4ff5b,#9cff63,#93ff6c,#88ff77,#7dff82,#71ff8e,#65ff9a,#5affa5,#4fffb0,#45ffba,#3dffc2,#36ffc9)"></i><i style="height:2px;background:linear-gradient(90deg,#fff400,#fff900,#feff01,#f6ff09,#edff12,#e3ff1c,#d9ff26,#ceff31,#c4ff3b,#bbff44,#b2ff4d,#a9ff56,#a1ff5e,#98ff67,#8fff70,#84ff7b,#79ff86,#6dff92,#62ff9d,#56ffa9,#4bffb4,#41ffbe,#38ffc7,#31ffce)"></i><i style="height:2px;background:linear-gradient(90deg,#fffa00,#ffff00,#f8ff07,#f0ff0f,#e8ff17,#deff21,#d5ff2a,#cbff34,#c1ff3e,#b7ff48,#afff50,#a6ff59,#9eff61,#95ff6a,#8bff74,#80ff7f,#75ff8a,#69ff96,#5effa1,#52ffad,#47ffb8,#3dffc2,#33ffcc,#2cffd3)"></i><i style="height:2px;background:linear-gradient(90deg,#feff01,#f9ff06,#f2ff0d,#ebff14,#e3ff1c,#daff25,#d1ff2e,#c7ff38,#beff41,#b4ff4b,#abff54,#a3ff5c,#9aff65,#91ff6e,#87ff78,#7cff83,#71ff8e,#65ff9a,#5affa5,#4effb1,#43ffbc,#38ffc7,#2fffd0,#27ffd8)"></i><i style="height:2px;background:linear-gradient(90deg,#f7ff08,#f2ff0d,#edff12,#e6ff19,#deff21,#d5ff2a,#ccff33,#c3ff3c,#baff45,#b1ff4e,#a8ff57,#9fff60,#96ff69,#8dff72,#83ff7c,#78ff87,#6dff92,#61ff9e,#56ffa9,#4affb5,#3fffc0,#34ffcb,#2bffd4,#22ffdd)"></i><i style="height:2px;background:linear-gradient(90deg,#f1ff0e,#ecff13,#e7ff18,#e0ff1f,#d9ff26,#d1ff2e,#c8ff37,#bfff40,#b6ff49,#adff52,#a4ff5b,#9bff64,#92ff6d,#88ff77,#7eff81,#74ff8b,#68ff97,#5dffa2,#51ffae,#46ffb9,#3bffc4,#30ffcf,#27ffd8,#1effe1)"></i><i style="height:2px;background:linear-gradient(90deg,#eaff15,#e6ff19,#e0ff1f,#daff25,#d3ff2c,#ccff33,#c3ff3c,#bbff44,#b2ff4d,#a9ff56,#a0ff5f,#97ff68,#8eff71,#84ff7b,#7aff85,#6fff90,#64ff9b,#58ffa7,#4dffb2,#42ffbd,#37ffc8,#2cffd3,#23ffdc,#1affe5)"></i><i style="height:2px;background:linear-gradient(90deg,#e4ff1b,#e0ff1f,#daff25,#d4ff2b,#ceff31,#c6ff39,#bfff40,#b6ff49,#aeff51,#a5ff5a,#9cff63,#92ff6d,#89ff76,#7fff80,#75ff8a,#6aff95,#5fffa0,#54ffab,#48ffb7,#3dffc2,#33ffcc,#29ffd6,#1fffe0,#16ffe9)"></i><i style="height:2px;background:linear-gradient(90deg,#ddff22,#d9ff26,#d4ff2b,#cfff30,#c8ff37,#c1ff3e,#b9ff46,#b1ff4e,#a9ff56,#a0ff5f,#97ff68,#8dff72,#84ff7b,#7aff85,#70ff8f,#65ff9a,#5affa5,#4fffb0,#44ffbb,#39ffc6,#2effd1,#25ffda,#1bffe4,#13ffec)"></i><i style="height:2px;background:linear-gradient(90deg,#d7ff28,#d3ff2c,#ceff31,#c9ff36,#c2ff3d,#bbff44,#b4ff4b,#acff53,#a3ff5c,#9aff65,#91ff6e,#88ff77,#7fff80,#75ff8a,#6aff95,#60ff9f,#55ffaa,#4affb5,#3fffc0,#34ffcb,#2affd5,#21ffde,#18ffe7,#10ffef)"></i><i style="height:2px;background:linear-gradient(90deg,#d1ff2e,#cdff32,#c8ff37,#c3ff3c,#bdff42,#b6ff49,#aeff51,#a6ff59,#9dff62,#95ff6a,#8cff73,#82ff7d,#79ff86,#6fff90,#65ff9a,#5affa5,#4fffb0,#44ffbb,#39ffc6,#2fffd0,#25ffda,#1dffe2,#15ffea,#0efff1)"></i><i style="height:2px;background:linear-gradient(90deg,#cbff34,#c7ff38,#c3ff3c,#bdff42,#b7ff48,#b0ff4f,#a8ff57,#a0ff5f,#97ff68,#8eff71,#85ff7a,#7cff83,#73ff8c,#69ff96,#5fffa0,#54ffab,#49ffb6,#3fffc0,#34ffcb,#2affd5,#21ffde,#18ffe7,#11ffee,#0cfff3)"></i><i style="height:2px;background:linear-gradient(90deg,#c5ff3a,#c1ff3e,#bdff42,#b7ff48,#b1ff4e,#aaff55,#a2ff5d,#99ff66,#91ff6e,#88ff77,#7fff80,#76ff89,#6dff92,#63ff9c,#59ffa6,#4effb1,#44ffbb,#39ffc6,#2fffd0,#25ffda,#1cffe3,#14ffeb,#0efff1,#09fff6)"></i><i style="height:2px;background:linear-gradient(90deg,#bfff40,#bcff43,#b7ff48,#b2ff4d,#abff54,#a3ff5c,#9bff64,#93ff6c,#8aff75,#81ff7e,#78ff87,#6fff90,#66ff99,#5dffa2,#53ffac,#48ffb7,#3effc1,#33ffcc,#29ffd6,#1fffe0,#17ffe8,#10ffef,#0afff5,#07fff8)"></i><i style="height:2px;background:linear-gradient(90deg,#baff45,#b6ff49,#b2ff4d,#acff53,#a5ff5a,#9dff62,#95ff6a,#8cff73,#83ff7c,#7aff85,#71ff8e,#69ff96,#60ff9f,#56ffa9,#4dffb2,#42ffbd,#38ffc7,#2dffd2,#23ffdc,#1affe5,#12ffed,#0cfff3,#07fff8,#04fffb)"></i><i style="height:2px;background:linear-gradient(90deg,#b4ff4b,#b1ff4e,#acff53,#a6ff59,#9fff60,#97ff68,#8eff71,#85ff7a,#7cff83,#73ff8c,#6aff95,#62ff9d,#59ffa6,#50ffaf,#47ffb8,#3cffc3,#32ffcd,#28ffd7,#1effe1,#15ffea,#0dfff2,#07fff8,#03fffc,#02fffd)"></i><i style="height:2px;background:linear-gradient(90deg,#b0ff4f,#acff53,#a7ff58,#a1ff5e,#99ff66,#91ff6e,#88ff77,#7fff80,#75ff8a,#6cff93,#63ff9c,#5bffa4,#53ffac,#4affb5,#40ffbf,#36ffc9,#2cffd3,#22ffdd,#18ffe7,#0ffff0,#08fff7,#02fffd,#00feff,#00fdff)"></i><i style="height:2px;background:linear-gradient(90deg,#abff54,#a8ff57,#a2ff5d,#9bff64,#93ff6c,#8bff74,#81ff7e,#78ff87,#6eff91,#65ff9a,#5cffa3,#54ffab,#4cffb3,#44ffbb,#3affc5,#31ffce,#26ffd9,#1cffe3,#13ffec,#0afff5,#03fffc,#00fcff,#00faff,#00f9ff)"></i><i style="height:2px;background:linear-gradient(90deg,#a7ff58,#a3ff5c,#9dff62,#96ff69,#8eff71,#85ff7a,#7bff84,#71ff8e,#68ff97,#5effa1,#56ffa9,#4effb1,#46ffb9,#3dffc2,#34ffcb,#2bffd4,#21ffde,#17ffe8,#0dfff2,#05fffa,#00fdff,#00f8ff,#00f5ff,#00f5ff)"></i><i style="height:2px;background:linear-gradient(90deg,#a4ff5b,#9fff60,#99ff66,#91ff6e,#88ff77,#7fff80,#75ff8a,#6bff94,#61ff9e,#58ffa7,#4fffb0,#47ffb8,#3fffc0,#37ffc8,#2fffd0,#25ffda,#1bffe4,#11ffee,#08fff7,#00ffff,#00f8ff,#00f2ff,#00efff,#00efff)"></i><i style="height:2px;background:linear-gradient(90deg,#a1ff5e,#9bff64,#94ff6b,#8cff73,#83ff7c,#79ff86,#6fff90,#65ff9a,#5bffa4,#51ffae,#49ffb6,#41ffbe,#39ffc6,#31ffce,#29ffd6,#20ffdf,#16ffe9,#0cfff3,#03fffc,#00f9ff,#00f2ff,#00edff,#00eaff,#00e9ff)"></i><i style="height:2px;background:linear-gradient(90deg,#9eff61,#98ff67,#90ff6f,#87ff78,#7eff81,#73ff8c,#69ff96,#5fffa0,#55ffaa,#4bffb4,#43ffbc,#3bffc4,#34ffcb,#2cffd3,#24ffdb,#1affe5,#11ffee,#07fff8,#00fdff,#00f5ff,#00edff,#00e7ff,#00e4ff,#00e2ff)"></i><i style="height:2px;background:linear-gradient(90deg,#9cff63,#94ff6b,#8cff73,#83ff7c,#79ff86,#6eff91,#63ff9c,#59ffa6,#4fffb0,#45ffba,#3dffc2,#35ffca,#2effd1,#26ffd9,#1effe1,#15ffea,#0cfff3,#02fffd,#00f8ff,#00f0ff,#00e8ff,#00e2ff,#00ddff,#00dbff)"></i><i style="height:2px;background:linear-gradient(90deg,#99ff66,#91ff6e,#88ff77,#7eff81,#74ff8b,#69ff96,#5effa1,#53ffac,#49ffb6,#40ffbf,#37ffc8,#30ffcf,#29ffd6,#21ffde,#19ffe6,#10ffef,#07fff8,#00fdff,#00f4ff,#00ebff,#00e3ff,#00dcff,#00d7ff,#00d3ff)"></i><i style="height:2px;background:linear-gradient(90deg,#97ff68,#8eff71,#84ff7b,#7aff85,#6fff90,#64ff9b,#59ffa6,#4effb1,#44ffbb,#3affc5,#32ffcd,#2bffd4,#23ffdc,#1cffe3,#14ffeb,#0cfff3,#03fffc,#00f8ff,#00efff,#00e6ff,#00deff,#00d6ff,#00d0ff,#00cbff)"></i><i style="height:2px;background:linear-gradient(90deg,#95ff6a,#8bff74,#81ff7e,#76ff89,#6aff95,#5fffa0,#54ffab,#49ffb6,#3fffc0,#35ffca,#2dffd2,#26ffd9,#1effe1,#17ffe8,#10ffef,#07fff8,#00fdff,#00f4ff,#00ebff,#00e1ff,#00d8ff,#00d0ff,#00c9ff,#00c3ff)"></i><i style="height:2px;background:linear-gradient(90deg,#93ff6c,#89ff76,#7eff81,#72ff8d,#66ff99,#5affa5,#4fffb0,#44ffbb,#3affc5,#30ffcf,#28ffd7,#21ffde,#1affe5,#13ffec,#0bfff4,#03fffc,#00f9ff,#00f0ff,#00e6ff,#00dcff,#00d3ff,#00caff,#00c2ff,#00baff)"></i><i style="height:2px;background:linear-gradient(90deg,#91ff6e,#86ff79,#7aff85,#6eff91,#62ff9d,#56ffa9,#4affb5,#3fffc0,#35ffca,#2cffd3,#23ffdc,#1cffe3,#15ffea,#0ffff0,#07fff8,#00feff,#00f5ff,#00ebff,#00e2ff,#00d8ff,#00ceff,#00c4ff,#00bbff,#00b2ff)"></i><i style="height:2px;background:linear-gradient(90deg,#8fff70,#83ff7c,#77ff88,#6bff94,#5effa1,#52ffad,#46ffb9,#3bffc4,#30ffcf,#27ffd8,#1fffe0,#18ffe7,#11ffee,#0bfff4,#03fffc,#00faff,#00f1ff,#00e7ff,#00ddff,#00d3ff,#00c8ff,#00beff,#00b4ff,#00aaff)"></i><i style="height:2px;background:linear-gradient(90deg,#8cff73,#80ff7f,#74ff8b,#67ff98,#5bffa4,#4effb1,#42ffbd,#36ffc9,#2cffd3,#23ffdc,#1bffe4,#14ffeb,#0dfff2,#07fff8,#00ffff,#00f6ff,#00edff,#00e3ff,#00d9ff,#00ceff,#00c3ff,#00b8ff,#00adff,#00a2ff)"></i><i style="height:2px;background:linear-gradient(90deg,#89ff76,#7dff82,#71ff8e,#64ff9b,#57ffa8,#4bffb4,#3effc1,#32ffcd,#28ffd7,#1effe1,#17ffe8,#10ffef,#0afff5,#03fffc,#00fbff,#00f3ff,#00e9ff,#00dfff,#00d4ff,#00c9ff,#00bdff,#00b2ff,#00a6ff,#009bff)"></i><i style="height:2px;background:linear-gradient(90deg,#86ff79,#7aff85,#6eff91,#61ff9e,#54ffab,#47ffb8,#3affc5,#2fffd0,#24ffdb,#1affe5,#13ffec,#0cfff3,#06fff9,#00ffff,#00f8ff,#00f0ff,#00e6ff,#00dbff,#00d0ff,#00c4ff,#00b8ff,#00acff,#00a0ff,#0095ff)"></i><i style="height:2px;background:linear-gradient(90deg,#82ff7d,#77ff88,#6bff94,#5effa1,#51ffae,#44ffbb,#37ffc8,#2bffd4,#20ffdf,#17ffe8,#0ffff0,#09fff6,#03fffc,#00fcff,#00f5ff,#00edff,#00e2ff,#00d7ff,#00cbff,#00bfff,#00b2ff,#00a6ff,#009aff,#008fff)"></i><i style="height:2px;background:linear-gradient(90deg,#7eff81,#74ff8b,#68ff97,#5cffa3,#4effb1,#41ffbe,#34ffcb,#27ffd8,#1cffe3,#13ffec,#0cfff3,#06fff9,#00ffff,#00faff,#00f3ff,#00eaff,#00dfff,#00d3ff,#00c7ff,#00baff,#00adff,#00a0ff,#0094ff,#0089ff)"></i><i style="height:2px;background:linear-gradient(90deg,#7aff85,#71ff8e,#65ff9a,#59ffa6,#4cffb3,#3effc1,#31ffce,#24ffdb,#19ffe6,#10ffef,#08fff7,#03fffc,#00fdff,#00f7ff,#00f0ff,#00e7ff,#00dcff,#00d0ff,#00c2ff,#00b5ff,#00a7ff,#009aff,#008fff,#0084ff)"></i><i style="height:2px;background:linear-gradient(90deg,#76ff89,#6dff92,#62ff9d,#56ffa9,#49ffb6,#3bffc4,#2effd1,#21ffde,#16ffe9,#0dfff2,#06fff9,#00ffff,#00faff,#00f5ff,#00eeff,#00e4ff,#00d9ff,#00ccff,#00beff,#00b0ff,#00a2ff,#0095ff,#008aff,#0080ff)"></i><i style="height:2px;background:linear-gradient(90deg,#72ff8d,#6aff95,#5fffa0,#53ffac,#46ffb9,#38ffc7,#2bffd4,#1effe1,#13ffec,#0afff5,#03fffc,#00fdff,#00f8ff,#00f3ff,#00ecff,#00e2ff,#00d6ff,#00c8ff,#00baff,#00acff,#009eff,#0090ff,#0085ff,#007cff)"></i><i style="height:2px;background:linear-gradient(90deg,#6dff92,#66ff99,#5cffa3,#50ffaf,#43ffbc,#36ffc9,#28ffd7,#1cffe3,#10ffef,#07fff8,#01fffe,#00fbff,#00f6ff,#00f1ff,#00eaff,#00e0ff,#00d3ff,#00c5ff,#00b6ff,#00a7ff,#0099ff,#008cff,#0081ff,#0079ff)"></i><i style="height:2px;background:linear-gradient(90deg,#69ff96,#62ff9d,#58ffa7,#4dffb2,#40ffbf,#33ffcc,#26ffd9,#19ffe6,#0efff1,#05fffa,#00fdff,#00f9ff,#00f4ff,#00efff,#00e8ff,#00ddff,#00d1ff,#00c2ff,#00b3ff,#00a4ff,#0095ff,#0088ff,#007eff,#0077ff)"></i><i style="height:2px;background:linear-gradient(90deg,#64ff9b,#5effa1,#55ffaa,#4affb5,#3dffc2,#30ffcf,#23ffdc,#17ffe8,#0cfff3,#03fffc,#00fcff,#00f7ff,#00f3ff,#00edff,#00e6ff,#00dbff,#00ceff,#00bfff,#00b0ff,#00a0ff,#0092ff,#0085ff,#007bff,#0075ff)"></i><i style="height:2px;background:linear-gradient(90deg,#5fffa0,#59ffa6,#51ffae,#46ffb9,#3affc5,#2dffd2,#21ffde,#15ffea,#0afff5,#01fffe,#00faff,#00f5ff,#00f1ff,#00ecff,#00e4ff,#00d9ff,#00ccff,#00bdff,#00adff,#009eff,#008fff,#0083ff,#0079ff,#0073ff)"></i><i style="height:2px;background:linear-gradient(90deg,#5bffa4,#55ffaa,#4cffb3,#42ffbd,#36ffc9,#2affd5,#1effe1,#13ffec,#08fff7,#00ffff,#00f9ff,#00f4ff,#00f0ff,#00eaff,#00e2ff,#00d7ff,#00c9ff,#00baff,#00abff,#009bff,#008dff,#0081ff,#0078ff,#0072ff)"></i><i style="height:2px;background:linear-gradient(90deg,#56ffa9,#50ffaf,#47ffb8,#3effc1,#33ffcc,#27ffd8,#1cffe3,#11ffee,#07fff8,#00feff,#00f8ff,#00f3ff,#00eeff,#00e9ff,#00e0ff,#00d5ff,#00c7ff,#00b8ff,#00a9ff,#009aff,#008cff,#0080ff,#0077ff,#0072ff)"></i><i style="height:2px;background:linear-gradient(90deg,#51ffae,#4bffb4,#43ffbc,#39ffc6,#2fffd0,#24ffdb,#19ffe6,#0ffff0,#06fff9,#00fdff,#00f7ff,#00f2ff,#00edff,#00e7ff,#00deff,#00d3ff,#00c5ff,#00b7ff,#00a7ff,#0098ff,#008bff,#007fff,#0077ff,#0072ff)"></i><i style="height:2px;background:linear-gradient(90deg,#4dffb2,#46ffb9,#3effc1,#34ffcb,#2bffd4,#21ffde,#17ffe8,#0efff1,#05fffa,#00fdff,#00f7ff,#00f1ff,#00ecff,#00e5ff,#00ddff,#00d1ff,#00c4ff,#00b5ff,#00a6ff,#0097ff,#008aff,#007fff,#0077ff,#0073ff)"></i><i style="height:2px;background:linear-gradient(90deg,#48ffb7,#41ffbe,#38ffc7,#30ffcf,#27ffd8,#1dffe2,#14ffeb,#0cfff3,#04fffb,#00fcff,#00f6ff,#00f1ff,#00ebff,#00e4ff,#00dbff,#00cfff,#00c2ff,#00b4ff,#00a5ff,#0097ff,#008aff,#0080ff,#0078ff,#0074ff)"></i><i style="height:2px;background:linear-gradient(90deg,#44ffbb,#3cffc3,#33ffcc,#2bffd4,#22ffdd,#1affe5,#12ffed,#0bfff4,#03fffc,#00fcff,#00f6ff,#00f0ff,#00eaff,#00e2ff,#00d9ff,#00cdff,#00c0ff,#00b2ff,#00a4ff,#0097ff,#008bff,#0081ff,#0079ff,#0076ff)"></i><i style="height:2px;background:linear-gradient(90deg,#40ffbf,#37ffc8,#2effd1,#26ffd9,#1effe1,#17ffe8,#10ffef,#09fff6,#03fffc,#00fcff,#00f6ff,#00f0ff,#00e9ff,#00e1ff,#00d7ff,#00ccff,#00bfff,#00b1ff,#00a4ff,#0097ff,#008cff,#0082ff,#007bff,#0077ff)"></i><i style="height:2px;background:linear-gradient(90deg,#3cffc3,#32ffcd,#29ffd6,#21ffde,#1affe5,#14ffeb,#0dfff2,#08fff7,#02fffd,#00fbff,#00f5ff,#00efff,#00e8ff,#00dfff,#00d5ff,#00caff,#00beff,#00b1ff,#00a4ff,#0098ff,#008dff,#0084ff,#007dff,#0079ff)"></i><i style="height:2px;background:linear-gradient(90deg,#38ffc7,#2dffd2,#24ffdb,#1dffe2,#16ffe9,#10ffef,#0bfff4,#06fff9,#01fffe,#00fbff,#00f5ff,#00eeff,#00e6ff,#00deff,#00d4ff,#00c8ff,#00bcff,#00b0ff,#00a4ff,#0098ff,#008eff,#0085ff,#007fff,#007bff)"></i><i style="height:2px;background:linear-gradient(90deg,#34ffcb,#29ffd6,#20ffdf,#18ffe7,#12ffed,#0dfff2,#09fff6,#05fffa,#00ffff,#00faff,#00f4ff,#00edff,#00e5ff,#00dcff,#00d2ff,#00c7ff,#00bbff,#00afff,#00a4ff,#0099ff,#0090ff,#0088ff,#0081ff,#007eff)"></i><i style="height:2px;background:linear-gradient(90deg,#31ffce,#25ffda,#1bffe4,#14ffeb,#0ffff0,#0afff5,#06fff9,#03fffc,#00feff,#00f9ff,#00f3ff,#00ecff,#00e4ff,#00daff,#00d0ff,#00c5ff,#00baff,#00afff,#00a4ff,#009aff,#0091ff,#008aff,#0084ff,#0080ff)"></i><i style="height:2px;background:linear-gradient(90deg,#2effd1,#21ffde,#17ffe8,#10ffef,#0bfff4,#07fff8,#04fffb,#01fffe,#00fdff,#00f8ff,#00f2ff,#00ebff,#00e2ff,#00d9ff,#00ceff,#00c4ff,#00b9ff,#00afff,#00a5ff,#009bff,#0093ff,#008cff,#0086ff,#0083ff)"></i><i style="height:2px;background:linear-gradient(90deg,#2bffd4,#1dffe2,#14ffeb,#0dfff2,#08fff7,#05fffa,#02fffd,#00feff,#00fbff,#00f7ff,#00f1ff,#00eaff,#00e1ff,#00d7ff,#00cdff,#00c2ff,#00b8ff,#00aeff,#00a5ff,#009dff,#0095ff,#008eff,#0089ff,#0085ff)"></i><i style="height:2px;background:linear-gradient(90deg,#28ffd7,#1affe5,#11ffee,#0afff5,#05fffa,#02fffd,#00ffff,#00fdff,#00faff,#00f6ff,#00f0ff,#00e8ff,#00dfff,#00d5ff,#00cbff,#00c1ff,#00b7ff,#00aeff,#00a6ff,#009eff,#0097ff,#0091ff,#008bff,#0088ff)"></i><i style="height:2px;background:linear-gradient(90deg,#26ffd9,#18ffe7,#0efff1,#07fff8,#02fffd,#00ffff,#00fcff,#00faff,#00f8ff,#00f4ff,#00eeff,#00e6ff,#00ddff,#00d3ff,#00c9ff,#00c0ff,#00b7ff,#00aeff,#00a6ff,#009fff,#0098ff,#0093ff,#008eff,#008aff)"></i><i style="height:2px;background:linear-gradient(90deg,#24ffdb,#16ffe9,#0cfff3,#05fffa,#00ffff,#00fcff,#00faff,#00f8ff,#00f5ff,#00f1ff,#00ebff,#00e3ff,#00dbff,#00d1ff,#00c8ff,#00beff,#00b6ff,#00aeff,#00a7ff,#00a0ff,#009aff,#0095ff,#0090ff,#008cff)"></i><i style="height:2px;background:linear-gradient(90deg,#22ffdd,#14ffeb,#0afff5,#03fffc,#00feff,#00faff,#00f8ff,#00f6ff,#00f3ff,#00eeff,#00e8ff,#00e1ff,#00d8ff,#00cfff,#00c6ff,#00bdff,#00b5ff,#00aeff,#00a7ff,#00a1ff,#009bff,#0096ff,#0092ff,#008eff)"></i><i style="height:2px;background:linear-gradient(90deg,#21ffde,#14ffeb,#0afff5,#03fffc,#00fcff,#00f9ff,#00f6ff,#00f3ff,#00efff,#00ebff,#00e5ff,#00deff,#00d5ff,#00cdff,#00c4ff,#00bcff,#00b5ff,#00aeff,#00a8ff,#00a2ff,#009dff,#0098ff,#0094ff,#0090ff)"></i><i style="height:2px;background:linear-gradient(90deg,#20ffdf,#13ffec,#0afff5,#02fffd,#00fcff,#00f7ff,#00f3ff,#00f0ff,#00ecff,#00e7ff,#00e1ff,#00daff,#00d2ff,#00caff,#00c2ff,#00bbff,#00b4ff,#00aeff,#00a8ff,#00a3ff,#009eff,#0099ff,#0095ff,#0091ff)"></i><i style="height:2px;background:linear-gradient(90deg,#1fffe0,#14ffeb,#0bfff4,#03fffc,#00fcff,#00f6ff,#00f1ff,#00ecff,#00e8ff,#00e2ff,#00dcff,#00d6ff,#00cfff,#00c8ff,#00c1ff,#00baff,#00b4ff,#00aeff,#00a8ff,#00a3ff,#009eff,#009aff,#0096ff,#0092ff)"></i><i style="height:2px;background:linear-gradient(90deg,#1fffe0,#15ffea,#0dfff2,#05fffa,#00fcff,#00f5ff,#00efff,#00e9ff,#00e3ff,#00ddff,#00d7ff,#00d1ff,#00cbff,#00c5ff,#00bfff,#00b9ff,#00b3ff,#00aeff,#00a8ff,#00a3ff,#009eff,#009aff,#0096ff,#0093ff)"></i><i style="height:0.1px;background:linear-gradient(90deg,#1fffe0,#16ffe9,#0efff1,#06fff9,#00fdff,#00f5ff,#00eeff,#00e7ff,#00e0ff,#00daff,#00d4ff,#00cfff,#00c9ff,#00c4ff,#00beff,#00b9ff,#00b3ff,#00aeff,#00a8ff,#00a3ff,#009eff,#009aff,#0096ff,#0093ff)"></i></div>
<div class="hm" style="left:368px;top:732.3px;width:252px;height:169.4px"><i style="height:2px;background:linear-gradient(90deg,#0079ff,#007bff,#007cff,#007eff,#007fff,#0080ff,#0082ff,#0083ff,#0084ff,#0085ff,#0087ff,#0088ff,#0089ff,#008aff,#008cff,#008dff,#008eff,#008fff,#0090ff,#0091ff,#0093ff,#0095ff,#0097ff,#0099ff,#0099ff,#0099ff,#0098ff,#0095ff,#0092ff,#008fff,#008cff,#008aff,#0088ff,#0087ff,#0086ff,#0085ff,#0084ff,#0084ff,#0083ff,#0084ff,#0086ff,#0089ff,#008eff,#0093ff,#0099ff,#009fff,#00a5ff,#00aaff,#00afff,#00b2ff,#00b3ff)"></i><i style="height:2px;background:linear-gradient(90deg,#0079ff,#007bff,#007dff,#007eff,#0080ff,#0081ff,#0082ff,#0084ff,#0085ff,#0086ff,#0088ff,#0089ff,#008aff,#008bff,#008cff,#008dff,#008eff,#008fff,#0091ff,#0092ff,#0094ff,#0096ff,#0097ff,#0099ff,#009aff,#009aff,#0098ff,#0095ff,#0092ff,#008fff,#008cff,#008aff,#0088ff,#0087ff,#0086ff,#0085ff,#0084ff,#0083ff,#0083ff,#0084ff,#0086ff,#0089ff,#008eff,#0094ff,#009aff,#00a0ff,#00a6ff,#00abff,#00afff,#00b2ff,#00b3ff)"></i><i style="height:2px;background:linear-gradient(90deg,#0079ff,#007bff,#007cff,#007eff,#0080ff,#0081ff,#0083ff,#0084ff,#0086ff,#0087ff,#0088ff,#0089ff,#008aff,#008bff,#008cff,#008dff,#008eff,#0090ff,#0091ff,#0092ff,#0094ff,#0096ff,#0098ff,#0099ff,#009aff,#009aff,#0098ff,#0096ff,#0092ff,#008fff,#008cff,#0089ff,#0088ff,#0086ff,#0085ff,#0084ff,#0083ff,#0083ff,#0083ff,#0084ff,#0087ff,#008aff,#008fff,#0095ff,#009bff,#00a1ff,#00a6ff,#00acff,#00b0ff,#00b2ff,#00b3ff)"></i><i style="height:2px;background:linear-gradient(90deg,#0078ff,#007aff,#007cff,#007eff,#007fff,#0081ff,#0083ff,#0084ff,#0086ff,#0087ff,#0088ff,#0089ff,#008aff,#008cff,#008cff,#008dff,#008fff,#0090ff,#0091ff,#0093ff,#0094ff,#0096ff,#0098ff,#009aff,#009bff,#009aff,#0099ff,#0096ff,#0093ff,#008fff,#008cff,#0089ff,#0087ff,#0086ff,#0085ff,#0084ff,#0083ff,#0083ff,#0084ff,#0085ff,#0087ff,#008bff,#0090ff,#0096ff,#009bff,#00a1ff,#00a7ff,#00acff,#00b0ff,#00b3ff,#00b4ff)"></i><i style="height:2px;background:linear-gradient(90deg,#0076ff,#0078ff,#007aff,#007cff,#007eff,#0080ff,#0082ff,#0084ff,#0085ff,#0087ff,#0088ff,#0089ff,#008aff,#008bff,#008cff,#008dff,#008eff,#0090ff,#0091ff,#0093ff,#0094ff,#0096ff,#0098ff,#009aff,#009bff,#009bff,#0099ff,#0096ff,#0093ff,#008fff,#008cff,#0089ff,#0087ff,#0086ff,#0084ff,#0084ff,#0083ff,#0083ff,#0084ff,#0086ff,#0089ff,#008cff,#0091ff,#0097ff,#009cff,#00a2ff,#00a8ff,#00acff,#00b0ff,#00b3ff,#00b5ff)"></i><i style="height:2px;background:linear-gradient(90deg,#0074ff,#0077ff,#0079ff,#007bff,#007dff,#007fff,#0081ff,#0083ff,#0084ff,#0086ff,#0087ff,#0089ff,#008aff,#008bff,#008cff,#008dff,#008eff,#008fff,#0091ff,#0092ff,#0094ff,#0097ff,#0099ff,#009aff,#009bff,#009bff,#0099ff,#0096ff,#0093ff,#008fff,#008cff,#0089ff,#0087ff,#0085ff,#0084ff,#0084ff,#0084ff,#0084ff,#0085ff,#0087ff,#008aff,#008eff,#0092ff,#0098ff,#009dff,#00a3ff,#00a8ff,#00adff,#00b1ff,#00b4ff,#00b5ff)"></i><i style="height:2px;background:linear-gradient(90deg,#0072ff,#0074ff,#0077ff,#0079ff,#007bff,#007dff,#007fff,#0081ff,#0083ff,#0085ff,#0086ff,#0088ff,#0089ff,#008aff,#008bff,#008cff,#008eff,#008fff,#0091ff,#0092ff,#0094ff,#0097ff,#0099ff,#009aff,#009bff,#009bff,#0099ff,#0096ff,#0093ff,#008fff,#008cff,#0089ff,#0087ff,#0085ff,#0084ff,#0084ff,#0084ff,#0085ff,#0086ff,#0088ff,#008bff,#008fff,#0094ff,#0099ff,#009eff,#00a3ff,#00a8ff,#00adff,#00b1ff,#00b4ff,#00b6ff)"></i><i style="height:2px;background:linear-gradient(90deg,#0070ff,#0072ff,#0074ff,#0076ff,#0079ff,#007bff,#007dff,#0080ff,#0082ff,#0083ff,#0085ff,#0087ff,#0088ff,#0089ff,#008aff,#008cff,#008dff,#008eff,#0090ff,#0092ff,#0094ff,#0096ff,#0099ff,#009aff,#009bff,#009bff,#009aff,#0097ff,#0093ff,#008fff,#008cff,#0089ff,#0087ff,#0085ff,#0085ff,#0084ff,#0085ff,#0086ff,#0088ff,#008aff,#008dff,#0091ff,#0095ff,#009aff,#009fff,#00a4ff,#00a9ff,#00adff,#00b1ff,#00b4ff,#00b6ff)"></i><i style="height:2px;background:linear-gradient(90deg,#006dff,#006fff,#0071ff,#0074ff,#0076ff,#0079ff,#007bff,#007dff,#0080ff,#0082ff,#0084ff,#0085ff,#0087ff,#0088ff,#0089ff,#008bff,#008cff,#008eff,#0090ff,#0091ff,#0094ff,#0096ff,#0099ff,#009aff,#009cff,#009bff,#009aff,#0097ff,#0093ff,#0090ff,#008cff,#0089ff,#0087ff,#0086ff,#0085ff,#0085ff,#0085ff,#0087ff,#0089ff,#008cff,#008fff,#0093ff,#0097ff,#009bff,#00a0ff,#00a4ff,#00a9ff,#00adff,#00b1ff,#00b4ff,#00b7ff)"></i><i style="height:2px;background:linear-gradient(90deg,#006aff,#006cff,#006eff,#0071ff,#0074ff,#0076ff,#0079ff,#007bff,#007eff,#0080ff,#0082ff,#0084ff,#0085ff,#0087ff,#0088ff,#008aff,#008bff,#008dff,#008fff,#0091ff,#0093ff,#0096ff,#0098ff,#009aff,#009cff,#009bff,#009aff,#0097ff,#0094ff,#0090ff,#008cff,#0089ff,#0087ff,#0086ff,#0085ff,#0085ff,#0086ff,#0088ff,#008aff,#008dff,#0091ff,#0094ff,#0098ff,#009cff,#00a1ff,#00a5ff,#00a9ff,#00adff,#00b1ff,#00b5ff,#00b8ff)"></i><i style="height:2px;background:linear-gradient(90deg,#0067ff,#0069ff,#006bff,#006eff,#0071ff,#0073ff,#0076ff,#0079ff,#007bff,#007eff,#0080ff,#0082ff,#0084ff,#0085ff,#0087ff,#0089ff,#008aff,#008cff,#008eff,#0090ff,#0093ff,#0095ff,#0098ff,#009aff,#009cff,#009cff,#009aff,#0097ff,#0094ff,#0090ff,#008cff,#0089ff,#0087ff,#0086ff,#0085ff,#0086ff,#0087ff,#0089ff,#008cff,#008fff,#0092ff,#0096ff,#009aff,#009eff,#00a1ff,#00a5ff,#00a9ff,#00adff,#00b1ff,#00b5ff,#00b8ff)"></i><i style="height:2px;background:linear-gradient(90deg,#0063ff,#0065ff,#0068ff,#006bff,#006dff,#0070ff,#0073ff,#0076ff,#0079ff,#007bff,#007eff,#0080ff,#0082ff,#0084ff,#0086ff,#0087ff,#0089ff,#008bff,#008dff,#0090ff,#0092ff,#0095ff,#0098ff,#009aff,#009cff,#009cff,#009aff,#0097ff,#0094ff,#0090ff,#008cff,#008aff,#0087ff,#0086ff,#0086ff,#0086ff,#0088ff,#008aff,#008dff,#0090ff,#0094ff,#0097ff,#009bff,#009fff,#00a2ff,#00a6ff,#00a9ff,#00adff,#00b1ff,#00b5ff,#00b9ff)"></i><i style="height:2px;background:linear-gradient(90deg,#0060ff,#0062ff,#0064ff,#0067ff,#006aff,#006dff,#0070ff,#0073ff,#0076ff,#0079ff,#007bff,#007eff,#0080ff,#0082ff,#0084ff,#0086ff,#0088ff,#008aff,#008cff,#008fff,#0091ff,#0094ff,#0097ff,#009aff,#009bff,#009cff,#009aff,#0097ff,#0094ff,#0090ff,#008dff,#008aff,#0088ff,#0086ff,#0086ff,#0087ff,#0089ff,#008bff,#008eff,#0092ff,#0096ff,#0099ff,#009cff,#00a0ff,#00a3ff,#00a6ff,#00aaff,#00adff,#00b1ff,#00b5ff,#00baff)"></i><i style="height:2px;background:linear-gradient(90deg,#005cff,#005eff,#0061ff,#0064ff,#0067ff,#006aff,#006dff,#0070ff,#0073ff,#0076ff,#0079ff,#007cff,#007eff,#0080ff,#0082ff,#0085ff,#0087ff,#0089ff,#008bff,#008eff,#0091ff,#0094ff,#0097ff,#009aff,#009bff,#009bff,#009aff,#0097ff,#0094ff,#0090ff,#008dff,#008aff,#0088ff,#0087ff,#0086ff,#0087ff,#0089ff,#008cff,#0090ff,#0093ff,#0097ff,#009aff,#009dff,#00a0ff,#00a3ff,#00a6ff,#00aaff,#00adff,#00b1ff,#00b5ff,#00bbff)"></i><i style="height:2px;background:linear-gradient(90deg,#0059ff,#005bff,#005eff,#0060ff,#0063ff,#0066ff,#006aff,#006dff,#0070ff,#0073ff,#0076ff,#0079ff,#007cff,#007eff,#0081ff,#0083ff,#0085ff,#0088ff,#008aff,#008dff,#0090ff,#0093ff,#0096ff,#0099ff,#009bff,#009bff,#009aff,#0097ff,#0094ff,#0090ff,#008dff,#008aff,#0088ff,#0087ff,#0087ff,#0088ff,#008aff,#008dff,#0091ff,#0095ff,#0098ff,#009cff,#009eff,#00a1ff,#00a4ff,#00a7ff,#00aaff,#00adff,#00b1ff,#00b6ff,#00bbff)"></i><i style="height:2px;background:linear-gradient(90deg,#0056ff,#0058ff,#005aff,#005dff,#0060ff,#0063ff,#0067ff,#006aff,#006dff,#0071ff,#0074ff,#0077ff,#007aff,#007dff,#007fff,#0082ff,#0084ff,#0087ff,#0089ff,#008cff,#008fff,#0092ff,#0096ff,#0099ff,#009bff,#009bff,#009aff,#0097ff,#0094ff,#0090ff,#008dff,#008aff,#0088ff,#0087ff,#0087ff,#0088ff,#008aff,#008eff,#0092ff,#0096ff,#0099ff,#009dff,#009fff,#00a2ff,#00a4ff,#00a7ff,#00a9ff,#00adff,#00b1ff,#00b6ff,#00bcff)"></i><i style="height:2px;background:linear-gradient(90deg,#0052ff,#0054ff,#0057ff,#005aff,#005dff,#0060ff,#0063ff,#0067ff,#006aff,#006eff,#0071ff,#0075ff,#0078ff,#007bff,#007dff,#0080ff,#0083ff,#0085ff,#0088ff,#008bff,#008eff,#0092ff,#0095ff,#0098ff,#009aff,#009bff,#009aff,#0097ff,#0094ff,#0090ff,#008dff,#008aff,#0088ff,#0087ff,#0087ff,#0088ff,#008bff,#008eff,#0092ff,#0096ff,#009aff,#009dff,#00a0ff,#00a2ff,#00a4ff,#00a7ff,#00a9ff,#00adff,#00b1ff,#00b6ff,#00bcff)"></i><i style="height:2px;background:linear-gradient(90deg,#004fff,#0051ff,#0054ff,#0056ff,#005aff,#005dff,#0060ff,#0064ff,#0068ff,#006bff,#006fff,#0072ff,#0076ff,#0079ff,#007cff,#007fff,#0081ff,#0084ff,#0087ff,#008aff,#008dff,#0091ff,#0095ff,#0098ff,#009aff,#009bff,#009aff,#0097ff,#0094ff,#0090ff,#008dff,#008aff,#0088ff,#0087ff,#0087ff,#0088ff,#008bff,#008eff,#0092ff,#0097ff,#009bff,#009eff,#00a0ff,#00a2ff,#00a4ff,#00a7ff,#00a9ff,#00adff,#00b1ff,#00b6ff,#00bdff)"></i><i style="height:2px;background:linear-gradient(90deg,#004cff,#004eff,#0051ff,#0053ff,#0057ff,#005aff,#005dff,#0061ff,#0065ff,#0069ff,#006cff,#0070ff,#0074ff,#0077ff,#007aff,#007dff,#0080ff,#0083ff,#0086ff,#0089ff,#008cff,#0090ff,#0094ff,#0097ff,#0099ff,#009aff,#0099ff,#0097ff,#0094ff,#0090ff,#008dff,#008aff,#0088ff,#0086ff,#0086ff,#0088ff,#008aff,#008eff,#0092ff,#0097ff,#009bff,#009eff,#00a0ff,#00a2ff,#00a4ff,#00a6ff,#00a9ff,#00acff,#00b1ff,#00b6ff,#00bdff)"></i><i style="height:2px;background:linear-gradient(90deg,#004aff,#004cff,#004eff,#0051ff,#0054ff,#0057ff,#005bff,#005eff,#0062ff,#0066ff,#006aff,#006eff,#0071ff,#0075ff,#0078ff,#007cff,#007fff,#0082ff,#0085ff,#0088ff,#008bff,#008fff,#0093ff,#0097ff,#0099ff,#009aff,#0099ff,#0097ff,#0094ff,#0090ff,#008dff,#008aff,#0087ff,#0086ff,#0086ff,#0087ff,#008aff,#008eff,#0092ff,#0096ff,#009aff,#009dff,#00a0ff,#00a2ff,#00a4ff,#00a6ff,#00a9ff,#00acff,#00b1ff,#00b6ff,#00beff)"></i><i style="height:2px;background:linear-gradient(90deg,#0048ff,#0049ff,#004cff,#004eff,#0051ff,#0055ff,#0058ff,#005cff,#0060ff,#0064ff,#0068ff,#006cff,#006fff,#0073ff,#0077ff,#007aff,#007dff,#0080ff,#0084ff,#0087ff,#008aff,#008eff,#0092ff,#0096ff,#0098ff,#0099ff,#0099ff,#0097ff,#0094ff,#0090ff,#008cff,#0089ff,#0087ff,#0086ff,#0085ff,#0086ff,#0089ff,#008dff,#0091ff,#0096ff,#009aff,#009dff,#009fff,#00a2ff,#00a4ff,#00a6ff,#00a9ff,#00acff,#00b1ff,#00b7ff,#00beff)"></i><i style="height:2px;background:linear-gradient(90deg,#0046ff,#0047ff,#004aff,#004cff,#004fff,#0052ff,#0056ff,#005aff,#005eff,#0062ff,#0066ff,#006aff,#006eff,#0072ff,#0075ff,#0079ff,#007cff,#007fff,#0082ff,#0086ff,#0089ff,#008eff,#0092ff,#0095ff,#0098ff,#0099ff,#0098ff,#0096ff,#0093ff,#0090ff,#008cff,#0089ff,#0087ff,#0085ff,#0085ff,#0085ff,#0088ff,#008cff,#0090ff,#0094ff,#0098ff,#009cff,#009eff,#00a1ff,#00a3ff,#00a5ff,#00a8ff,#00acff,#00b1ff,#00b7ff,#00beff)"></i><i style="height:2px;background:linear-gradient(90deg,#0044ff,#0046ff,#0048ff,#004bff,#004dff,#0051ff,#0054ff,#0058ff,#005cff,#0060ff,#0064ff,#0068ff,#006cff,#0070ff,#0074ff,#0078ff,#007bff,#007eff,#0081ff,#0085ff,#0089ff,#008dff,#0091ff,#0094ff,#0097ff,#0098ff,#0098ff,#0096ff,#0093ff,#0090ff,#008cff,#0089ff,#0086ff,#0084ff,#0083ff,#0084ff,#0086ff,#008aff,#008eff,#0092ff,#0097ff,#009aff,#009dff,#00a0ff,#00a2ff,#00a5ff,#00a8ff,#00acff,#00b1ff,#00b7ff,#00bfff)"></i><i style="height:2px;background:linear-gradient(90deg,#0043ff,#0045ff,#0047ff,#0049ff,#004cff,#004fff,#0052ff,#0056ff,#005aff,#005eff,#0062ff,#0066ff,#006aff,#006eff,#0072ff,#0076ff,#007aff,#007dff,#0080ff,#0084ff,#0088ff,#008cff,#0090ff,#0093ff,#0096ff,#0097ff,#0097ff,#0095ff,#0093ff,#008fff,#008cff,#0088ff,#0085ff,#0083ff,#0082ff,#0083ff,#0085ff,#0088ff,#008cff,#0090ff,#0094ff,#0098ff,#009bff,#009eff,#00a1ff,#00a4ff,#00a8ff,#00acff,#00b1ff,#00b7ff,#00bfff)"></i><i style="height:2px;background:linear-gradient(90deg,#0042ff,#0044ff,#0046ff,#0048ff,#004bff,#004eff,#0051ff,#0054ff,#0058ff,#005cff,#0060ff,#0064ff,#0069ff,#006dff,#0071ff,#0075ff,#0079ff,#007cff,#007fff,#0083ff,#0087ff,#008bff,#008fff,#0093ff,#0095ff,#0097ff,#0096ff,#0095ff,#0092ff,#008fff,#008bff,#0087ff,#0084ff,#0082ff,#0081ff,#0081ff,#0082ff,#0085ff,#0089ff,#008eff,#0092ff,#0096ff,#0099ff,#009cff,#00a0ff,#00a3ff,#00a7ff,#00acff,#00b1ff,#00b7ff,#00bfff)"></i><i style="height:2px;background:linear-gradient(90deg,#0042ff,#0043ff,#0045ff,#0048ff,#004aff,#004dff,#0050ff,#0053ff,#0057ff,#005bff,#005fff,#0063ff,#0067ff,#006cff,#0070ff,#0074ff,#0078ff,#007bff,#007eff,#0082ff,#0086ff,#008aff,#008eff,#0092ff,#0094ff,#0096ff,#0096ff,#0094ff,#0091ff,#008eff,#008aff,#0087ff,#0083ff,#0080ff,#007fff,#007fff,#0080ff,#0083ff,#0086ff,#008bff,#008fff,#0093ff,#0097ff,#009aff,#009eff,#00a2ff,#00a7ff,#00abff,#00b1ff,#00b7ff,#00bfff)"></i><i style="height:2px;background:linear-gradient(90deg,#0042ff,#0043ff,#0045ff,#0047ff,#0049ff,#004cff,#004fff,#0052ff,#0056ff,#0059ff,#005dff,#0062ff,#0066ff,#006aff,#006fff,#0073ff,#0076ff,#007aff,#007dff,#0081ff,#0085ff,#0089ff,#008dff,#0091ff,#0093ff,#0095ff,#0095ff,#0093ff,#0091ff,#008dff,#0089ff,#0085ff,#0082ff,#007fff,#007dff,#007cff,#007dff,#0080ff,#0083ff,#0087ff,#008cff,#0090ff,#0094ff,#0098ff,#009dff,#00a1ff,#00a6ff,#00abff,#00b1ff,#00b7ff,#00beff)"></i><i style="height:2px;background:linear-gradient(90deg,#0042ff,#0043ff,#0045ff,#0047ff,#0049ff,#004cff,#004eff,#0051ff,#0055ff,#0058ff,#005cff,#0060ff,#0065ff,#0069ff,#006dff,#0072ff,#0075ff,#0079ff,#007cff,#0080ff,#0084ff,#0088ff,#008cff,#0090ff,#0092ff,#0094ff,#0094ff,#0092ff,#0090ff,#008cff,#0088ff,#0084ff,#0080ff,#007dff,#007bff,#007aff,#007aff,#007dff,#0080ff,#0084ff,#0088ff,#008dff,#0091ff,#0096ff,#009bff,#00a0ff,#00a5ff,#00abff,#00b0ff,#00b7ff,#00beff)"></i><i style="height:2px;background:linear-gradient(90deg,#0042ff,#0044ff,#0045ff,#0047ff,#0049ff,#004cff,#004eff,#0051ff,#0054ff,#0058ff,#005bff,#005fff,#0064ff,#0068ff,#006cff,#0070ff,#0074ff,#0078ff,#007bff,#007fff,#0083ff,#0087ff,#008bff,#008fff,#0091ff,#0093ff,#0093ff,#0091ff,#008eff,#008bff,#0087ff,#0082ff,#007eff,#007bff,#0078ff,#0077ff,#0077ff,#0079ff,#007cff,#0080ff,#0085ff,#008aff,#008eff,#0094ff,#0099ff,#009eff,#00a4ff,#00aaff,#00b0ff,#00b6ff,#00bdff)"></i><i style="height:2px;background:linear-gradient(90deg,#0043ff,#0045ff,#0046ff,#0048ff,#004aff,#004cff,#004eff,#0051ff,#0054ff,#0057ff,#005bff,#005fff,#0063ff,#0067ff,#006bff,#006fff,#0073ff,#0077ff,#007aff,#007eff,#0082ff,#0086ff,#008aff,#008eff,#0090ff,#0092ff,#0091ff,#0090ff,#008dff,#0089ff,#0085ff,#0080ff,#007cff,#0078ff,#0075ff,#0074ff,#0074ff,#0076ff,#0079ff,#007dff,#0081ff,#0086ff,#008bff,#0091ff,#0097ff,#009dff,#00a3ff,#00a9ff,#00afff,#00b6ff,#00bcff)"></i><i style="height:2px;background:linear-gradient(90deg,#0044ff,#0046ff,#0047ff,#0048ff,#004aff,#004cff,#004eff,#0051ff,#0053ff,#0057ff,#005aff,#005eff,#0062ff,#0066ff,#006aff,#006eff,#0072ff,#0076ff,#0079ff,#007dff,#0081ff,#0085ff,#0089ff,#008dff,#008fff,#0090ff,#0090ff,#008eff,#008bff,#0087ff,#0083ff,#007eff,#007aff,#0075ff,#0072ff,#0071ff,#0071ff,#0072ff,#0075ff,#0079ff,#007dff,#0083ff,#0088ff,#008eff,#0095ff,#009bff,#00a1ff,#00a8ff,#00aeff,#00b5ff,#00baff)"></i><i style="height:2px;background:linear-gradient(90deg,#0046ff,#0047ff,#0048ff,#0049ff,#004bff,#004cff,#004eff,#0051ff,#0053ff,#0056ff,#005aff,#005dff,#0061ff,#0065ff,#0069ff,#006dff,#0071ff,#0074ff,#0078ff,#007cff,#0080ff,#0084ff,#0088ff,#008cff,#008eff,#008fff,#008fff,#008cff,#0089ff,#0085ff,#0080ff,#007bff,#0077ff,#0072ff,#006fff,#006dff,#006dff,#006eff,#0071ff,#0075ff,#007aff,#007fff,#0085ff,#008cff,#0092ff,#0099ff,#00a0ff,#00a7ff,#00adff,#00b3ff,#00b9ff)"></i><i style="height:2px;background:linear-gradient(90deg,#0047ff,#0048ff,#0049ff,#004aff,#004cff,#004dff,#004fff,#0051ff,#0054ff,#0056ff,#0059ff,#005dff,#0060ff,#0064ff,#0068ff,#006cff,#006fff,#0073ff,#0077ff,#007bff,#007fff,#0083ff,#0087ff,#008bff,#008dff,#008eff,#008dff,#008aff,#0087ff,#0082ff,#007dff,#0078ff,#0073ff,#006fff,#006cff,#006aff,#006aff,#006bff,#006eff,#0071ff,#0076ff,#007cff,#0082ff,#0089ff,#0090ff,#0097ff,#009eff,#00a5ff,#00abff,#00b2ff,#00b7ff)"></i><i style="height:2px;background:linear-gradient(90deg,#0049ff,#004aff,#004bff,#004cff,#004dff,#004eff,#0050ff,#0052ff,#0054ff,#0056ff,#0059ff,#005cff,#0060ff,#0063ff,#0067ff,#006aff,#006eff,#0072ff,#0076ff,#007aff,#007eff,#0082ff,#0086ff,#0089ff,#008cff,#008cff,#008bff,#0088ff,#0084ff,#007fff,#007aff,#0075ff,#0070ff,#006cff,#0068ff,#0066ff,#0066ff,#0067ff,#006aff,#006eff,#0073ff,#0078ff,#007fff,#0086ff,#008dff,#0095ff,#009cff,#00a3ff,#00aaff,#00b0ff,#00b5ff)"></i><i style="height:2px;background:linear-gradient(90deg,#004bff,#004cff,#004cff,#004dff,#004eff,#004fff,#0051ff,#0053ff,#0055ff,#0057ff,#0059ff,#005cff,#005fff,#0062ff,#0066ff,#0069ff,#006dff,#0070ff,#0074ff,#0078ff,#007dff,#0081ff,#0085ff,#0088ff,#008bff,#008bff,#0089ff,#0086ff,#0082ff,#007cff,#0077ff,#0071ff,#006cff,#0068ff,#0065ff,#0063ff,#0063ff,#0064ff,#0067ff,#006aff,#006fff,#0075ff,#007cff,#0083ff,#008bff,#0092ff,#009aff,#00a1ff,#00a8ff,#00adff,#00b2ff)"></i><i style="height:2px;background:linear-gradient(90deg,#004eff,#004eff,#004eff,#004fff,#004fff,#0051ff,#0052ff,#0053ff,#0055ff,#0057ff,#005aff,#005cff,#005fff,#0062ff,#0065ff,#0068ff,#006bff,#006fff,#0073ff,#0077ff,#007cff,#0080ff,#0084ff,#0088ff,#008aff,#008aff,#0088ff,#0084ff,#007fff,#0079ff,#0073ff,#006eff,#0069ff,#0064ff,#0061ff,#005fff,#005fff,#0061ff,#0063ff,#0067ff,#006dff,#0073ff,#0079ff,#0081ff,#0088ff,#0090ff,#0098ff,#009fff,#00a5ff,#00abff,#00b0ff)"></i><i style="height:2px;background:linear-gradient(90deg,#0050ff,#0050ff,#0050ff,#0050ff,#0051ff,#0052ff,#0053ff,#0055ff,#0056ff,#0058ff,#005aff,#005cff,#005eff,#0061ff,#0064ff,#0067ff,#006aff,#006eff,#0072ff,#0076ff,#007bff,#007fff,#0083ff,#0087ff,#0089ff,#0088ff,#0086ff,#0082ff,#007cff,#0076ff,#0070ff,#006aff,#0065ff,#0061ff,#005eff,#005cff,#005cff,#005eff,#0061ff,#0065ff,#006aff,#0070ff,#0077ff,#007eff,#0086ff,#008eff,#0096ff,#009dff,#00a3ff,#00a9ff,#00aeff)"></i><i style="height:2px;background:linear-gradient(90deg,#0052ff,#0052ff,#0052ff,#0052ff,#0053ff,#0053ff,#0054ff,#0056ff,#0057ff,#0059ff,#005bff,#005cff,#005eff,#0061ff,#0063ff,#0066ff,#0069ff,#006dff,#0071ff,#0075ff,#007aff,#007fff,#0083ff,#0086ff,#0088ff,#0087ff,#0085ff,#0080ff,#007aff,#0073ff,#006dff,#0067ff,#0062ff,#005eff,#005bff,#005aff,#005aff,#005bff,#005eff,#0062ff,#0068ff,#006eff,#0075ff,#007cff,#0084ff,#008cff,#0094ff,#009bff,#00a1ff,#00a7ff,#00acff)"></i><i style="height:2px;background:linear-gradient(90deg,#0055ff,#0054ff,#0054ff,#0054ff,#0054ff,#0055ff,#0056ff,#0057ff,#0058ff,#005aff,#005bff,#005dff,#005fff,#0060ff,#0063ff,#0065ff,#0069ff,#006cff,#0070ff,#0075ff,#0079ff,#007eff,#0082ff,#0085ff,#0087ff,#0087ff,#0083ff,#007eff,#0078ff,#0071ff,#006aff,#0064ff,#005fff,#005bff,#0059ff,#0057ff,#0058ff,#0059ff,#005dff,#0061ff,#0066ff,#006cff,#0073ff,#007bff,#0083ff,#008aff,#0092ff,#0099ff,#00a0ff,#00a5ff,#00aaff)"></i><i style="height:2px;background:linear-gradient(90deg,#0058ff,#0057ff,#0056ff,#0056ff,#0056ff,#0057ff,#0058ff,#0059ff,#005aff,#005bff,#005cff,#005eff,#005fff,#0061ff,#0063ff,#0065ff,#0068ff,#006cff,#0070ff,#0074ff,#0079ff,#007eff,#0082ff,#0085ff,#0087ff,#0086ff,#0083ff,#007dff,#0076ff,#006fff,#0068ff,#0062ff,#005dff,#0059ff,#0057ff,#0056ff,#0056ff,#0058ff,#005bff,#0060ff,#0065ff,#006bff,#0072ff,#007aff,#0082ff,#0089ff,#0091ff,#0098ff,#009eff,#00a4ff,#00a8ff)"></i><i style="height:2px;background:linear-gradient(90deg,#005aff,#0059ff,#0058ff,#0058ff,#0058ff,#0058ff,#0059ff,#005aff,#005bff,#005cff,#005dff,#005eff,#0060ff,#0061ff,#0063ff,#0065ff,#0068ff,#006cff,#0070ff,#0074ff,#0079ff,#007eff,#0082ff,#0085ff,#0086ff,#0086ff,#0082ff,#007cff,#0075ff,#006eff,#0066ff,#0060ff,#005cff,#0058ff,#0056ff,#0055ff,#0056ff,#0058ff,#005bff,#005fff,#0065ff,#006bff,#0072ff,#0079ff,#0081ff,#0089ff,#0090ff,#0097ff,#009dff,#00a2ff,#00a7ff)"></i><i style="height:2px;background:linear-gradient(90deg,#005dff,#005cff,#005bff,#005aff,#005aff,#005aff,#005bff,#005cff,#005dff,#005eff,#005fff,#005fff,#0060ff,#0062ff,#0063ff,#0065ff,#0068ff,#006cff,#0070ff,#0074ff,#0079ff,#007eff,#0082ff,#0085ff,#0087ff,#0086ff,#0082ff,#007cff,#0075ff,#006dff,#0066ff,#0060ff,#005bff,#0058ff,#0055ff,#0055ff,#0056ff,#0058ff,#005bff,#005fff,#0065ff,#006bff,#0072ff,#0079ff,#0081ff,#0089ff,#0090ff,#0097ff,#009dff,#00a2ff,#00a6ff)"></i><i style="height:2px;background:linear-gradient(90deg,#0060ff,#005eff,#005dff,#005cff,#005cff,#005cff,#005dff,#005dff,#005eff,#005fff,#0060ff,#0061ff,#0062ff,#0063ff,#0064ff,#0066ff,#0069ff,#006cff,#0070ff,#0075ff,#0079ff,#007eff,#0082ff,#0085ff,#0087ff,#0086ff,#0082ff,#007cff,#0075ff,#006dff,#0066ff,#0060ff,#005bff,#0058ff,#0056ff,#0056ff,#0056ff,#0059ff,#005cff,#0060ff,#0066ff,#006cff,#0073ff,#007aff,#0082ff,#0089ff,#0090ff,#0097ff,#009dff,#00a2ff,#00a5ff)"></i><i style="height:2px;background:linear-gradient(90deg,#0062ff,#0060ff,#005fff,#005eff,#005eff,#005eff,#005eff,#005fff,#0060ff,#0061ff,#0061ff,#0062ff,#0063ff,#0064ff,#0065ff,#0067ff,#006aff,#006dff,#0071ff,#0076ff,#007aff,#007fff,#0083ff,#0086ff,#0088ff,#0087ff,#0083ff,#007dff,#0076ff,#006fff,#0068ff,#0062ff,#005dff,#005aff,#0058ff,#0057ff,#0058ff,#005aff,#005eff,#0062ff,#0068ff,#006eff,#0075ff,#007cff,#0083ff,#008bff,#0092ff,#0098ff,#009eff,#00a2ff,#00a6ff)"></i><i style="height:2px;background:linear-gradient(90deg,#0065ff,#0063ff,#0061ff,#0060ff,#0060ff,#0060ff,#0060ff,#0061ff,#0061ff,#0062ff,#0063ff,#0064ff,#0065ff,#0066ff,#0067ff,#0069ff,#006cff,#006fff,#0073ff,#0077ff,#007bff,#0080ff,#0084ff,#0087ff,#0089ff,#0088ff,#0085ff,#007fff,#0078ff,#0071ff,#006aff,#0064ff,#0060ff,#005cff,#005bff,#005aff,#005bff,#005dff,#0061ff,#0065ff,#006aff,#0071ff,#0077ff,#007eff,#0085ff,#008dff,#0093ff,#009aff,#009fff,#00a4ff,#00a7ff)"></i><i style="height:2px;background:linear-gradient(90deg,#0068ff,#0065ff,#0064ff,#0062ff,#0062ff,#0062ff,#0062ff,#0062ff,#0063ff,#0064ff,#0065ff,#0066ff,#0067ff,#0068ff,#0069ff,#006bff,#006eff,#0071ff,#0074ff,#0078ff,#007dff,#0081ff,#0085ff,#0088ff,#008aff,#008aff,#0086ff,#0081ff,#007bff,#0074ff,#006dff,#0068ff,#0063ff,#0060ff,#005eff,#005eff,#005eff,#0061ff,#0064ff,#0068ff,#006eff,#0074ff,#007aff,#0081ff,#0088ff,#008fff,#0096ff,#009cff,#00a1ff,#00a5ff,#00a8ff)"></i><i style="height:2px;background:linear-gradient(90deg,#006aff,#0068ff,#0066ff,#0065ff,#0064ff,#0064ff,#0064ff,#0064ff,#0065ff,#0066ff,#0067ff,#0068ff,#0069ff,#006aff,#006cff,#006eff,#0070ff,#0073ff,#0077ff,#007aff,#007eff,#0083ff,#0087ff,#008aff,#008cff,#008cff,#0089ff,#0084ff,#007eff,#0078ff,#0071ff,#006cff,#0067ff,#0064ff,#0062ff,#0062ff,#0063ff,#0065ff,#0068ff,#006cff,#0072ff,#0077ff,#007eff,#0085ff,#008bff,#0092ff,#0099ff,#009eff,#00a3ff,#00a7ff,#00aaff)"></i><i style="height:2px;background:linear-gradient(90deg,#006dff,#006aff,#0068ff,#0067ff,#0066ff,#0066ff,#0066ff,#0066ff,#0067ff,#0068ff,#0069ff,#006aff,#006bff,#006dff,#006fff,#0071ff,#0073ff,#0076ff,#0079ff,#007dff,#0081ff,#0085ff,#0089ff,#008cff,#008eff,#008eff,#008bff,#0087ff,#0082ff,#007cff,#0076ff,#0071ff,#006cff,#0069ff,#0067ff,#0066ff,#0067ff,#0069ff,#006dff,#0071ff,#0076ff,#007cff,#0082ff,#0089ff,#008fff,#0096ff,#009cff,#00a1ff,#00a6ff,#00aaff,#00adff)"></i><i style="height:2px;background:linear-gradient(90deg,#006fff,#006cff,#006aff,#0069ff,#0068ff,#0068ff,#0068ff,#0068ff,#0069ff,#006aff,#006bff,#006dff,#006eff,#0070ff,#0072ff,#0074ff,#0076ff,#0079ff,#007cff,#007fff,#0083ff,#0087ff,#008bff,#008eff,#0090ff,#0090ff,#008eff,#008bff,#0086ff,#0080ff,#007bff,#0076ff,#0072ff,#006eff,#006cff,#006cff,#006cff,#006eff,#0072ff,#0076ff,#007bff,#0080ff,#0086ff,#008dff,#0093ff,#0099ff,#009fff,#00a5ff,#00a9ff,#00adff,#00b0ff)"></i><i style="height:2px;background:linear-gradient(90deg,#0071ff,#006fff,#006dff,#006bff,#006aff,#006aff,#006aff,#006bff,#006cff,#006dff,#006eff,#0070ff,#0071ff,#0073ff,#0075ff,#0077ff,#007aff,#007cff,#007fff,#0082ff,#0086ff,#008aff,#008eff,#0091ff,#0093ff,#0093ff,#0092ff,#008eff,#008aff,#0085ff,#0080ff,#007bff,#0077ff,#0074ff,#0072ff,#0071ff,#0072ff,#0074ff,#0077ff,#007bff,#0080ff,#0085ff,#008bff,#0091ff,#0097ff,#009dff,#00a3ff,#00a8ff,#00adff,#00b0ff,#00b3ff)"></i><i style="height:2px;background:linear-gradient(90deg,#0074ff,#0071ff,#006fff,#006eff,#006dff,#006cff,#006dff,#006dff,#006eff,#006fff,#0071ff,#0073ff,#0075ff,#0077ff,#0079ff,#007bff,#007eff,#0080ff,#0083ff,#0086ff,#0089ff,#008dff,#0091ff,#0094ff,#0096ff,#0097ff,#0095ff,#0092ff,#008fff,#008aff,#0085ff,#0081ff,#007dff,#007aff,#0078ff,#0077ff,#0078ff,#007aff,#007cff,#0080ff,#0085ff,#008aff,#0090ff,#0096ff,#009cff,#00a2ff,#00a7ff,#00acff,#00b0ff,#00b4ff,#00b6ff)"></i><i style="height:2px;background:linear-gradient(90deg,#0076ff,#0073ff,#0071ff,#0070ff,#006fff,#006fff,#006fff,#0070ff,#0071ff,#0072ff,#0074ff,#0076ff,#0078ff,#007bff,#007dff,#0080ff,#0082ff,#0084ff,#0087ff,#008aff,#008dff,#0090ff,#0094ff,#0097ff,#0099ff,#009aff,#0099ff,#0097ff,#0093ff,#008fff,#008bff,#0087ff,#0083ff,#0080ff,#007eff,#007dff,#007eff,#007fff,#0082ff,#0086ff,#008aff,#0090ff,#0095ff,#009bff,#00a0ff,#00a6ff,#00abff,#00b0ff,#00b4ff,#00b7ff,#00baff)"></i><i style="height:2px;background:linear-gradient(90deg,#0078ff,#0075ff,#0074ff,#0072ff,#0072ff,#0072ff,#0072ff,#0073ff,#0074ff,#0076ff,#0078ff,#007aff,#007cff,#007fff,#0081ff,#0084ff,#0086ff,#0089ff,#008bff,#008eff,#0091ff,#0094ff,#0098ff,#009bff,#009dff,#009eff,#009dff,#009bff,#0098ff,#0094ff,#0090ff,#008dff,#0089ff,#0086ff,#0084ff,#0083ff,#0084ff,#0085ff,#0088ff,#008cff,#0090ff,#0095ff,#009aff,#009fff,#00a5ff,#00aaff,#00afff,#00b4ff,#00b8ff,#00bbff,#00bdff)"></i><i style="height:2px;background:linear-gradient(90deg,#007aff,#0078ff,#0076ff,#0075ff,#0074ff,#0074ff,#0075ff,#0076ff,#0077ff,#0079ff,#007bff,#007eff,#0081ff,#0083ff,#0086ff,#0089ff,#008bff,#008dff,#0090ff,#0092ff,#0095ff,#0098ff,#009cff,#009fff,#00a1ff,#00a2ff,#00a1ff,#009fff,#009dff,#0099ff,#0096ff,#0092ff,#008fff,#008cff,#008aff,#0089ff,#008aff,#008bff,#008eff,#0091ff,#0095ff,#009aff,#009fff,#00a4ff,#00a9ff,#00aeff,#00b3ff,#00b7ff,#00bbff,#00bfff,#00c1ff)"></i><i style="height:2px;background:linear-gradient(90deg,#007cff,#007aff,#0078ff,#0077ff,#0077ff,#0077ff,#0078ff,#0079ff,#007bff,#007dff,#007fff,#0082ff,#0085ff,#0088ff,#008bff,#008dff,#0090ff,#0092ff,#0095ff,#0097ff,#009aff,#009dff,#00a0ff,#00a3ff,#00a5ff,#00a6ff,#00a5ff,#00a4ff,#00a1ff,#009eff,#009bff,#0097ff,#0094ff,#0092ff,#0090ff,#008fff,#0090ff,#0091ff,#0094ff,#0097ff,#009bff,#009fff,#00a4ff,#00a8ff,#00adff,#00b2ff,#00b7ff,#00bbff,#00bfff,#00c2ff,#00c5ff)"></i><i style="height:2px;background:linear-gradient(90deg,#007eff,#007cff,#007bff,#007aff,#007aff,#007aff,#007bff,#007dff,#007fff,#0081ff,#0084ff,#0086ff,#0089ff,#008dff,#0090ff,#0092ff,#0095ff,#0097ff,#009aff,#009cff,#009fff,#00a2ff,#00a5ff,#00a7ff,#00a9ff,#00aaff,#00a9ff,#00a8ff,#00a5ff,#00a2ff,#009fff,#009cff,#0099ff,#0097ff,#0096ff,#0095ff,#0096ff,#0097ff,#0099ff,#009cff,#00a0ff,#00a4ff,#00a8ff,#00adff,#00b1ff,#00b6ff,#00baff,#00beff,#00c2ff,#00c6ff,#00c9ff)"></i><i style="height:2px;background:linear-gradient(90deg,#0080ff,#007eff,#007dff,#007dff,#007dff,#007eff,#007fff,#0080ff,#0083ff,#0085ff,#0088ff,#008bff,#008eff,#0091ff,#0095ff,#0097ff,#009aff,#009dff,#009fff,#00a1ff,#00a4ff,#00a7ff,#00aaff,#00acff,#00aeff,#00aeff,#00aeff,#00acff,#00aaff,#00a7ff,#00a4ff,#00a1ff,#009eff,#009cff,#009bff,#009bff,#009bff,#009dff,#009fff,#00a2ff,#00a5ff,#00a9ff,#00adff,#00b1ff,#00b5ff,#00baff,#00beff,#00c2ff,#00c6ff,#00c9ff,#00cdff)"></i><i style="height:2px;background:linear-gradient(90deg,#0081ff,#0080ff,#007fff,#007fff,#0080ff,#0081ff,#0082ff,#0084ff,#0087ff,#0089ff,#008cff,#008fff,#0093ff,#0096ff,#0099ff,#009cff,#009fff,#00a2ff,#00a4ff,#00a7ff,#00a9ff,#00acff,#00aeff,#00b1ff,#00b2ff,#00b3ff,#00b2ff,#00b0ff,#00aeff,#00abff,#00a8ff,#00a6ff,#00a3ff,#00a2ff,#00a0ff,#00a0ff,#00a1ff,#00a2ff,#00a4ff,#00a7ff,#00aaff,#00aeff,#00b1ff,#00b5ff,#00b9ff,#00bdff,#00c1ff,#00c5ff,#00c9ff,#00cdff,#00d1ff)"></i><i style="height:2px;background:linear-gradient(90deg,#0083ff,#0082ff,#0082ff,#0082ff,#0083ff,#0084ff,#0086ff,#0088ff,#008aff,#008dff,#0091ff,#0094ff,#0097ff,#009bff,#009eff,#00a1ff,#00a4ff,#00a7ff,#00a9ff,#00acff,#00aeff,#00b1ff,#00b3ff,#00b6ff,#00b7ff,#00b7ff,#00b6ff,#00b4ff,#00b2ff,#00afff,#00acff,#00aaff,#00a8ff,#00a6ff,#00a6ff,#00a6ff,#00a6ff,#00a8ff,#00aaff,#00acff,#00afff,#00b2ff,#00b6ff,#00b9ff,#00bdff,#00c1ff,#00c5ff,#00c9ff,#00cdff,#00d0ff,#00d4ff)"></i><i style="height:2px;background:linear-gradient(90deg,#0085ff,#0084ff,#0084ff,#0084ff,#0085ff,#0087ff,#0089ff,#008cff,#008eff,#0091ff,#0095ff,#0098ff,#009cff,#009fff,#00a3ff,#00a6ff,#00a9ff,#00acff,#00aeff,#00b1ff,#00b3ff,#00b6ff,#00b8ff,#00baff,#00bbff,#00bcff,#00baff,#00b8ff,#00b6ff,#00b3ff,#00b0ff,#00aeff,#00acff,#00abff,#00abff,#00abff,#00abff,#00adff,#00afff,#00b1ff,#00b4ff,#00b7ff,#00baff,#00bdff,#00c1ff,#00c4ff,#00c8ff,#00ccff,#00d0ff,#00d4ff,#00d8ff)"></i><i style="height:2px;background:linear-gradient(90deg,#0087ff,#0086ff,#0086ff,#0087ff,#0088ff,#008aff,#008cff,#008fff,#0092ff,#0095ff,#0099ff,#009cff,#00a0ff,#00a4ff,#00a7ff,#00aaff,#00adff,#00b0ff,#00b3ff,#00b6ff,#00b8ff,#00bbff,#00bdff,#00bfff,#00c0ff,#00c0ff,#00bfff,#00bcff,#00baff,#00b7ff,#00b4ff,#00b2ff,#00b1ff,#00b0ff,#00afff,#00b0ff,#00b0ff,#00b2ff,#00b4ff,#00b6ff,#00b9ff,#00bbff,#00beff,#00c1ff,#00c4ff,#00c8ff,#00cbff,#00cfff,#00d3ff,#00d7ff,#00dbff)"></i><i style="height:2px;background:linear-gradient(90deg,#0089ff,#0088ff,#0089ff,#008aff,#008bff,#008dff,#0090ff,#0093ff,#0096ff,#0099ff,#009dff,#00a0ff,#00a4ff,#00a7ff,#00abff,#00aeff,#00b2ff,#00b5ff,#00b8ff,#00baff,#00bdff,#00c0ff,#00c2ff,#00c4ff,#00c4ff,#00c4ff,#00c3ff,#00c0ff,#00beff,#00bbff,#00b8ff,#00b6ff,#00b5ff,#00b4ff,#00b4ff,#00b4ff,#00b5ff,#00b7ff,#00b8ff,#00bbff,#00bdff,#00c0ff,#00c2ff,#00c5ff,#00c8ff,#00cbff,#00cfff,#00d2ff,#00d6ff,#00daff,#00dfff)"></i><i style="height:2px;background:linear-gradient(90deg,#008aff,#008aff,#008bff,#008cff,#008eff,#0090ff,#0093ff,#0096ff,#0099ff,#009dff,#00a0ff,#00a4ff,#00a7ff,#00abff,#00afff,#00b2ff,#00b5ff,#00b9ff,#00bcff,#00bfff,#00c2ff,#00c4ff,#00c6ff,#00c8ff,#00c8ff,#00c8ff,#00c7ff,#00c4ff,#00c1ff,#00beff,#00bcff,#00baff,#00b8ff,#00b8ff,#00b8ff,#00b9ff,#00baff,#00bbff,#00bdff,#00bfff,#00c1ff,#00c4ff,#00c6ff,#00c9ff,#00ccff,#00cfff,#00d2ff,#00d5ff,#00d9ff,#00ddff,#00e2ff)"></i><i style="height:2px;background:linear-gradient(90deg,#008cff,#008cff,#008dff,#008eff,#0090ff,#0093ff,#0096ff,#0099ff,#009cff,#00a0ff,#00a3ff,#00a7ff,#00aaff,#00aeff,#00b2ff,#00b5ff,#00b9ff,#00bcff,#00bfff,#00c3ff,#00c6ff,#00c8ff,#00caff,#00ccff,#00ccff,#00ccff,#00caff,#00c8ff,#00c5ff,#00c2ff,#00bfff,#00bdff,#00bcff,#00bcff,#00bcff,#00bdff,#00beff,#00bfff,#00c1ff,#00c3ff,#00c5ff,#00c8ff,#00caff,#00cdff,#00cfff,#00d2ff,#00d5ff,#00d9ff,#00dcff,#00e0ff,#00e5ff)"></i><i style="height:2px;background:linear-gradient(90deg,#008eff,#008eff,#008fff,#0091ff,#0093ff,#0095ff,#0098ff,#009cff,#009fff,#00a3ff,#00a6ff,#00aaff,#00adff,#00b1ff,#00b4ff,#00b8ff,#00bbff,#00bfff,#00c3ff,#00c6ff,#00c9ff,#00ccff,#00ceff,#00cfff,#00d0ff,#00cfff,#00ceff,#00cbff,#00c8ff,#00c5ff,#00c3ff,#00c1ff,#00c0ff,#00bfff,#00c0ff,#00c0ff,#00c2ff,#00c3ff,#00c5ff,#00c7ff,#00c9ff,#00ccff,#00ceff,#00d0ff,#00d3ff,#00d5ff,#00d8ff,#00dcff,#00dfff,#00e3ff,#00e8ff)"></i><i style="height:2px;background:linear-gradient(90deg,#0090ff,#0090ff,#0091ff,#0093ff,#0095ff,#0098ff,#009bff,#009eff,#00a1ff,#00a5ff,#00a8ff,#00acff,#00afff,#00b3ff,#00b6ff,#00baff,#00beff,#00c1ff,#00c5ff,#00c9ff,#00ccff,#00cfff,#00d1ff,#00d3ff,#00d3ff,#00d3ff,#00d1ff,#00cfff,#00ccff,#00c9ff,#00c6ff,#00c4ff,#00c3ff,#00c3ff,#00c3ff,#00c4ff,#00c5ff,#00c7ff,#00c9ff,#00cbff,#00cdff,#00cfff,#00d1ff,#00d4ff,#00d6ff,#00d9ff,#00dcff,#00dfff,#00e2ff,#00e6ff,#00eaff)"></i><i style="height:2px;background:linear-gradient(90deg,#0092ff,#0092ff,#0093ff,#0095ff,#0097ff,#009aff,#009dff,#00a0ff,#00a4ff,#00a7ff,#00aaff,#00aeff,#00b1ff,#00b4ff,#00b8ff,#00bbff,#00bfff,#00c3ff,#00c7ff,#00cbff,#00cfff,#00d2ff,#00d4ff,#00d6ff,#00d6ff,#00d6ff,#00d4ff,#00d2ff,#00cfff,#00ccff,#00c9ff,#00c8ff,#00c6ff,#00c6ff,#00c6ff,#00c7ff,#00c8ff,#00caff,#00ccff,#00ceff,#00d1ff,#00d3ff,#00d5ff,#00d7ff,#00daff,#00dcff,#00dfff,#00e2ff,#00e5ff,#00e9ff,#00edff)"></i><i style="height:2px;background:linear-gradient(90deg,#0094ff,#0094ff,#0095ff,#0097ff,#0099ff,#009cff,#009fff,#00a2ff,#00a5ff,#00a9ff,#00acff,#00afff,#00b2ff,#00b6ff,#00b9ff,#00bdff,#00c1ff,#00c5ff,#00c9ff,#00cdff,#00d1ff,#00d4ff,#00d7ff,#00d8ff,#00d9ff,#00d9ff,#00d7ff,#00d5ff,#00d2ff,#00cfff,#00cdff,#00cbff,#00caff,#00c9ff,#00c9ff,#00caff,#00cbff,#00cdff,#00cfff,#00d1ff,#00d4ff,#00d6ff,#00d8ff,#00dbff,#00ddff,#00dfff,#00e2ff,#00e5ff,#00e8ff,#00ebff,#00efff)"></i><i style="height:2px;background:linear-gradient(90deg,#0096ff,#0096ff,#0097ff,#0099ff,#009bff,#009eff,#00a1ff,#00a4ff,#00a7ff,#00aaff,#00adff,#00b0ff,#00b3ff,#00b7ff,#00baff,#00beff,#00c2ff,#00c6ff,#00cbff,#00cfff,#00d3ff,#00d6ff,#00d9ff,#00dbff,#00dcff,#00dbff,#00daff,#00d8ff,#00d5ff,#00d2ff,#00d0ff,#00ceff,#00cdff,#00ccff,#00ccff,#00cdff,#00ceff,#00d0ff,#00d2ff,#00d5ff,#00d7ff,#00d9ff,#00dcff,#00deff,#00e0ff,#00e3ff,#00e5ff,#00e8ff,#00eaff,#00edff,#00f1ff)"></i><i style="height:2px;background:linear-gradient(90deg,#0098ff,#0098ff,#0099ff,#009bff,#009dff,#009fff,#00a2ff,#00a5ff,#00a9ff,#00acff,#00afff,#00b2ff,#00b4ff,#00b7ff,#00baff,#00beff,#00c2ff,#00c7ff,#00ccff,#00d0ff,#00d5ff,#00d8ff,#00dbff,#00ddff,#00deff,#00deff,#00ddff,#00dbff,#00d8ff,#00d5ff,#00d3ff,#00d1ff,#00cfff,#00cfff,#00cfff,#00cfff,#00d0ff,#00d2ff,#00d5ff,#00d7ff,#00daff,#00dcff,#00dfff,#00e1ff,#00e3ff,#00e6ff,#00e8ff,#00eaff,#00edff,#00f0ff,#00f2ff)"></i><i style="height:2px;background:linear-gradient(90deg,#0099ff,#009aff,#009bff,#009cff,#009eff,#00a1ff,#00a4ff,#00a7ff,#00aaff,#00adff,#00b0ff,#00b2ff,#00b5ff,#00b8ff,#00bbff,#00bfff,#00c3ff,#00c8ff,#00cdff,#00d1ff,#00d6ff,#00daff,#00ddff,#00dfff,#00e0ff,#00e0ff,#00dfff,#00ddff,#00dbff,#00d8ff,#00d6ff,#00d4ff,#00d2ff,#00d1ff,#00d1ff,#00d1ff,#00d3ff,#00d5ff,#00d7ff,#00daff,#00ddff,#00dfff,#00e2ff,#00e4ff,#00e7ff,#00e9ff,#00ebff,#00edff,#00efff,#00f2ff,#00f4ff)"></i><i style="height:2px;background:linear-gradient(90deg,#009bff,#009bff,#009cff,#009eff,#00a0ff,#00a2ff,#00a5ff,#00a8ff,#00abff,#00aeff,#00b1ff,#00b3ff,#00b6ff,#00b8ff,#00bbff,#00bfff,#00c3ff,#00c8ff,#00cdff,#00d2ff,#00d7ff,#00dbff,#00deff,#00e0ff,#00e1ff,#00e2ff,#00e1ff,#00dfff,#00ddff,#00dbff,#00d9ff,#00d7ff,#00d5ff,#00d4ff,#00d3ff,#00d4ff,#00d5ff,#00d7ff,#00daff,#00dcff,#00dfff,#00e2ff,#00e5ff,#00e7ff,#00e9ff,#00ecff,#00eeff,#00f0ff,#00f2ff,#00f4ff,#00f5ff)"></i><i style="height:2px;background:linear-gradient(90deg,#009dff,#009dff,#009eff,#009fff,#00a1ff,#00a4ff,#00a6ff,#00a9ff,#00acff,#00afff,#00b1ff,#00b4ff,#00b6ff,#00b9ff,#00bbff,#00bfff,#00c4ff,#00c9ff,#00ceff,#00d3ff,#00d8ff,#00dcff,#00dfff,#00e1ff,#00e3ff,#00e3ff,#00e3ff,#00e2ff,#00e0ff,#00deff,#00dbff,#00d9ff,#00d7ff,#00d6ff,#00d5ff,#00d6ff,#00d7ff,#00d9ff,#00dcff,#00dfff,#00e2ff,#00e5ff,#00e7ff,#00eaff,#00ecff,#00eeff,#00f0ff,#00f2ff,#00f4ff,#00f5ff,#00f7ff)"></i><i style="height:2px;background:linear-gradient(90deg,#009eff,#009fff,#009fff,#00a1ff,#00a3ff,#00a5ff,#00a8ff,#00aaff,#00adff,#00b0ff,#00b2ff,#00b4ff,#00b6ff,#00b9ff,#00bcff,#00bfff,#00c4ff,#00c9ff,#00ceff,#00d4ff,#00d8ff,#00ddff,#00e0ff,#00e2ff,#00e4ff,#00e5ff,#00e4ff,#00e3ff,#00e2ff,#00e0ff,#00deff,#00dcff,#00daff,#00d8ff,#00d7ff,#00d8ff,#00d9ff,#00dbff,#00deff,#00e1ff,#00e4ff,#00e7ff,#00eaff,#00ecff,#00efff,#00f1ff,#00f3ff,#00f4ff,#00f6ff,#00f7ff,#00f8ff)"></i><i style="height:2px;background:linear-gradient(90deg,#00a0ff,#00a0ff,#00a1ff,#00a2ff,#00a4ff,#00a6ff,#00a9ff,#00acff,#00aeff,#00b1ff,#00b3ff,#00b5ff,#00b7ff,#00b9ff,#00bcff,#00c0ff,#00c4ff,#00c9ff,#00cfff,#00d4ff,#00d9ff,#00ddff,#00e1ff,#00e3ff,#00e5ff,#00e6ff,#00e6ff,#00e5ff,#00e4ff,#00e2ff,#00e0ff,#00deff,#00dcff,#00daff,#00d9ff,#00d9ff,#00dbff,#00ddff,#00e0ff,#00e3ff,#00e6ff,#00e9ff,#00ecff,#00efff,#00f1ff,#00f3ff,#00f5ff,#00f6ff,#00f7ff,#00f8ff,#00f9ff)"></i><i style="height:2px;background:linear-gradient(90deg,#00a1ff,#00a1ff,#00a2ff,#00a4ff,#00a5ff,#00a8ff,#00aaff,#00adff,#00afff,#00b2ff,#00b4ff,#00b6ff,#00b8ff,#00baff,#00bcff,#00c0ff,#00c4ff,#00c9ff,#00cfff,#00d4ff,#00d9ff,#00deff,#00e1ff,#00e4ff,#00e6ff,#00e7ff,#00e7ff,#00e7ff,#00e6ff,#00e4ff,#00e2ff,#00e0ff,#00deff,#00dcff,#00dbff,#00dbff,#00dcff,#00dfff,#00e1ff,#00e5ff,#00e8ff,#00ebff,#00eeff,#00f1ff,#00f3ff,#00f5ff,#00f7ff,#00f8ff,#00f9ff,#00faff,#00faff)"></i><i style="height:2px;background:linear-gradient(90deg,#00a3ff,#00a3ff,#00a3ff,#00a5ff,#00a7ff,#00a9ff,#00abff,#00aeff,#00b0ff,#00b3ff,#00b5ff,#00b7ff,#00b8ff,#00baff,#00bdff,#00c0ff,#00c5ff,#00caff,#00cfff,#00d5ff,#00daff,#00deff,#00e2ff,#00e4ff,#00e6ff,#00e8ff,#00e8ff,#00e8ff,#00e7ff,#00e6ff,#00e4ff,#00e2ff,#00e0ff,#00deff,#00ddff,#00ddff,#00deff,#00e0ff,#00e3ff,#00e6ff,#00eaff,#00edff,#00f0ff,#00f2ff,#00f5ff,#00f7ff,#00f8ff,#00faff,#00faff,#00fbff,#00fbff)"></i><i style="height:2px;background:linear-gradient(90deg,#00a4ff,#00a4ff,#00a5ff,#00a6ff,#00a8ff,#00aaff,#00acff,#00afff,#00b1ff,#00b4ff,#00b6ff,#00b8ff,#00b9ff,#00bbff,#00beff,#00c1ff,#00c5ff,#00caff,#00d0ff,#00d5ff,#00daff,#00deff,#00e2ff,#00e5ff,#00e7ff,#00e8ff,#00e9ff,#00e9ff,#00e8ff,#00e7ff,#00e6ff,#00e4ff,#00e2ff,#00e0ff,#00dfff,#00dfff,#00e0ff,#00e2ff,#00e5ff,#00e8ff,#00ebff,#00efff,#00f1ff,#00f4ff,#00f6ff,#00f8ff,#00faff,#00fbff,#00fbff,#00fcff,#00fbff)"></i><i style="height:2px;background:linear-gradient(90deg,#00a5ff,#00a5ff,#00a6ff,#00a7ff,#00a9ff,#00abff,#00aeff,#00b0ff,#00b3ff,#00b5ff,#00b7ff,#00b9ff,#00baff,#00bcff,#00bfff,#00c2ff,#00c6ff,#00cbff,#00d1ff,#00d6ff,#00dbff,#00dfff,#00e2ff,#00e5ff,#00e7ff,#00e8ff,#00e9ff,#00eaff,#00eaff,#00e9ff,#00e7ff,#00e6ff,#00e4ff,#00e2ff,#00e0ff,#00e0ff,#00e1ff,#00e3ff,#00e6ff,#00e9ff,#00edff,#00f0ff,#00f3ff,#00f5ff,#00f8ff,#00f9ff,#00fbff,#00fcff,#00fcff,#00fcff,#00fcff)"></i><i style="height:2px;background:linear-gradient(90deg,#00a5ff,#00a6ff,#00a6ff,#00a8ff,#00aaff,#00acff,#00afff,#00b1ff,#00b4ff,#00b6ff,#00b9ff,#00baff,#00bcff,#00beff,#00c0ff,#00c3ff,#00c7ff,#00ccff,#00d1ff,#00d6ff,#00dbff,#00dfff,#00e2ff,#00e5ff,#00e7ff,#00e9ff,#00eaff,#00eaff,#00eaff,#00eaff,#00e9ff,#00e7ff,#00e5ff,#00e3ff,#00e2ff,#00e2ff,#00e3ff,#00e5ff,#00e8ff,#00ebff,#00eeff,#00f1ff,#00f4ff,#00f6ff,#00f8ff,#00faff,#00fcff,#00fdff,#00fdff,#00fdff,#00fdff)"></i><i style="height:2px;background:linear-gradient(90deg,#00a6ff,#00a6ff,#00a7ff,#00a9ff,#00abff,#00adff,#00b0ff,#00b3ff,#00b6ff,#00b8ff,#00baff,#00bcff,#00beff,#00c0ff,#00c2ff,#00c5ff,#00c9ff,#00ceff,#00d2ff,#00d7ff,#00dbff,#00dfff,#00e2ff,#00e5ff,#00e7ff,#00e8ff,#00eaff,#00eaff,#00ebff,#00ebff,#00eaff,#00e8ff,#00e7ff,#00e5ff,#00e4ff,#00e4ff,#00e5ff,#00e6ff,#00e9ff,#00ecff,#00efff,#00f2ff,#00f5ff,#00f7ff,#00f9ff,#00fbff,#00fcff,#00fdff,#00fdff,#00feff,#00fdff)"></i><i style="height:2px;background:linear-gradient(90deg,#00a6ff,#00a7ff,#00a8ff,#00aaff,#00acff,#00afff,#00b1ff,#00b4ff,#00b7ff,#00baff,#00bcff,#00beff,#00c0ff,#00c2ff,#00c5ff,#00c7ff,#00cbff,#00cfff,#00d4ff,#00d8ff,#00dcff,#00dfff,#00e2ff,#00e5ff,#00e6ff,#00e8ff,#00e9ff,#00eaff,#00ebff,#00ebff,#00ebff,#00eaff,#00e8ff,#00e7ff,#00e6ff,#00e5ff,#00e6ff,#00e8ff,#00eaff,#00edff,#00f0ff,#00f3ff,#00f5ff,#00f7ff,#00f9ff,#00fbff,#00fcff,#00fdff,#00feff,#00feff,#00feff)"></i><i style="height:2px;background:linear-gradient(90deg,#00a6ff,#00a7ff,#00a8ff,#00aaff,#00adff,#00b0ff,#00b3ff,#00b6ff,#00b9ff,#00bcff,#00bfff,#00c1ff,#00c3ff,#00c5ff,#00c7ff,#00caff,#00ceff,#00d1ff,#00d5ff,#00d9ff,#00ddff,#00e0ff,#00e2ff,#00e4ff,#00e6ff,#00e7ff,#00e9ff,#00eaff,#00ebff,#00ecff,#00ebff,#00ebff,#00e9ff,#00e8ff,#00e7ff,#00e7ff,#00e8ff,#00eaff,#00ecff,#00eeff,#00f1ff,#00f3ff,#00f5ff,#00f7ff,#00f9ff,#00fbff,#00fcff,#00fdff,#00fdff,#00feff,#00feff)"></i><i style="height:2px;background:linear-gradient(90deg,#00a6ff,#00a7ff,#00a9ff,#00abff,#00aeff,#00b1ff,#00b5ff,#00b8ff,#00bcff,#00bfff,#00c2ff,#00c4ff,#00c6ff,#00c9ff,#00cbff,#00ceff,#00d1ff,#00d4ff,#00d7ff,#00dbff,#00deff,#00e0ff,#00e2ff,#00e4ff,#00e5ff,#00e7ff,#00e8ff,#00eaff,#00ebff,#00ecff,#00ecff,#00ebff,#00ebff,#00eaff,#00e9ff,#00e9ff,#00eaff,#00ebff,#00edff,#00efff,#00f2ff,#00f4ff,#00f5ff,#00f7ff,#00f9ff,#00faff,#00fbff,#00fcff,#00fdff,#00feff,#00feff)"></i><i style="height:1.4px;background:linear-gradient(90deg,#00a6ff,#00a7ff,#00a9ff,#00acff,#00afff,#00b2ff,#00b6ff,#00baff,#00beff,#00c1ff,#00c5ff,#00c7ff,#00caff,#00ccff,#00ceff,#00d1ff,#00d4ff,#00d7ff,#00daff,#00dcff,#00dfff,#00e1ff,#00e2ff,#00e3ff,#00e5ff,#00e6ff,#00e7ff,#00e9ff,#00eaff,#00ebff,#00ecff,#00ecff,#00ecff,#00ebff,#00ebff,#00ebff,#00ecff,#00edff,#00efff,#00f0ff,#00f2ff,#00f4ff,#00f5ff,#00f7ff,#00f8ff,#00f9ff,#00faff,#00fbff,#00fcff,#00feff,#00ffff)"></i></div><svg id="ov" width="675" height="907" viewBox="0 0 675 907" font-family="Liberation Sans, sans-serif">
<defs><linearGradient id="jet" x1="0" y1="0" x2="0" y2="1"><stop offset="0" stop-color="#800000"/><stop offset="0.125" stop-color="#ff0000"/><stop offset="0.375" stop-color="#ffff00"/><stop offset="0.625" stop-color="#00ffff"/><stop offset="0.875" stop-color="#0000ff"/><stop offset="1" stop-color="#000080"/></linearGradient></defs>
<text x="0.36" y="12.4" font-size="14.6" textLength="146.02" lengthAdjust="spacing" fill="#1a1a1a" stroke="#1a1a1a" stroke-width="0.4">(A) Betting Periods</text>
<text x="4.18" y="466.3" font-size="14.6" textLength="142.25" lengthAdjust="spacing" fill="#1a1a1a" stroke="#1a1a1a" stroke-width="0.4">(B) Calling Periods</text>
<text x="4.19" y="696.8" font-size="14.6" textLength="148.05" lengthAdjust="spacing" fill="#1a1a1a" stroke="#1a1a1a" stroke-width="0.4">(C) Judging Periods</text>
<text x="116.82" y="38.2" font-size="11.8" textLength="100.01" lengthAdjust="spacing" fill="#1a1a1a" stroke="#1a1a1a" stroke-width="0.35">Temporal cortex</text>
<text x="453.98" y="38.5" font-size="11.8" textLength="85.23" lengthAdjust="spacing" fill="#1a1a1a" stroke="#1a1a1a" stroke-width="0.35">Frontal cortex</text>
<text x="112.22" y="486.9" font-size="11.8" textLength="100.51" lengthAdjust="spacing" fill="#1a1a1a" stroke="#1a1a1a" stroke-width="0.35">Temporal cortex</text>
<text x="451.07" y="486.7" font-size="11.8" textLength="86.35" lengthAdjust="spacing" fill="#1a1a1a" stroke="#1a1a1a" stroke-width="0.35">Frontal cortex</text>
<text x="112.22" y="725.3" font-size="11.8" textLength="100.51" lengthAdjust="spacing" fill="#1a1a1a" stroke="#1a1a1a" stroke-width="0.35">Temporal cortex</text>
<text x="451.07" y="728" font-size="11.8" textLength="86.35" lengthAdjust="spacing" fill="#1a1a1a" stroke="#1a1a1a" stroke-width="0.35">Frontal cortex</text>
<rect x="232.4" y="44.2" width="18.2" height="198.8" fill="url(#jet)" stroke="#333" stroke-width="0.8"/>
<text x="251.5" y="47.15" font-size="8.3" fill="#2a2a2a" stroke="#2a2a2a" stroke-width="0.1">4</text>
<path d="M232.4 69.05h1.8M250.6 69.05h-1.8" stroke="#333" stroke-width="0.8"/>
<text x="251.5" y="72" font-size="8.3" fill="#2a2a2a" stroke="#2a2a2a" stroke-width="0.1">3</text>
<path d="M232.4 93.9h1.8M250.6 93.9h-1.8" stroke="#333" stroke-width="0.8"/>
<text x="251.5" y="96.85" font-size="8.3" fill="#2a2a2a" stroke="#2a2a2a" stroke-width="0.1">2</text>
<path d="M232.4 118.75h1.8M250.6 118.75h-1.8" stroke="#333" stroke-width="0.8"/>
<text x="251.5" y="121.7" font-size="8.3" fill="#2a2a2a" stroke="#2a2a2a" stroke-width="0.1">1</text>
<path d="M232.4 143.6h1.8M250.6 143.6h-1.8" stroke="#333" stroke-width="0.8"/>
<text x="251.5" y="146.55" font-size="8.3" fill="#2a2a2a" stroke="#2a2a2a" stroke-width="0.1">0</text>
<path d="M232.4 168.45h1.8M250.6 168.45h-1.8" stroke="#333" stroke-width="0.8"/>
<text x="251.5" y="171.4" font-size="8.3" fill="#2a2a2a" stroke="#2a2a2a" stroke-width="0.1">-1</text>
<path d="M232.4 193.3h1.8M250.6 193.3h-1.8" stroke="#333" stroke-width="0.8"/>
<text x="251.5" y="196.25" font-size="8.3" fill="#2a2a2a" stroke="#2a2a2a" stroke-width="0.1">-2</text>
<path d="M232.4 218.15h1.8M250.6 218.15h-1.8" stroke="#333" stroke-width="0.8"/>
<text x="251.5" y="221.1" font-size="8.3" fill="#2a2a2a" stroke="#2a2a2a" stroke-width="0.1">-3</text>
<text x="251.5" y="245.95" font-size="8.3" fill="#2a2a2a" stroke="#2a2a2a" stroke-width="0.1">-4</text>
<rect x="636.2" y="44.2" width="20.3" height="198.8" fill="url(#jet)" stroke="#333" stroke-width="0.8"/>
<text x="657.39" y="47.15" font-size="8.3" textLength="14.31" lengthAdjust="spacingAndGlyphs" fill="#2a2a2a" stroke="#2a2a2a" stroke-width="0.1">0.8</text>
<path d="M636.2 69.05h1.8M656.5 69.05h-1.8" stroke="#333" stroke-width="0.8"/>
<text x="657.39" y="72" font-size="8.3" textLength="14.31" lengthAdjust="spacingAndGlyphs" fill="#2a2a2a" stroke="#2a2a2a" stroke-width="0.1">0.6</text>
<path d="M636.2 93.9h1.8M656.5 93.9h-1.8" stroke="#333" stroke-width="0.8"/>
<text x="657.39" y="96.85" font-size="8.3" textLength="14.31" lengthAdjust="spacingAndGlyphs" fill="#2a2a2a" stroke="#2a2a2a" stroke-width="0.1">0.4</text>
<path d="M636.2 118.75h1.8M656.5 118.75h-1.8" stroke="#333" stroke-width="0.8"/>
<text x="657.39" y="121.7" font-size="8.3" textLength="14.31" lengthAdjust="spacingAndGlyphs" fill="#2a2a2a" stroke="#2a2a2a" stroke-width="0.1">0.2</text>
<path d="M636.2 143.6h1.8M656.5 143.6h-1.8" stroke="#333" stroke-width="0.8"/>
<text x="657.4" y="146.55" font-size="8.3" fill="#2a2a2a" stroke="#2a2a2a" stroke-width="0.1">0</text>
<path d="M636.2 168.45h1.8M656.5 168.45h-1.8" stroke="#333" stroke-width="0.8"/>
<text x="657.36" y="171.4" font-size="8.3" textLength="16.73" lengthAdjust="spacingAndGlyphs" fill="#2a2a2a" stroke="#2a2a2a" stroke-width="0.1">-0.2</text>
<path d="M636.2 193.3h1.8M656.5 193.3h-1.8" stroke="#333" stroke-width="0.8"/>
<text x="657.36" y="196.25" font-size="8.3" textLength="16.73" lengthAdjust="spacingAndGlyphs" fill="#2a2a2a" stroke="#2a2a2a" stroke-width="0.1">-0.4</text>
<path d="M636.2 218.15h1.8M656.5 218.15h-1.8" stroke="#333" stroke-width="0.8"/>
<text x="657.36" y="221.1" font-size="8.3" textLength="16.73" lengthAdjust="spacingAndGlyphs" fill="#2a2a2a" stroke="#2a2a2a" stroke-width="0.1">-0.6</text>
<text x="657.36" y="245.95" font-size="8.3" textLength="16.73" lengthAdjust="spacingAndGlyphs" fill="#2a2a2a" stroke="#2a2a2a" stroke-width="0.1">-0.8</text>
<rect x="231.3" y="491.9" width="18.3" height="170.1" fill="url(#jet)" stroke="#333" stroke-width="0.8"/>
<text x="250.5" y="494.85" font-size="8.3" fill="#2a2a2a" stroke="#2a2a2a" stroke-width="0.1">4</text>
<path d="M231.3 513.163h1.8M249.6 513.163h-1.8" stroke="#333" stroke-width="0.8"/>
<text x="250.5" y="516.113" font-size="8.3" fill="#2a2a2a" stroke="#2a2a2a" stroke-width="0.1">3</text>
<path d="M231.3 534.425h1.8M249.6 534.425h-1.8" stroke="#333" stroke-width="0.8"/>
<text x="250.5" y="537.375" font-size="8.3" fill="#2a2a2a" stroke="#2a2a2a" stroke-width="0.1">2</text>
<path d="M231.3 555.688h1.8M249.6 555.688h-1.8" stroke="#333" stroke-width="0.8"/>
<text x="250.5" y="558.638" font-size="8.3" fill="#2a2a2a" stroke="#2a2a2a" stroke-width="0.1">1</text>
<path d="M231.3 576.95h1.8M249.6 576.95h-1.8" stroke="#333" stroke-width="0.8"/>
<text x="250.5" y="579.9" font-size="8.3" fill="#2a2a2a" stroke="#2a2a2a" stroke-width="0.1">0</text>
<path d="M231.3 598.212h1.8M249.6 598.212h-1.8" stroke="#333" stroke-width="0.8"/>
<text x="250.5" y="601.163" font-size="8.3" fill="#2a2a2a" stroke="#2a2a2a" stroke-width="0.1">-1</text>
<path d="M231.3 619.475h1.8M249.6 619.475h-1.8" stroke="#333" stroke-width="0.8"/>
<text x="250.5" y="622.425" font-size="8.3" fill="#2a2a2a" stroke="#2a2a2a" stroke-width="0.1">-2</text>
<path d="M231.3 640.737h1.8M249.6 640.737h-1.8" stroke="#333" stroke-width="0.8"/>
<text x="250.5" y="643.688" font-size="8.3" fill="#2a2a2a" stroke="#2a2a2a" stroke-width="0.1">-3</text>
<text x="250.5" y="664.95" font-size="8.3" fill="#2a2a2a" stroke="#2a2a2a" stroke-width="0.1">-4</text>
<rect x="635.6" y="491.9" width="20.7" height="170.1" fill="url(#jet)" stroke="#333" stroke-width="0.8"/>
<text x="657.2" y="494.85" font-size="8.3" fill="#2a2a2a" stroke="#2a2a2a" stroke-width="0.1">4</text>
<path d="M635.6 513.163h1.8M656.3 513.163h-1.8" stroke="#333" stroke-width="0.8"/>
<text x="657.2" y="516.113" font-size="8.3" fill="#2a2a2a" stroke="#2a2a2a" stroke-width="0.1">3</text>
<path d="M635.6 534.425h1.8M656.3 534.425h-1.8" stroke="#333" stroke-width="0.8"/>
<text x="657.2" y="537.375" font-size="8.3" fill="#2a2a2a" stroke="#2a2a2a" stroke-width="0.1">2</text>
<path d="M635.6 555.688h1.8M656.3 555.688h-1.8" stroke="#333" stroke-width="0.8"/>
<text x="657.2" y="558.638" font-size="8.3" fill="#2a2a2a" stroke="#2a2a2a" stroke-width="0.1">1</text>
<path d="M635.6 576.95h1.8M656.3 576.95h-1.8" stroke="#333" stroke-width="0.8"/>
<text x="657.2" y="579.9" font-size="8.3" fill="#2a2a2a" stroke="#2a2a2a" stroke-width="0.1">0</text>
<path d="M635.6 598.212h1.8M656.3 598.212h-1.8" stroke="#333" stroke-width="0.8"/>
<text x="657.2" y="601.163" font-size="8.3" fill="#2a2a2a" stroke="#2a2a2a" stroke-width="0.1">-1</text>
<path d="M635.6 619.475h1.8M656.3 619.475h-1.8" stroke="#333" stroke-width="0.8"/>
<text x="657.2" y="622.425" font-size="8.3" fill="#2a2a2a" stroke="#2a2a2a" stroke-width="0.1">-2</text>
<path d="M635.6 640.737h1.8M656.3 640.737h-1.8" stroke="#333" stroke-width="0.8"/>
<text x="657.2" y="643.688" font-size="8.3" fill="#2a2a2a" stroke="#2a2a2a" stroke-width="0.1">-3</text>
<text x="657.2" y="664.95" font-size="8.3" fill="#2a2a2a" stroke="#2a2a2a" stroke-width="0.1">-4</text>
<rect x="231.2" y="729.9" width="18.5" height="172.2" fill="url(#jet)" stroke="#333" stroke-width="0.8"/>
<text x="250.6" y="732.85" font-size="8.3" fill="#2a2a2a" stroke="#2a2a2a" stroke-width="0.1">4</text>
<path d="M231.2 751.425h1.8M249.7 751.425h-1.8" stroke="#333" stroke-width="0.8"/>
<text x="250.6" y="754.375" font-size="8.3" fill="#2a2a2a" stroke="#2a2a2a" stroke-width="0.1">3</text>
<path d="M231.2 772.95h1.8M249.7 772.95h-1.8" stroke="#333" stroke-width="0.8"/>
<text x="250.6" y="775.9" font-size="8.3" fill="#2a2a2a" stroke="#2a2a2a" stroke-width="0.1">2</text>
<path d="M231.2 794.475h1.8M249.7 794.475h-1.8" stroke="#333" stroke-width="0.8"/>
<text x="250.6" y="797.425" font-size="8.3" fill="#2a2a2a" stroke="#2a2a2a" stroke-width="0.1">1</text>
<path d="M231.2 816h1.8M249.7 816h-1.8" stroke="#333" stroke-width="0.8"/>
<text x="250.6" y="818.95" font-size="8.3" fill="#2a2a2a" stroke="#2a2a2a" stroke-width="0.1">0</text>
<path d="M231.2 837.525h1.8M249.7 837.525h-1.8" stroke="#333" stroke-width="0.8"/>
<text x="250.6" y="840.475" font-size="8.3" fill="#2a2a2a" stroke="#2a2a2a" stroke-width="0.1">-1</text>
<path d="M231.2 859.05h1.8M249.7 859.05h-1.8" stroke="#333" stroke-width="0.8"/>
<text x="250.6" y="862" font-size="8.3" fill="#2a2a2a" stroke="#2a2a2a" stroke-width="0.1">-2</text>
<path d="M231.2 880.575h1.8M249.7 880.575h-1.8" stroke="#333" stroke-width="0.8"/>
<text x="250.6" y="883.525" font-size="8.3" fill="#2a2a2a" stroke="#2a2a2a" stroke-width="0.1">-3</text>
<text x="250.6" y="905.05" font-size="8.3" fill="#2a2a2a" stroke="#2a2a2a" stroke-width="0.1">-4</text>
<rect x="635.6" y="732.5" width="20.7" height="170.7" fill="url(#jet)" stroke="#333" stroke-width="0.8"/>
<text x="657.2" y="735.45" font-size="8.3" fill="#2a2a2a" stroke="#2a2a2a" stroke-width="0.1">4</text>
<path d="M635.6 753.837h1.8M656.3 753.837h-1.8" stroke="#333" stroke-width="0.8"/>
<text x="657.2" y="756.788" font-size="8.3" fill="#2a2a2a" stroke="#2a2a2a" stroke-width="0.1">3</text>
<path d="M635.6 775.175h1.8M656.3 775.175h-1.8" stroke="#333" stroke-width="0.8"/>
<text x="657.2" y="778.125" font-size="8.3" fill="#2a2a2a" stroke="#2a2a2a" stroke-width="0.1">2</text>
<path d="M635.6 796.513h1.8M656.3 796.513h-1.8" stroke="#333" stroke-width="0.8"/>
<text x="657.2" y="799.463" font-size="8.3" fill="#2a2a2a" stroke="#2a2a2a" stroke-width="0.1">1</text>
<path d="M635.6 817.85h1.8M656.3 817.85h-1.8" stroke="#333" stroke-width="0.8"/>
<text x="657.2" y="820.8" font-size="8.3" fill="#2a2a2a" stroke="#2a2a2a" stroke-width="0.1">0</text>
<path d="M635.6 839.188h1.8M656.3 839.188h-1.8" stroke="#333" stroke-width="0.8"/>
<text x="657.2" y="842.138" font-size="8.3" fill="#2a2a2a" stroke="#2a2a2a" stroke-width="0.1">-1</text>
<path d="M635.6 860.525h1.8M656.3 860.525h-1.8" stroke="#333" stroke-width="0.8"/>
<text x="657.2" y="863.475" font-size="8.3" fill="#2a2a2a" stroke="#2a2a2a" stroke-width="0.1">-2</text>
<path d="M635.6 881.863h1.8M656.3 881.863h-1.8" stroke="#333" stroke-width="0.8"/>
<text x="657.2" y="884.813" font-size="8.3" fill="#2a2a2a" stroke="#2a2a2a" stroke-width="0.1">-3</text>
<text x="657.2" y="906.15" font-size="8.3" fill="#2a2a2a" stroke="#2a2a2a" stroke-width="0.1">-4</text>
<text x="160.8" y="64.85" font-size="8.6" fill="#1e1e1e" stroke="#1e1e1e" stroke-width="0.12" text-anchor="middle">13</text>
<text x="122.5" y="103.95" font-size="8.6" fill="#1e1e1e" stroke="#1e1e1e" stroke-width="0.12" text-anchor="middle">14</text>
<text x="198.6" y="103.95" font-size="8.6" fill="#1e1e1e" stroke="#1e1e1e" stroke-width="0.12" text-anchor="middle">15</text>
<text x="160.8" y="143.95" font-size="8.6" fill="#1e1e1e" stroke="#1e1e1e" stroke-width="0.12" text-anchor="middle">16</text>
<text x="122.5" y="183.05" font-size="8.6" fill="#1e1e1e" stroke="#1e1e1e" stroke-width="0.12" text-anchor="middle">17</text>
<text x="198.6" y="183.05" font-size="8.6" fill="#1e1e1e" stroke="#1e1e1e" stroke-width="0.12" text-anchor="middle">18</text>
<text x="160.8" y="223.15" font-size="8.6" fill="#1e1e1e" stroke="#1e1e1e" stroke-width="0.12" text-anchor="middle">19</text>
<text x="441.5" y="64.95" font-size="8.6" fill="#1e1e1e" stroke="#1e1e1e" stroke-width="0.12" text-anchor="middle">1</text>
<text x="541.6" y="64.95" font-size="8.6" fill="#1e1e1e" stroke="#1e1e1e" stroke-width="0.12" text-anchor="middle">2</text>
<text x="391.2" y="103.85" font-size="8.6" fill="#1e1e1e" stroke="#1e1e1e" stroke-width="0.12" text-anchor="middle">3</text>
<text x="492.1" y="103.85" font-size="8.6" fill="#1e1e1e" stroke="#1e1e1e" stroke-width="0.12" text-anchor="middle">4</text>
<text x="592.5" y="103.85" font-size="8.6" fill="#1e1e1e" stroke="#1e1e1e" stroke-width="0.12" text-anchor="middle">5</text>
<text x="441.5" y="143.85" font-size="8.6" fill="#1e1e1e" stroke="#1e1e1e" stroke-width="0.12" text-anchor="middle">6</text>
<text x="541.6" y="143.85" font-size="8.6" fill="#1e1e1e" stroke="#1e1e1e" stroke-width="0.12" text-anchor="middle">7</text>
<text x="391.2" y="183.55" font-size="8.6" fill="#1e1e1e" stroke="#1e1e1e" stroke-width="0.12" text-anchor="middle">8</text>
<text x="492.1" y="183.55" font-size="8.6" fill="#1e1e1e" stroke="#1e1e1e" stroke-width="0.12" text-anchor="middle">9</text>
<text x="592.5" y="183.55" font-size="8.6" fill="#1e1e1e" stroke="#1e1e1e" stroke-width="0.12" text-anchor="middle">10</text>
<text x="441.5" y="223.25" font-size="8.6" fill="#1e1e1e" stroke="#1e1e1e" stroke-width="0.12" text-anchor="middle">11</text>
<text x="541.6" y="223.25" font-size="8.6" fill="#1e1e1e" stroke="#1e1e1e" stroke-width="0.12" text-anchor="middle">12</text>
<text x="159.1" y="509.45" font-size="8.6" fill="#1e1e1e" stroke="#1e1e1e" stroke-width="0.12" text-anchor="middle">13</text>
<text x="121" y="543.25" font-size="8.6" fill="#1e1e1e" stroke="#1e1e1e" stroke-width="0.12" text-anchor="middle">14</text>
<text x="197.2" y="543.25" font-size="8.6" fill="#1e1e1e" stroke="#1e1e1e" stroke-width="0.12" text-anchor="middle">15</text>
<text x="159.1" y="577.45" font-size="8.6" fill="#1e1e1e" stroke="#1e1e1e" stroke-width="0.12" text-anchor="middle">16</text>
<text x="121" y="611.35" font-size="8.6" fill="#1e1e1e" stroke="#1e1e1e" stroke-width="0.12" text-anchor="middle">17</text>
<text x="197.2" y="611.35" font-size="8.6" fill="#1e1e1e" stroke="#1e1e1e" stroke-width="0.12" text-anchor="middle">18</text>
<text x="159.1" y="645.55" font-size="8.6" fill="#1e1e1e" stroke="#1e1e1e" stroke-width="0.12" text-anchor="middle">19</text>
<text x="439.9" y="509.45" font-size="8.6" fill="#1e1e1e" stroke="#1e1e1e" stroke-width="0.12" text-anchor="middle">1</text>
<text x="541.2" y="509.45" font-size="8.6" fill="#1e1e1e" stroke="#1e1e1e" stroke-width="0.12" text-anchor="middle">2</text>
<text x="389.4" y="543.35" font-size="8.6" fill="#1e1e1e" stroke="#1e1e1e" stroke-width="0.12" text-anchor="middle">3</text>
<text x="491.1" y="543.35" font-size="8.6" fill="#1e1e1e" stroke="#1e1e1e" stroke-width="0.12" text-anchor="middle">4</text>
<text x="592" y="543.35" font-size="8.6" fill="#1e1e1e" stroke="#1e1e1e" stroke-width="0.12" text-anchor="middle">5</text>
<text x="439.9" y="577.95" font-size="8.6" fill="#1e1e1e" stroke="#1e1e1e" stroke-width="0.12" text-anchor="middle">6</text>
<text x="541.2" y="577.95" font-size="8.6" fill="#1e1e1e" stroke="#1e1e1e" stroke-width="0.12" text-anchor="middle">7</text>
<text x="389.4" y="611.55" font-size="8.6" fill="#1e1e1e" stroke="#1e1e1e" stroke-width="0.12" text-anchor="middle">8</text>
<text x="491.1" y="611.55" font-size="8.6" fill="#1e1e1e" stroke="#1e1e1e" stroke-width="0.12" text-anchor="middle">9</text>
<text x="592" y="611.55" font-size="8.6" fill="#1e1e1e" stroke="#1e1e1e" stroke-width="0.12" text-anchor="middle">10</text>
<text x="439.9" y="646.15" font-size="8.6" fill="#1e1e1e" stroke="#1e1e1e" stroke-width="0.12" text-anchor="middle">11</text>
<text x="541.2" y="646.15" font-size="8.6" fill="#1e1e1e" stroke="#1e1e1e" stroke-width="0.12" text-anchor="middle">12</text>
<text x="158.9" y="747.75" font-size="8.6" fill="#1e1e1e" stroke="#1e1e1e" stroke-width="0.12" text-anchor="middle">13</text>
<text x="120.8" y="781.95" font-size="8.6" fill="#1e1e1e" stroke="#1e1e1e" stroke-width="0.12" text-anchor="middle">14</text>
<text x="197.2" y="781.95" font-size="8.6" fill="#1e1e1e" stroke="#1e1e1e" stroke-width="0.12" text-anchor="middle">15</text>
<text x="158.9" y="816.65" font-size="8.6" fill="#1e1e1e" stroke="#1e1e1e" stroke-width="0.12" text-anchor="middle">16</text>
<text x="120.8" y="850.95" font-size="8.6" fill="#1e1e1e" stroke="#1e1e1e" stroke-width="0.12" text-anchor="middle">17</text>
<text x="197.2" y="850.95" font-size="8.6" fill="#1e1e1e" stroke="#1e1e1e" stroke-width="0.12" text-anchor="middle">18</text>
<text x="158.9" y="885.65" font-size="8.6" fill="#1e1e1e" stroke="#1e1e1e" stroke-width="0.12" text-anchor="middle">19</text>
<text x="439.9" y="750.25" font-size="8.6" fill="#1e1e1e" stroke="#1e1e1e" stroke-width="0.12" text-anchor="middle">1</text>
<text x="541.2" y="750.25" font-size="8.6" fill="#1e1e1e" stroke="#1e1e1e" stroke-width="0.12" text-anchor="middle">2</text>
<text x="389.4" y="784.15" font-size="8.6" fill="#1e1e1e" stroke="#1e1e1e" stroke-width="0.12" text-anchor="middle">3</text>
<text x="491.1" y="784.15" font-size="8.6" fill="#1e1e1e" stroke="#1e1e1e" stroke-width="0.12" text-anchor="middle">4</text>
<text x="592" y="784.15" font-size="8.6" fill="#1e1e1e" stroke="#1e1e1e" stroke-width="0.12" text-anchor="middle">5</text>
<text x="439.9" y="818.75" font-size="8.6" fill="#1e1e1e" stroke="#1e1e1e" stroke-width="0.12" text-anchor="middle">6</text>
<text x="541.2" y="818.75" font-size="8.6" fill="#1e1e1e" stroke="#1e1e1e" stroke-width="0.12" text-anchor="middle">7</text>
<text x="389.4" y="852.25" font-size="8.6" fill="#1e1e1e" stroke="#1e1e1e" stroke-width="0.12" text-anchor="middle">8</text>
<text x="491.1" y="852.25" font-size="8.6" fill="#1e1e1e" stroke="#1e1e1e" stroke-width="0.12" text-anchor="middle">9</text>
<text x="592" y="852.25" font-size="8.6" fill="#1e1e1e" stroke="#1e1e1e" stroke-width="0.12" text-anchor="middle">10</text>
<text x="439.9" y="886.95" font-size="8.6" fill="#1e1e1e" stroke="#1e1e1e" stroke-width="0.12" text-anchor="middle">11</text>
<text x="541.2" y="886.95" font-size="8.6" fill="#1e1e1e" stroke="#1e1e1e" stroke-width="0.12" text-anchor="middle">12</text>
<ellipse cx="161.2" cy="140.3" rx="12.4" ry="10.8" fill="none" stroke="#f4c21c" stroke-width="1.9"/>
<ellipse cx="122.4" cy="180" rx="12.6" ry="10.9" fill="none" stroke="#f4c21c" stroke-width="1.9"/>
<text x="183.48" y="284.3" font-size="10.6" textLength="26.91" lengthAdjust="spacingAndGlyphs" font-weight="bold" fill="#111" stroke="#111" stroke-width="0.15">CH16</text>
<path d="M141 344.2V305.4H171.3V310.8" fill="none" stroke="#7e7e7e" stroke-width="1"/>
<path d="M222 362.6V318.9H252.2V323.5" fill="none" stroke="#7e7e7e" stroke-width="1"/>
<path d="M156 302.4H237" stroke="#666" stroke-width="1.1"/>
<ellipse cx="193.7" cy="297.4" rx="1.75" ry="1.25" fill="#111"/>
<path d="M115.6 296.3V396" stroke="#1a1a1a" stroke-width="1.3"/>
<path d="M115.6 296.34h-2.8" stroke="#1a1a1a" stroke-width="1"/>
<text x="100.50" y="299.19" font-size="8" textLength="11.12" lengthAdjust="spacingAndGlyphs" font-weight="bold" fill="#111" stroke="#111" stroke-width="0.15">2.0</text>
<path d="M115.6 312.955h-2.8" stroke="#1a1a1a" stroke-width="1"/>
<text x="100.38" y="315.805" font-size="8" textLength="11.12" lengthAdjust="spacingAndGlyphs" font-weight="bold" fill="#111" stroke="#111" stroke-width="0.15">1.5</text>
<path d="M115.6 329.57h-2.8" stroke="#1a1a1a" stroke-width="1"/>
<text x="100.50" y="332.42" font-size="8" textLength="11.12" lengthAdjust="spacingAndGlyphs" font-weight="bold" fill="#111" stroke="#111" stroke-width="0.15">1.0</text>
<path d="M115.6 346.185h-2.8" stroke="#1a1a1a" stroke-width="1"/>
<text x="100.38" y="349.035" font-size="8" textLength="11.12" lengthAdjust="spacingAndGlyphs" font-weight="bold" fill="#111" stroke="#111" stroke-width="0.15">0.5</text>
<path d="M115.6 362.8h-2.8" stroke="#1a1a1a" stroke-width="1"/>
<text x="100.50" y="365.65" font-size="8" textLength="11.12" lengthAdjust="spacingAndGlyphs" font-weight="bold" fill="#111" stroke="#111" stroke-width="0.15">0.0</text>
<path d="M115.6 379.415h-2.8" stroke="#1a1a1a" stroke-width="1"/>
<text x="97.74" y="382.265" font-size="8" textLength="13.79" lengthAdjust="spacingAndGlyphs" font-weight="bold" fill="#111" stroke="#111" stroke-width="0.15">-0.5</text>
<path d="M115.6 396.03h-2.8" stroke="#1a1a1a" stroke-width="1"/>
<text x="97.86" y="398.88" font-size="8" textLength="13.79" lengthAdjust="spacingAndGlyphs" font-weight="bold" fill="#111" stroke="#111" stroke-width="0.15">-1.0</text>
<path d="M115 396H278" stroke="#4a4a4a" stroke-width="1.4"/>
<path d="M156.3 396v2.8" stroke="#333" stroke-width="1"/>
<path d="M237 396v2.8" stroke="#333" stroke-width="1"/>
<path d="M115.6 362.6H278" stroke="#333" stroke-width="0.9"/>
<path d="M140.95 355V344.2M136.05 344.2H145.85" stroke="#111" stroke-width="1.35"/>
<path d="M171.35 340.2V310.8M166.45 310.8H176.25" stroke="#111" stroke-width="1.35"/>
<path d="M222 367.4V385.6M217.1 385.6H226.9" stroke="#111" stroke-width="1.35"/>
<path d="M252.15 352.8V323.5M247.25 323.5H257.05" stroke="#111" stroke-width="1.35"/>
<rect x="130.75" y="355.55" width="20.4" height="6.5" fill="#ff0000" stroke="#111" stroke-width="1.15"/>
<rect x="161.35" y="340.75" width="20" height="21.3" fill="#0000c0" stroke="#111" stroke-width="1.15"/>
<rect x="211.95" y="363.15" width="20.1" height="3.7" fill="#ff0000" stroke="#111" stroke-width="1.15"/>
<rect x="242.15" y="353.35" width="20" height="8.7" fill="#0000c0" stroke="#111" stroke-width="1.15"/>
<rect x="288.6" y="300.7" width="11.4" height="4.5" rx="0.6" fill="#ff0000" stroke="#111" stroke-width="1.2"/>
<rect x="288.6" y="311.8" width="11.4" height="5.2" rx="0.6" fill="#0000c0" stroke="#111" stroke-width="1.2"/>
<text x="306.41" y="305.8" font-size="8.3" textLength="18.70" lengthAdjust="spacingAndGlyphs" fill="#2a2a2a" stroke="#2a2a2a" stroke-width="0.08">Male</text>
<text x="306.41" y="317.4" font-size="8.3" textLength="28.57" lengthAdjust="spacingAndGlyphs" fill="#2a2a2a" stroke="#2a2a2a" stroke-width="0.08">Female</text>
<text transform="translate(92.4 346.16) rotate(-90)" font-size="8.3" font-weight="bold" text-anchor="middle" textLength="58.95" lengthAdjust="spacingAndGlyphs" fill="#111" stroke="#111" stroke-width="0.15">Oxy-Hb zscore</text>
<text transform="translate(158.9 403.6) scale(1.05 1) rotate(-45)" font-size="8.2" font-weight="bold" text-anchor="end" fill="#111" stroke="#111" stroke-width="0.15">Deception</text>
<text transform="translate(239.9 403.6) scale(1.06 1) rotate(-45)" font-size="8.2" font-weight="bold" text-anchor="end" fill="#111" stroke="#111" stroke-width="0.15">Honesty</text>
<text x="494.73" y="284.3" font-size="10.6" textLength="29.85" lengthAdjust="spacingAndGlyphs" font-weight="bold" fill="#111" stroke="#111" stroke-width="0.15">CH17</text>
<path d="M446.9 326.2V318.3H480.8V340" fill="none" stroke="#7e7e7e" stroke-width="1"/>
<path d="M537.6 341.2V333.7H571.8V358.3" fill="none" stroke="#7e7e7e" stroke-width="1"/>
<path d="M463.4 310.6H553.9" stroke="#666" stroke-width="1.1"/>
<ellipse cx="506.9" cy="302.7" rx="1.75" ry="1.25" fill="#111"/>
<path d="M417.6 295.6V396" stroke="#1a1a1a" stroke-width="1.3"/>
<path d="M417.6 295.5h-2.8" stroke="#1a1a1a" stroke-width="1"/>
<text x="401.00" y="298.35" font-size="8" textLength="13.35" lengthAdjust="spacingAndGlyphs" font-weight="bold" fill="#111" stroke="#111" stroke-width="0.15">1.5</text>
<path d="M417.6 329h-2.8" stroke="#1a1a1a" stroke-width="1"/>
<text x="401.14" y="331.85" font-size="8" textLength="13.35" lengthAdjust="spacingAndGlyphs" font-weight="bold" fill="#111" stroke="#111" stroke-width="0.15">1.0</text>
<path d="M417.6 362.5h-2.8" stroke="#1a1a1a" stroke-width="1"/>
<text x="401.00" y="365.35" font-size="8" textLength="13.35" lengthAdjust="spacingAndGlyphs" font-weight="bold" fill="#111" stroke="#111" stroke-width="0.15">0.5</text>
<path d="M417.6 396h-2.8" stroke="#1a1a1a" stroke-width="1"/>
<text x="401.14" y="398.85" font-size="8" textLength="13.35" lengthAdjust="spacingAndGlyphs" font-weight="bold" fill="#111" stroke="#111" stroke-width="0.15">0.0</text>
<path d="M417 396H600.6" stroke="#4a4a4a" stroke-width="1.4"/>
<path d="M463.5 396v2.8" stroke="#333" stroke-width="1"/>
<path d="M554.4 396v2.8" stroke="#333" stroke-width="1"/>
<path d="M446.7 357.8V326.2M441.8 326.2H451.6" stroke="#111" stroke-width="1.35"/>
<path d="M481 378.6V340M476.1 340H485.9" stroke="#111" stroke-width="1.35"/>
<path d="M537.65 385.5V341.2M532.75 341.2H542.55" stroke="#111" stroke-width="1.35"/>
<path d="M571.85 392.8V358.3M566.95 358.3H576.75" stroke="#111" stroke-width="1.35"/>
<rect x="435.35" y="358.35" width="22.7" height="37.1" fill="#ff0000" stroke="#111" stroke-width="1.15"/>
<rect x="469.75" y="379.15" width="22.5" height="16.3" fill="#0000c0" stroke="#111" stroke-width="1.15"/>
<rect x="526.55" y="386.05" width="22.2" height="9.4" fill="#ff0000" stroke="#111" stroke-width="1.15"/>
<rect x="560.75" y="393.35" width="22.2" height="2.1" fill="#0000c0" stroke="#111" stroke-width="1.15"/>
<rect x="612.8" y="300.5" width="13" height="4.5" rx="0.6" fill="#ff0000" stroke="#111" stroke-width="1.2"/>
<rect x="612.8" y="311.9" width="13" height="5.1" rx="0.6" fill="#0000c0" stroke="#111" stroke-width="1.2"/>
<text x="632.74" y="305.4" font-size="8.3" textLength="20.61" lengthAdjust="spacingAndGlyphs" fill="#2a2a2a" stroke="#2a2a2a" stroke-width="0.08">Male</text>
<text x="632.73" y="317" font-size="8.3" textLength="32.00" lengthAdjust="spacingAndGlyphs" fill="#2a2a2a" stroke="#2a2a2a" stroke-width="0.08">Female</text>
<text transform="translate(395.6 346.66) rotate(-90)" font-size="8.3" font-weight="bold" text-anchor="middle" textLength="56.93" lengthAdjust="spacingAndGlyphs" fill="#111" stroke="#111" stroke-width="0.15">Oxy-Hb zscore</text>
<text transform="translate(466.6 404.2) scale(1.14 1) rotate(-45)" font-size="8.2" font-weight="bold" text-anchor="end" fill="#111" stroke="#111" stroke-width="0.15">Deception</text>
<text transform="translate(557.2 404.2) scale(1.15 1) rotate(-45)" font-size="8.2" font-weight="bold" text-anchor="end" fill="#111" stroke="#111" stroke-width="0.15">Honesty</text>
</svg></body></html>
